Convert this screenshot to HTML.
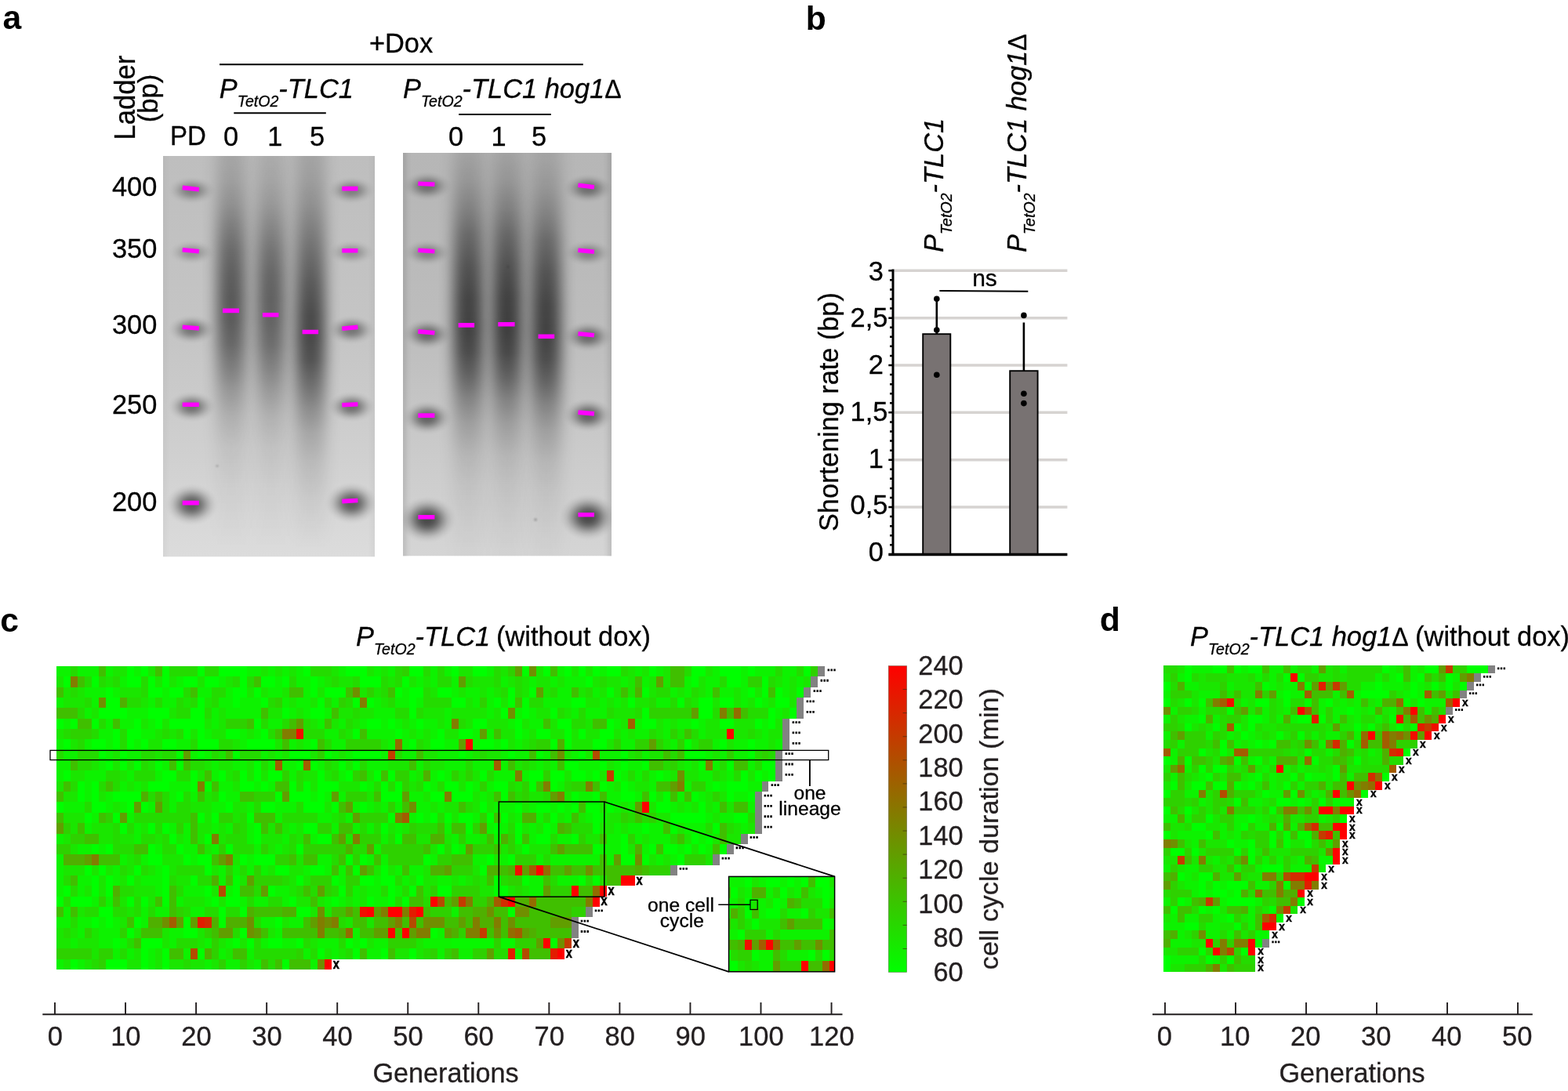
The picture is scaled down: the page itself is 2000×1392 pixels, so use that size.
<!DOCTYPE html>
<html lang="en"><head><meta charset="utf-8"><title>Figure</title>
<style>html,body{margin:0;padding:0;background:#fff}body{width:2000px;height:1392px;overflow:hidden}svg{display:block}text{font-family:"Liberation Sans",Arial,Helvetica,sans-serif}.i{font-style:italic}</style>
</head><body>
<svg width="2000" height="1392" viewBox="0 0 2000 1392">
<rect width="2000" height="1392" fill="#fff"/>
<defs>
<linearGradient id="cb" x1="0" y1="0" x2="0" y2="1"><stop offset="0" stop-color="#ff0000"/><stop offset="1" stop-color="#00ff00"/></linearGradient>
<linearGradient id="g1bg" x1="0" y1="0" x2="0" y2="1"><stop offset="0" stop-color="#bebebe"/><stop offset="0.45" stop-color="#c5c5c5"/><stop offset="0.75" stop-color="#d0d0d0"/><stop offset="1" stop-color="#dcdcdc"/></linearGradient>
<linearGradient id="g2bg" x1="0" y1="0" x2="0" y2="1"><stop offset="0" stop-color="#b6b6b6"/><stop offset="0.45" stop-color="#bdbdbd"/><stop offset="0.75" stop-color="#cbcbcb"/><stop offset="1" stop-color="#d5d5d5"/></linearGradient>
<linearGradient id="l10" x1="0" y1="0" x2="0" y2="1"><stop offset="0.0803" stop-color="#000" stop-opacity="0.13"/><stop offset="0.1311" stop-color="#000" stop-opacity="0.17"/><stop offset="0.1803" stop-color="#000" stop-opacity="0.25"/><stop offset="0.2295" stop-color="#000" stop-opacity="0.36"/><stop offset="0.2787" stop-color="#000" stop-opacity="0.46"/><stop offset="0.3279" stop-color="#000" stop-opacity="0.52"/><stop offset="0.377" stop-color="#000" stop-opacity="0.55"/><stop offset="0.4262" stop-color="#000" stop-opacity="0.54"/><stop offset="0.4754" stop-color="#000" stop-opacity="0.48"/><stop offset="0.5246" stop-color="#000" stop-opacity="0.37"/><stop offset="0.5738" stop-color="#000" stop-opacity="0.25"/><stop offset="0.623" stop-color="#000" stop-opacity="0.15"/><stop offset="0.6885" stop-color="#000" stop-opacity="0.07"/><stop offset="0.7705" stop-color="#000" stop-opacity="0.03"/><stop offset="0.9016" stop-color="#000" stop-opacity="0"/></linearGradient>
<linearGradient id="l11" x1="0" y1="0" x2="0" y2="1"><stop offset="0.0803" stop-color="#000" stop-opacity="0.1"/><stop offset="0.1311" stop-color="#000" stop-opacity="0.14"/><stop offset="0.1803" stop-color="#000" stop-opacity="0.21"/><stop offset="0.2295" stop-color="#000" stop-opacity="0.31"/><stop offset="0.2787" stop-color="#000" stop-opacity="0.41"/><stop offset="0.3279" stop-color="#000" stop-opacity="0.48"/><stop offset="0.377" stop-color="#000" stop-opacity="0.51"/><stop offset="0.4262" stop-color="#000" stop-opacity="0.5"/><stop offset="0.4754" stop-color="#000" stop-opacity="0.45"/><stop offset="0.5246" stop-color="#000" stop-opacity="0.35"/><stop offset="0.5738" stop-color="#000" stop-opacity="0.24"/><stop offset="0.623" stop-color="#000" stop-opacity="0.14"/><stop offset="0.6885" stop-color="#000" stop-opacity="0.07"/><stop offset="0.7705" stop-color="#000" stop-opacity="0.03"/><stop offset="0.9016" stop-color="#000" stop-opacity="0"/></linearGradient>
<linearGradient id="l12" x1="0" y1="0" x2="0" y2="1"><stop offset="0.0803" stop-color="#000" stop-opacity="0.14"/><stop offset="0.1311" stop-color="#000" stop-opacity="0.18"/><stop offset="0.1803" stop-color="#000" stop-opacity="0.25"/><stop offset="0.2295" stop-color="#000" stop-opacity="0.34"/><stop offset="0.2787" stop-color="#000" stop-opacity="0.43"/><stop offset="0.3443" stop-color="#000" stop-opacity="0.54"/><stop offset="0.4098" stop-color="#000" stop-opacity="0.62"/><stop offset="0.459" stop-color="#000" stop-opacity="0.64"/><stop offset="0.5082" stop-color="#000" stop-opacity="0.59"/><stop offset="0.5574" stop-color="#000" stop-opacity="0.46"/><stop offset="0.6066" stop-color="#000" stop-opacity="0.32"/><stop offset="0.6557" stop-color="#000" stop-opacity="0.2"/><stop offset="0.7213" stop-color="#000" stop-opacity="0.11"/><stop offset="0.8033" stop-color="#000" stop-opacity="0.05"/><stop offset="0.9016" stop-color="#000" stop-opacity="0"/></linearGradient>
<linearGradient id="l20" x1="0" y1="0" x2="0" y2="1"><stop offset="0.0738" stop-color="#000" stop-opacity="0.11"/><stop offset="0.1311" stop-color="#000" stop-opacity="0.18"/><stop offset="0.1885" stop-color="#000" stop-opacity="0.3"/><stop offset="0.2459" stop-color="#000" stop-opacity="0.44"/><stop offset="0.3115" stop-color="#000" stop-opacity="0.56"/><stop offset="0.377" stop-color="#000" stop-opacity="0.64"/><stop offset="0.4426" stop-color="#000" stop-opacity="0.66"/><stop offset="0.4918" stop-color="#000" stop-opacity="0.61"/><stop offset="0.541" stop-color="#000" stop-opacity="0.49"/><stop offset="0.5902" stop-color="#000" stop-opacity="0.33"/><stop offset="0.6393" stop-color="#000" stop-opacity="0.21"/><stop offset="0.7049" stop-color="#000" stop-opacity="0.11"/><stop offset="0.7705" stop-color="#000" stop-opacity="0.06"/><stop offset="0.8525" stop-color="#000" stop-opacity="0.03"/><stop offset="0.9098" stop-color="#000" stop-opacity="0.01"/></linearGradient>
<linearGradient id="l21" x1="0" y1="0" x2="0" y2="1"><stop offset="0.0738" stop-color="#000" stop-opacity="0.1133"/><stop offset="0.1311" stop-color="#000" stop-opacity="0.1854"/><stop offset="0.1885" stop-color="#000" stop-opacity="0.309"/><stop offset="0.2459" stop-color="#000" stop-opacity="0.4532"/><stop offset="0.3115" stop-color="#000" stop-opacity="0.5768"/><stop offset="0.377" stop-color="#000" stop-opacity="0.6592"/><stop offset="0.4426" stop-color="#000" stop-opacity="0.6798"/><stop offset="0.4918" stop-color="#000" stop-opacity="0.6283"/><stop offset="0.541" stop-color="#000" stop-opacity="0.5047"/><stop offset="0.5902" stop-color="#000" stop-opacity="0.3399"/><stop offset="0.6393" stop-color="#000" stop-opacity="0.2163"/><stop offset="0.7049" stop-color="#000" stop-opacity="0.1133"/><stop offset="0.7705" stop-color="#000" stop-opacity="0.0618"/><stop offset="0.8525" stop-color="#000" stop-opacity="0.0309"/><stop offset="0.9098" stop-color="#000" stop-opacity="0.0103"/></linearGradient>
<linearGradient id="l22" x1="0" y1="0" x2="0" y2="1"><stop offset="0.0869" stop-color="#000" stop-opacity="0.11"/><stop offset="0.1443" stop-color="#000" stop-opacity="0.18"/><stop offset="0.2016" stop-color="#000" stop-opacity="0.3"/><stop offset="0.259" stop-color="#000" stop-opacity="0.44"/><stop offset="0.3246" stop-color="#000" stop-opacity="0.56"/><stop offset="0.3902" stop-color="#000" stop-opacity="0.64"/><stop offset="0.4557" stop-color="#000" stop-opacity="0.66"/><stop offset="0.5049" stop-color="#000" stop-opacity="0.61"/><stop offset="0.5541" stop-color="#000" stop-opacity="0.49"/><stop offset="0.6033" stop-color="#000" stop-opacity="0.33"/><stop offset="0.6525" stop-color="#000" stop-opacity="0.21"/><stop offset="0.718" stop-color="#000" stop-opacity="0.11"/><stop offset="0.7836" stop-color="#000" stop-opacity="0.06"/><stop offset="0.8656" stop-color="#000" stop-opacity="0.03"/><stop offset="0.923" stop-color="#000" stop-opacity="0.01"/></linearGradient>
<radialGradient id="rb"><stop offset="0" stop-color="#000" stop-opacity="1.000"/><stop offset="0.12" stop-color="#000" stop-opacity="0.980"/><stop offset="0.24" stop-color="#000" stop-opacity="0.900"/><stop offset="0.36" stop-color="#000" stop-opacity="0.750"/><stop offset="0.48" stop-color="#000" stop-opacity="0.550"/><stop offset="0.6" stop-color="#000" stop-opacity="0.350"/><stop offset="0.72" stop-color="#000" stop-opacity="0.180"/><stop offset="0.84" stop-color="#000" stop-opacity="0.070"/><stop offset="0.93" stop-color="#000" stop-opacity="0.020"/><stop offset="1" stop-color="#000" stop-opacity="0.000"/></radialGradient>
<filter id="bl" x="-50%" y="-20%" width="200%" height="140%" color-interpolation-filters="sRGB"><feGaussianBlur stdDeviation="9 2"/></filter>
<filter id="bb" x="-120%" y="-250%" width="340%" height="600%" color-interpolation-filters="sRGB"><feGaussianBlur stdDeviation="7.5 6"/></filter>
<filter id="bs" x="-100%" y="-100%" width="300%" height="300%"><feGaussianBlur stdDeviation="0.9"/></filter>
<filter id="bv" x="-300%" y="-5%" width="700%" height="110%" color-interpolation-filters="sRGB"><feGaussianBlur stdDeviation="4 0"/></filter>
<clipPath id="c1"><rect x="208" y="199" width="270" height="511.5"/></clipPath>
<clipPath id="c2"><rect x="514" y="195" width="266" height="514.5"/></clipPath>
<clipPath id="ci"><rect x="929.6" y="1118.4" width="135" height="121.4"/></clipPath>
</defs>
<g font-weight="bold" fill="#000">
<text transform="translate(3.4 37.3)" font-size="42.6">a</text>
<text transform="translate(1027.8 37.5)" font-size="42.6">b</text>
<text transform="translate(0.2 805.6)" font-size="42.6">c</text>
<text transform="translate(1402.8 805)" font-size="42.6">d</text>
</g>
<g fill="#000">
<text transform="translate(172.2 124.6) rotate(-90) scale(1 1.05)" font-size="34.6" text-anchor="middle" stroke="#000" stroke-width="0.3">Ladder</text>
<text transform="translate(200.5 125.6) rotate(-90) scale(1 1.03)" font-size="34.6" text-anchor="middle" stroke="#000" stroke-width="0.3">(bp)</text>
<text transform="translate(511.5 67) scale(1 1.04)" font-size="34.4" text-anchor="middle" stroke="#000" stroke-width="0.3">+Dox</text>
<text transform="translate(217 184.6) scale(1 1.04)" font-size="33" stroke="#000" stroke-width="0.3">PD</text>
<text transform="translate(294.5 186.1) scale(1 1.035)" font-size="34.4" text-anchor="middle" stroke="#000" stroke-width="0.3">0</text>
<text transform="translate(350.8 186.1) scale(1 1.035)" font-size="34.4" text-anchor="middle" stroke="#000" stroke-width="0.3">1</text>
<text transform="translate(404.5 186.1) scale(1 1.035)" font-size="34.4" text-anchor="middle" stroke="#000" stroke-width="0.3">5</text>
<text transform="translate(581.5 186.1) scale(1 1.035)" font-size="34.4" text-anchor="middle" stroke="#000" stroke-width="0.3">0</text>
<text transform="translate(636.1 186.1) scale(1 1.035)" font-size="34.4" text-anchor="middle" stroke="#000" stroke-width="0.3">1</text>
<text transform="translate(687.5 186.1) scale(1 1.035)" font-size="34.4" text-anchor="middle" stroke="#000" stroke-width="0.3">5</text>
<text transform="translate(279.8 124.8) scale(1 1.03)" font-size="34.4" stroke="#000" stroke-width="0.3"><tspan class="i">P<tspan font-size="19.6" dy="10.6">TetO2</tspan><tspan dy="-10.6">-TLC1</tspan></tspan></text>
<text transform="translate(514 124.8) scale(1 1.03)" font-size="34.4" stroke="#000" stroke-width="0.3"><tspan class="i">P<tspan font-size="19.6" dy="10.6">TetO2</tspan><tspan dy="-10.6">-TLC1 hog1</tspan></tspan><tspan font-size="32">Δ</tspan></text>
<text transform="translate(200.3 249.9) scale(1 1.035)" font-size="34.4" text-anchor="end" stroke="#000" stroke-width="0.3">400</text>
<text transform="translate(200.3 329.3) scale(1 1.035)" font-size="34.4" text-anchor="end" stroke="#000" stroke-width="0.3">350</text>
<text transform="translate(200.3 426.3) scale(1 1.035)" font-size="34.4" text-anchor="end" stroke="#000" stroke-width="0.3">300</text>
<text transform="translate(200.3 527.9) scale(1 1.035)" font-size="34.4" text-anchor="end" stroke="#000" stroke-width="0.3">250</text>
<text transform="translate(200.3 651.6) scale(1 1.035)" font-size="34.4" text-anchor="end" stroke="#000" stroke-width="0.3">200</text>
</g>
<g stroke="#000" stroke-width="1.9" fill="none">
<path d="M280 82.2H743.8"/>
<path d="M298.3 144.3H415.8"/>
<path d="M585.2 146H702.8"/>
</g>
<g clip-path="url(#c1)">
<rect x="208" y="199" width="270" height="511.5" fill="url(#g1bg)"/>
<rect x="206" y="179" width="3" height="551.5" fill="#000" opacity="0.1" filter="url(#bv)"/>
<rect x="477" y="179" width="3" height="551.5" fill="#000" opacity="0.1" filter="url(#bv)"/>
<rect x="276.5" y="150" width="37" height="610" fill="url(#l10)" filter="url(#bl)"/>
<rect x="327" y="150" width="37" height="610" fill="url(#l11)" filter="url(#bl)"/>
<rect x="377" y="150" width="38" height="610" fill="url(#l12)" filter="url(#bl)"/>
<ellipse cx="244.5" cy="243" rx="31" ry="18" fill="url(#rb)" opacity="0.34"/>
<ellipse cx="244.5" cy="322" rx="30" ry="16" fill="url(#rb)" opacity="0.25"/>
<ellipse cx="244.5" cy="420.5" rx="31" ry="19" fill="url(#rb)" opacity="0.4"/>
<ellipse cx="244.5" cy="519" rx="31" ry="20" fill="url(#rb)" opacity="0.44"/>
<ellipse cx="244.5" cy="644" rx="34" ry="27" fill="url(#rb)" opacity="0.57"/>
<ellipse cx="448.5" cy="243" rx="31" ry="18" fill="url(#rb)" opacity="0.34"/>
<ellipse cx="448.5" cy="322" rx="30" ry="16" fill="url(#rb)" opacity="0.25"/>
<ellipse cx="448.5" cy="421" rx="31" ry="19" fill="url(#rb)" opacity="0.4"/>
<ellipse cx="448.5" cy="519" rx="31" ry="20" fill="url(#rb)" opacity="0.44"/>
<ellipse cx="448.5" cy="642" rx="34" ry="27" fill="url(#rb)" opacity="0.57"/>
</g>
<g clip-path="url(#c2)">
<rect x="514" y="195" width="266" height="514.5" fill="url(#g2bg)"/>
<rect x="511" y="175" width="5" height="554.5" fill="#000" opacity="0.22" filter="url(#bv)"/>
<rect x="778" y="175" width="5" height="554.5" fill="#000" opacity="0.22" filter="url(#bv)"/>
<rect x="578.5" y="150" width="38" height="610" fill="url(#l20)" filter="url(#bl)"/>
<rect x="628" y="150" width="38" height="610" fill="url(#l21)" filter="url(#bl)"/>
<rect x="677.5" y="150" width="38" height="610" fill="url(#l22)" filter="url(#bl)"/>
<ellipse cx="545" cy="237.5" rx="32" ry="19" fill="url(#rb)" opacity="0.4"/>
<ellipse cx="545" cy="322.5" rx="31" ry="17" fill="url(#rb)" opacity="0.3"/>
<ellipse cx="545" cy="426.5" rx="32" ry="20" fill="url(#rb)" opacity="0.44"/>
<ellipse cx="545" cy="533" rx="32" ry="22" fill="url(#rb)" opacity="0.5"/>
<ellipse cx="545" cy="663" rx="37" ry="30" fill="url(#rb)" opacity="0.65"/>
<ellipse cx="750" cy="240.5" rx="32" ry="19" fill="url(#rb)" opacity="0.4"/>
<ellipse cx="750" cy="323" rx="31" ry="17" fill="url(#rb)" opacity="0.3"/>
<ellipse cx="750" cy="429.5" rx="32" ry="20" fill="url(#rb)" opacity="0.44"/>
<ellipse cx="750" cy="530" rx="32" ry="22" fill="url(#rb)" opacity="0.5"/>
<ellipse cx="750" cy="660" rx="37" ry="30" fill="url(#rb)" opacity="0.65"/>
</g>
<g fill="#000" opacity=".2" filter="url(#bs)"><circle cx="277" cy="594.5" r="1.6"/><circle cx="683" cy="663" r="2.1"/><circle cx="648" cy="340.5" r="1.3"/></g>
<g stroke="#ff00ff" stroke-width="5.6" fill="none">
<path d="M232.7 239.4L253.8 241.8M232.7 318.8L253.8 320.8M232.7 417.2L253.8 419M232.7 516.2L253.8 516.2M232.7 641.6L253.8 641.6M436.3 240.6L456.4 240.6M436.3 319.8L456.4 319.8M436.3 419.2L456.4 417.4M436.3 516.8L456.4 515.8M436.3 639.6L456.4 638.5M284 396.4L305.1 396.4M334.9 401.8L355.4 401.8M385.6 423.5L406.1 423.5M533.3 234.3L554.4 235.3M533.3 319.2L554.4 320.8M533.3 422.9L554.4 424.7M533.3 530.1L554.4 530.1M533.3 659.8L554.4 659.8M737.4 236.3L757.9 238.7M737.4 319.2L757.9 321.2M737.4 425.7L757.9 427.8M737.4 526.1L757.9 527.9M737.4 656.8L757.9 656.8M584.6 414.9L605.1 414.9M635.3 413.7L656.6 413.7M686.5 429.2L707.2 429.2"/>
</g>
<g stroke="#d6d3d1" stroke-width="3.5">
<path d="M1140.5 647.05H1361.4"/>
<path d="M1140.5 586.7H1361.4"/>
<path d="M1140.5 526.35H1361.4"/>
<path d="M1140.5 466H1361.4"/>
<path d="M1140.5 405.65H1361.4"/>
<path d="M1140.5 345.3H1361.4"/>
</g>
<g stroke="#000" stroke-width="1.9" fill="#787272">
<rect x="1177.2" y="426.2" width="35.1" height="281"/>
<rect x="1288.2" y="473.2" width="35.4" height="234"/>
</g>
<g stroke="#000" stroke-width="2.6" fill="none"><path d="M1194.8 381.2V426M1305.9 411.4V473"/></g>
<g fill="#000">
<circle cx="1194.8" cy="381.3" r="3.8"/>
<circle cx="1194.8" cy="421" r="3.8"/>
<circle cx="1194.8" cy="478.2" r="3.8"/>
<circle cx="1305.9" cy="402.4" r="3.8"/>
<circle cx="1305.9" cy="502.2" r="3.8"/>
<circle cx="1305.9" cy="514.6" r="3.8"/>
</g>
<g stroke="#000" fill="none">
<path stroke-width="3" d="M1139 343.4V709.1"/>
<path stroke-width="3.5" d="M1133.3 707.4H1361.4"/>
<path stroke-width="2.5" d="M1135 695.33H1138M1135 683.26H1138M1135 671.19H1138M1135 659.12H1138M1133.3 647.05H1138M1135 634.98H1138M1135 622.91H1138M1135 610.84H1138M1135 598.77H1138M1133.3 586.7H1138M1135 574.63H1138M1135 562.56H1138M1135 550.49H1138M1135 538.42H1138M1133.3 526.35H1138M1135 514.28H1138M1135 502.21H1138M1135 490.14H1138M1135 478.07H1138M1133.3 466H1138M1135 453.93H1138M1135 441.86H1138M1135 429.79H1138M1135 417.72H1138M1133.3 405.65H1138M1135 393.58H1138M1135 381.51H1138M1135 369.44H1138M1135 357.37H1138M1133.3 345.3H1138"/>
<path stroke-width="1.9" d="M1198.4 371L1311.3 371.8"/>
</g>
<g fill="#000">
<text transform="translate(1126.9 716.1) scale(1 1.04)" font-size="34.4" text-anchor="end" stroke="#000" stroke-width="0.3">0</text>
<text transform="translate(1132.4 655.8) scale(1 1.04)" font-size="34.4" text-anchor="end" stroke="#000" stroke-width="0.3">0,5</text>
<text transform="translate(1126.9 596.9) scale(1 1.04)" font-size="34.4" text-anchor="end" stroke="#000" stroke-width="0.3">1</text>
<text transform="translate(1132.4 536.9) scale(1 1.04)" font-size="34.4" text-anchor="end" stroke="#000" stroke-width="0.3">1,5</text>
<text transform="translate(1126.9 477.2) scale(1 1.04)" font-size="34.4" text-anchor="end" stroke="#000" stroke-width="0.3">2</text>
<text transform="translate(1132.4 416.5) scale(1 1.04)" font-size="34.4" text-anchor="end" stroke="#000" stroke-width="0.3">2,5</text>
<text transform="translate(1126.9 358.1) scale(1 1.04)" font-size="34.4" text-anchor="end" stroke="#000" stroke-width="0.3">3</text>
<text transform="translate(1256 364.8)" font-size="30" text-anchor="middle" stroke="#000" stroke-width="0.3">ns</text>
<text transform="translate(1068.9 525.6) rotate(-90) scale(1 1.02)" font-size="34.3" text-anchor="middle" stroke="#000" stroke-width="0.3">Shortening rate (bp)</text>
<text transform="translate(1203.2 322) rotate(-90) scale(1 1.03)" font-size="34.4" stroke="#000" stroke-width="0.3"><tspan class="i">P<tspan font-size="19.6" dy="10.6">TetO2</tspan><tspan dy="-10.6">-TLC1</tspan></tspan></text>
<text transform="translate(1309.2 322) rotate(-90) scale(1 1.03)" font-size="34.4" stroke="#000" stroke-width="0.3"><tspan class="i">P<tspan font-size="19.6" dy="10.6">TetO2</tspan><tspan dy="-10.6">-TLC1 hog1</tspan></tspan><tspan font-size="32">Δ</tspan></text>
</g>
<g shape-rendering="crispEdges"><path fill="#0df200" d="M72 850H81V863.35H72ZM81 850H89.99V863.35H81ZM98.98 850H107.98V863.35H98.98ZM107.98 850H116.97V863.35H107.98ZM116.97 850H125.97V863.35H116.97ZM134.97 850H143.96V863.35H134.97ZM170.94 850H179.94V863.35H170.94ZM314.87 850H323.86V863.35H314.87ZM323.86 850H332.85V863.35H323.86ZM341.85 850H350.84V863.35H341.85ZM359.84 850H368.83V863.35H359.84ZM377.83 850H386.82V863.35H377.83ZM431.8 850H440.79V863.35H431.8ZM476.77 850H485.77V863.35H476.77ZM494.76 850H503.76V863.35H494.76ZM548.73 850H557.73V863.35H548.73ZM566.72 850H575.72V863.35H566.72ZM620.69 850H629.69V863.35H620.69ZM710.64 850H719.64V863.35H710.64ZM764.61 850H773.61V863.35H764.61ZM809.59 850H818.58V863.35H809.59ZM836.57 850H845.57V863.35H836.57ZM908.53 850H917.53V863.35H908.53ZM944.51 850H953.51V863.35H944.51ZM962.5 850H971.5V863.35H962.5ZM971.5 850H980.49V863.35H971.5ZM980.49 850H989.49V863.35H980.49ZM998.48 850H1007.48V863.35H998.48ZM1007.48 850H1016.47V863.35H1007.48ZM152.95 863.35H161.95V876.69H152.95ZM224.91 863.35H233.91V876.69H224.91ZM278.88 863.35H287.88V876.69H278.88ZM350.84 863.35H359.84V876.69H350.84ZM377.83 863.35H386.82V876.69H377.83ZM386.82 863.35H395.82V876.69H386.82ZM404.81 863.35H413.81V876.69H404.81ZM530.74 863.35H539.74V876.69H530.74ZM548.73 863.35H557.73V876.69H548.73ZM575.72 863.35H584.71V876.69H575.72ZM638.68 863.35H647.68V876.69H638.68ZM674.66 863.35H683.66V876.69H674.66ZM701.65 863.35H710.64V876.69H701.65ZM719.64 863.35H728.63V876.69H719.64ZM728.63 863.35H737.63V876.69H728.63ZM737.63 863.35H746.62V876.69H737.63ZM791.6 863.35H800.59V876.69H791.6ZM818.58 863.35H827.58V876.69H818.58ZM872.55 863.35H881.55V876.69H872.55ZM899.54 863.35H908.53V876.69H899.54ZM908.53 863.35H917.53V876.69H908.53ZM944.51 863.35H953.51V876.69H944.51ZM998.48 863.35H1007.48V876.69H998.48ZM1016.47 863.35H1025.47V876.69H1016.47ZM107.98 876.69H116.97V890.03H107.98ZM116.97 876.69H125.97V890.03H116.97ZM125.97 876.69H134.97V890.03H125.97ZM143.96 876.69H152.95V890.03H143.96ZM206.92 876.69H215.92V890.03H206.92ZM251.9 876.69H260.89V890.03H251.9ZM260.89 876.69H269.89V890.03H260.89ZM287.88 876.69H296.88V890.03H287.88ZM341.85 876.69H350.84V890.03H341.85ZM350.84 876.69H359.84V890.03H350.84ZM386.82 876.69H395.82V890.03H386.82ZM512.75 876.69H521.75V890.03H512.75ZM575.72 876.69H584.71V890.03H575.72ZM593.71 876.69H602.7V890.03H593.71ZM602.7 876.69H611.7V890.03H602.7ZM620.69 876.69H629.69V890.03H620.69ZM710.64 876.69H719.64V890.03H710.64ZM719.64 876.69H728.63V890.03H719.64ZM755.62 876.69H764.61V890.03H755.62ZM854.56 876.69H863.56V890.03H854.56ZM872.55 876.69H881.55V890.03H872.55ZM899.54 876.69H908.53V890.03H899.54ZM917.53 876.69H926.52V890.03H917.53ZM926.52 876.69H935.52V890.03H926.52ZM944.51 876.69H953.51V890.03H944.51ZM998.48 876.69H1007.48V890.03H998.48ZM72 890.03H81V903.38H72ZM116.97 890.03H125.97V903.38H116.97ZM188.94 890.03H197.93V903.38H188.94ZM206.92 890.03H215.92V903.38H206.92ZM215.92 890.03H224.91V903.38H215.92ZM278.88 890.03H287.88V903.38H278.88ZM287.88 890.03H296.88V903.38H287.88ZM305.87 890.03H314.87V903.38H305.87ZM314.87 890.03H323.86V903.38H314.87ZM323.86 890.03H332.85V903.38H323.86ZM359.84 890.03H368.83V903.38H359.84ZM377.83 890.03H386.82V903.38H377.83ZM386.82 890.03H395.82V903.38H386.82ZM422.8 890.03H431.8V903.38H422.8ZM476.77 890.03H485.77V903.38H476.77ZM503.76 890.03H512.75V903.38H503.76ZM512.75 890.03H521.75V903.38H512.75ZM530.74 890.03H539.74V903.38H530.74ZM602.7 890.03H611.7V903.38H602.7ZM620.69 890.03H629.69V903.38H620.69ZM692.65 890.03H701.65V903.38H692.65ZM701.65 890.03H710.64V903.38H701.65ZM710.64 890.03H719.64V903.38H710.64ZM719.64 890.03H728.63V903.38H719.64ZM764.61 890.03H773.61V903.38H764.61ZM782.6 890.03H791.6V903.38H782.6ZM836.57 890.03H845.57V903.38H836.57ZM845.57 890.03H854.56V903.38H845.57ZM944.51 890.03H953.51V903.38H944.51ZM971.5 890.03H980.49V903.38H971.5ZM107.98 903.38H116.97V916.73H107.98ZM161.95 903.38H170.94V916.73H161.95ZM170.94 903.38H179.94V916.73H170.94ZM179.94 903.38H188.94V916.73H179.94ZM269.89 903.38H278.88V916.73H269.89ZM287.88 903.38H296.88V916.73H287.88ZM296.88 903.38H305.87V916.73H296.88ZM305.87 903.38H314.87V916.73H305.87ZM314.87 903.38H323.86V916.73H314.87ZM323.86 903.38H332.85V916.73H323.86ZM368.83 903.38H377.83V916.73H368.83ZM386.82 903.38H395.82V916.73H386.82ZM413.81 903.38H422.8V916.73H413.81ZM476.77 903.38H485.77V916.73H476.77ZM485.77 903.38H494.76V916.73H485.77ZM494.76 903.38H503.76V916.73H494.76ZM566.72 903.38H575.72V916.73H566.72ZM620.69 903.38H629.69V916.73H620.69ZM656.67 903.38H665.67V916.73H656.67ZM674.66 903.38H683.66V916.73H674.66ZM728.63 903.38H737.63V916.73H728.63ZM746.62 903.38H755.62V916.73H746.62ZM755.62 903.38H764.61V916.73H755.62ZM764.61 903.38H773.61V916.73H764.61ZM989.49 903.38H998.48V916.73H989.49ZM81 916.73H89.99V930.07H81ZM134.97 916.73H143.96V930.07H134.97ZM152.95 916.73H161.95V930.07H152.95ZM161.95 916.73H170.94V930.07H161.95ZM188.94 916.73H197.93V930.07H188.94ZM269.89 916.73H278.88V930.07H269.89ZM341.85 916.73H350.84V930.07H341.85ZM350.84 916.73H359.84V930.07H350.84ZM404.81 916.73H413.81V930.07H404.81ZM431.8 916.73H440.79V930.07H431.8ZM458.78 916.73H467.78V930.07H458.78ZM485.77 916.73H494.76V930.07H485.77ZM503.76 916.73H512.75V930.07H503.76ZM521.75 916.73H530.74V930.07H521.75ZM539.74 916.73H548.73V930.07H539.74ZM548.73 916.73H557.73V930.07H548.73ZM566.72 916.73H575.72V930.07H566.72ZM647.68 916.73H656.67V930.07H647.68ZM674.66 916.73H683.66V930.07H674.66ZM683.66 916.73H692.65V930.07H683.66ZM782.6 916.73H791.6V930.07H782.6ZM809.59 916.73H818.58V930.07H809.59ZM845.57 916.73H854.56V930.07H845.57ZM863.56 916.73H872.55V930.07H863.56ZM872.55 916.73H881.55V930.07H872.55ZM890.54 916.73H899.54V930.07H890.54ZM971.5 916.73H980.49V930.07H971.5ZM125.97 930.07H134.97V943.41H125.97ZM134.97 930.07H143.96V943.41H134.97ZM179.94 930.07H188.94V943.41H179.94ZM188.94 930.07H197.93V943.41H188.94ZM260.89 930.07H269.89V943.41H260.89ZM305.87 930.07H314.87V943.41H305.87ZM323.86 930.07H332.85V943.41H323.86ZM413.81 930.07H422.8V943.41H413.81ZM422.8 930.07H431.8V943.41H422.8ZM467.78 930.07H476.77V943.41H467.78ZM476.77 930.07H485.77V943.41H476.77ZM485.77 930.07H494.76V943.41H485.77ZM494.76 930.07H503.76V943.41H494.76ZM512.75 930.07H521.75V943.41H512.75ZM530.74 930.07H539.74V943.41H530.74ZM548.73 930.07H557.73V943.41H548.73ZM602.7 930.07H611.7V943.41H602.7ZM620.69 930.07H629.69V943.41H620.69ZM665.67 930.07H674.66V943.41H665.67ZM791.6 930.07H800.59V943.41H791.6ZM809.59 930.07H818.58V943.41H809.59ZM818.58 930.07H827.58V943.41H818.58ZM845.57 930.07H854.56V943.41H845.57ZM890.54 930.07H899.54V943.41H890.54ZM971.5 930.07H980.49V943.41H971.5ZM72 943.41H81V956.76H72ZM107.98 943.41H116.97V956.76H107.98ZM134.97 943.41H143.96V956.76H134.97ZM170.94 943.41H179.94V956.76H170.94ZM224.91 943.41H233.91V956.76H224.91ZM233.91 943.41H242.9V956.76H233.91ZM305.87 943.41H314.87V956.76H305.87ZM368.83 943.41H377.83V956.76H368.83ZM386.82 943.41H395.82V956.76H386.82ZM422.8 943.41H431.8V956.76H422.8ZM431.8 943.41H440.79V956.76H431.8ZM494.76 943.41H503.76V956.76H494.76ZM512.75 943.41H521.75V956.76H512.75ZM566.72 943.41H575.72V956.76H566.72ZM575.72 943.41H584.71V956.76H575.72ZM602.7 943.41H611.7V956.76H602.7ZM629.69 943.41H638.68V956.76H629.69ZM656.67 943.41H665.67V956.76H656.67ZM791.6 943.41H800.59V956.76H791.6ZM800.59 943.41H809.59V956.76H800.59ZM854.56 943.41H863.56V956.76H854.56ZM908.53 943.41H917.53V956.76H908.53ZM935.52 943.41H944.51V956.76H935.52ZM944.51 943.41H953.51V956.76H944.51ZM962.5 943.41H971.5V956.76H962.5ZM971.5 943.41H980.49V956.76H971.5ZM989.49 943.41H998.48V956.76H989.49ZM81 956.76H89.99V970.11H81ZM89.99 956.76H98.98V970.11H89.99ZM134.97 956.76H143.96V970.11H134.97ZM161.95 956.76H170.94V970.11H161.95ZM170.94 956.76H179.94V970.11H170.94ZM242.9 956.76H251.9V970.11H242.9ZM260.89 956.76H269.89V970.11H260.89ZM332.85 956.76H341.85V970.11H332.85ZM350.84 956.76H359.84V970.11H350.84ZM422.8 956.76H431.8V970.11H422.8ZM440.79 956.76H449.79V970.11H440.79ZM485.77 956.76H494.76V970.11H485.77ZM512.75 956.76H521.75V970.11H512.75ZM521.75 956.76H530.74V970.11H521.75ZM557.73 956.76H566.72V970.11H557.73ZM566.72 956.76H575.72V970.11H566.72ZM575.72 956.76H584.71V970.11H575.72ZM593.71 956.76H602.7V970.11H593.71ZM638.68 956.76H647.68V970.11H638.68ZM656.67 956.76H665.67V970.11H656.67ZM665.67 956.76H674.66V970.11H665.67ZM692.65 956.76H701.65V970.11H692.65ZM728.63 956.76H737.63V970.11H728.63ZM764.61 956.76H773.61V970.11H764.61ZM773.61 956.76H782.6V970.11H773.61ZM782.6 956.76H791.6V970.11H782.6ZM818.58 956.76H827.58V970.11H818.58ZM899.54 956.76H908.53V970.11H899.54ZM917.53 956.76H926.52V970.11H917.53ZM935.52 956.76H944.51V970.11H935.52ZM944.51 956.76H953.51V970.11H944.51ZM72 970.11H81V983.45H72ZM81 970.11H89.99V983.45H81ZM125.97 970.11H134.97V983.45H125.97ZM206.92 970.11H215.92V983.45H206.92ZM269.89 970.11H278.88V983.45H269.89ZM296.88 970.11H305.87V983.45H296.88ZM305.87 970.11H314.87V983.45H305.87ZM341.85 970.11H350.84V983.45H341.85ZM359.84 970.11H368.83V983.45H359.84ZM368.83 970.11H377.83V983.45H368.83ZM404.81 970.11H413.81V983.45H404.81ZM467.78 970.11H476.77V983.45H467.78ZM476.77 970.11H485.77V983.45H476.77ZM485.77 970.11H494.76V983.45H485.77ZM530.74 970.11H539.74V983.45H530.74ZM566.72 970.11H575.72V983.45H566.72ZM575.72 970.11H584.71V983.45H575.72ZM584.71 970.11H593.71V983.45H584.71ZM602.7 970.11H611.7V983.45H602.7ZM611.7 970.11H620.69V983.45H611.7ZM620.69 970.11H629.69V983.45H620.69ZM638.68 970.11H647.68V983.45H638.68ZM683.66 970.11H692.65V983.45H683.66ZM701.65 970.11H710.64V983.45H701.65ZM737.63 970.11H746.62V983.45H737.63ZM746.62 970.11H755.62V983.45H746.62ZM755.62 970.11H764.61V983.45H755.62ZM782.6 970.11H791.6V983.45H782.6ZM800.59 970.11H809.59V983.45H800.59ZM809.59 970.11H818.58V983.45H809.59ZM872.55 970.11H881.55V983.45H872.55ZM908.53 970.11H917.53V983.45H908.53ZM953.51 970.11H962.5V983.45H953.51ZM72 983.45H81V996.8H72ZM107.98 983.45H116.97V996.8H107.98ZM116.97 983.45H125.97V996.8H116.97ZM125.97 983.45H134.97V996.8H125.97ZM161.95 983.45H170.94V996.8H161.95ZM197.93 983.45H206.92V996.8H197.93ZM269.89 983.45H278.88V996.8H269.89ZM368.83 983.45H377.83V996.8H368.83ZM431.8 983.45H440.79V996.8H431.8ZM521.75 983.45H530.74V996.8H521.75ZM548.73 983.45H557.73V996.8H548.73ZM566.72 983.45H575.72V996.8H566.72ZM629.69 983.45H638.68V996.8H629.69ZM638.68 983.45H647.68V996.8H638.68ZM647.68 983.45H656.67V996.8H647.68ZM665.67 983.45H674.66V996.8H665.67ZM746.62 983.45H755.62V996.8H746.62ZM791.6 983.45H800.59V996.8H791.6ZM809.59 983.45H818.58V996.8H809.59ZM827.58 983.45H836.57V996.8H827.58ZM845.57 983.45H854.56V996.8H845.57ZM890.54 983.45H899.54V996.8H890.54ZM899.54 983.45H908.53V996.8H899.54ZM926.52 983.45H935.52V996.8H926.52ZM971.5 983.45H980.49V996.8H971.5ZM107.98 996.8H116.97V1010.14H107.98ZM152.95 996.8H161.95V1010.14H152.95ZM170.94 996.8H179.94V1010.14H170.94ZM215.92 996.8H224.91V1010.14H215.92ZM224.91 996.8H233.91V1010.14H224.91ZM233.91 996.8H242.9V1010.14H233.91ZM278.88 996.8H287.88V1010.14H278.88ZM287.88 996.8H296.88V1010.14H287.88ZM323.86 996.8H332.85V1010.14H323.86ZM341.85 996.8H350.84V1010.14H341.85ZM467.78 996.8H476.77V1010.14H467.78ZM548.73 996.8H557.73V1010.14H548.73ZM602.7 996.8H611.7V1010.14H602.7ZM620.69 996.8H629.69V1010.14H620.69ZM710.64 996.8H719.64V1010.14H710.64ZM773.61 996.8H782.6V1010.14H773.61ZM800.59 996.8H809.59V1010.14H800.59ZM827.58 996.8H836.57V1010.14H827.58ZM872.55 996.8H881.55V1010.14H872.55ZM899.54 996.8H908.53V1010.14H899.54ZM917.53 996.8H926.52V1010.14H917.53ZM953.51 996.8H962.5V1010.14H953.51ZM962.5 996.8H971.5V1010.14H962.5ZM107.98 1010.14H116.97V1023.49H107.98ZM134.97 1010.14H143.96V1023.49H134.97ZM215.92 1010.14H224.91V1023.49H215.92ZM242.9 1010.14H251.9V1023.49H242.9ZM287.88 1010.14H296.88V1023.49H287.88ZM296.88 1010.14H305.87V1023.49H296.88ZM395.82 1010.14H404.81V1023.49H395.82ZM413.81 1010.14H422.8V1023.49H413.81ZM431.8 1010.14H440.79V1023.49H431.8ZM521.75 1010.14H530.74V1023.49H521.75ZM530.74 1010.14H539.74V1023.49H530.74ZM611.7 1010.14H620.69V1023.49H611.7ZM737.63 1010.14H746.62V1023.49H737.63ZM746.62 1010.14H755.62V1023.49H746.62ZM773.61 1010.14H782.6V1023.49H773.61ZM782.6 1010.14H791.6V1023.49H782.6ZM809.59 1010.14H818.58V1023.49H809.59ZM863.56 1010.14H872.55V1023.49H863.56ZM890.54 1010.14H899.54V1023.49H890.54ZM935.52 1010.14H944.51V1023.49H935.52ZM944.51 1010.14H953.51V1023.49H944.51ZM81 1023.49H89.99V1036.83H81ZM89.99 1023.49H98.98V1036.83H89.99ZM98.98 1023.49H107.98V1036.83H98.98ZM134.97 1023.49H143.96V1036.83H134.97ZM152.95 1023.49H161.95V1036.83H152.95ZM188.94 1023.49H197.93V1036.83H188.94ZM215.92 1023.49H224.91V1036.83H215.92ZM269.89 1023.49H278.88V1036.83H269.89ZM278.88 1023.49H287.88V1036.83H278.88ZM314.87 1023.49H323.86V1036.83H314.87ZM350.84 1023.49H359.84V1036.83H350.84ZM359.84 1023.49H368.83V1036.83H359.84ZM368.83 1023.49H377.83V1036.83H368.83ZM449.79 1023.49H458.78V1036.83H449.79ZM467.78 1023.49H476.77V1036.83H467.78ZM485.77 1023.49H494.76V1036.83H485.77ZM503.76 1023.49H512.75V1036.83H503.76ZM530.74 1023.49H539.74V1036.83H530.74ZM539.74 1023.49H548.73V1036.83H539.74ZM557.73 1023.49H566.72V1036.83H557.73ZM629.69 1023.49H638.68V1036.83H629.69ZM638.68 1023.49H647.68V1036.83H638.68ZM647.68 1023.49H656.67V1036.83H647.68ZM674.66 1023.49H683.66V1036.83H674.66ZM701.65 1023.49H710.64V1036.83H701.65ZM719.64 1023.49H728.63V1036.83H719.64ZM782.6 1023.49H791.6V1036.83H782.6ZM800.59 1023.49H809.59V1036.83H800.59ZM854.56 1023.49H863.56V1036.83H854.56ZM872.55 1023.49H881.55V1036.83H872.55ZM908.53 1023.49H917.53V1036.83H908.53ZM953.51 1023.49H962.5V1036.83H953.51ZM116.97 1036.83H125.97V1050.17H116.97ZM161.95 1036.83H170.94V1050.17H161.95ZM350.84 1036.83H359.84V1050.17H350.84ZM404.81 1036.83H413.81V1050.17H404.81ZM413.81 1036.83H422.8V1050.17H413.81ZM440.79 1036.83H449.79V1050.17H440.79ZM521.75 1036.83H530.74V1050.17H521.75ZM539.74 1036.83H548.73V1050.17H539.74ZM602.7 1036.83H611.7V1050.17H602.7ZM656.67 1036.83H665.67V1050.17H656.67ZM683.66 1036.83H692.65V1050.17H683.66ZM719.64 1036.83H728.63V1050.17H719.64ZM746.62 1036.83H755.62V1050.17H746.62ZM764.61 1036.83H773.61V1050.17H764.61ZM899.54 1036.83H908.53V1050.17H899.54ZM917.53 1036.83H926.52V1050.17H917.53ZM926.52 1036.83H935.52V1050.17H926.52ZM107.98 1050.17H116.97V1063.52H107.98ZM170.94 1050.17H179.94V1063.52H170.94ZM215.92 1050.17H224.91V1063.52H215.92ZM233.91 1050.17H242.9V1063.52H233.91ZM269.89 1050.17H278.88V1063.52H269.89ZM287.88 1050.17H296.88V1063.52H287.88ZM314.87 1050.17H323.86V1063.52H314.87ZM368.83 1050.17H377.83V1063.52H368.83ZM422.8 1050.17H431.8V1063.52H422.8ZM449.79 1050.17H458.78V1063.52H449.79ZM467.78 1050.17H476.77V1063.52H467.78ZM503.76 1050.17H512.75V1063.52H503.76ZM566.72 1050.17H575.72V1063.52H566.72ZM620.69 1050.17H629.69V1063.52H620.69ZM638.68 1050.17H647.68V1063.52H638.68ZM674.66 1050.17H683.66V1063.52H674.66ZM701.65 1050.17H710.64V1063.52H701.65ZM782.6 1050.17H791.6V1063.52H782.6ZM800.59 1050.17H809.59V1063.52H800.59ZM809.59 1050.17H818.58V1063.52H809.59ZM827.58 1050.17H836.57V1063.52H827.58ZM836.57 1050.17H845.57V1063.52H836.57ZM872.55 1050.17H881.55V1063.52H872.55ZM881.55 1050.17H890.54V1063.52H881.55ZM890.54 1050.17H899.54V1063.52H890.54ZM944.51 1050.17H953.51V1063.52H944.51ZM72 1063.52H81V1076.87H72ZM170.94 1063.52H179.94V1076.87H170.94ZM233.91 1063.52H242.9V1076.87H233.91ZM314.87 1063.52H323.86V1076.87H314.87ZM359.84 1063.52H368.83V1076.87H359.84ZM395.82 1063.52H404.81V1076.87H395.82ZM485.77 1063.52H494.76V1076.87H485.77ZM575.72 1063.52H584.71V1076.87H575.72ZM593.71 1063.52H602.7V1076.87H593.71ZM602.7 1063.52H611.7V1076.87H602.7ZM629.69 1063.52H638.68V1076.87H629.69ZM674.66 1063.52H683.66V1076.87H674.66ZM710.64 1063.52H719.64V1076.87H710.64ZM719.64 1063.52H728.63V1076.87H719.64ZM773.61 1063.52H782.6V1076.87H773.61ZM782.6 1063.52H791.6V1076.87H782.6ZM809.59 1063.52H818.58V1076.87H809.59ZM827.58 1063.52H836.57V1076.87H827.58ZM836.57 1063.52H845.57V1076.87H836.57ZM845.57 1063.52H854.56V1076.87H845.57ZM890.54 1063.52H899.54V1076.87H890.54ZM98.98 1076.87H107.98V1090.21H98.98ZM107.98 1076.87H116.97V1090.21H107.98ZM125.97 1076.87H134.97V1090.21H125.97ZM197.93 1076.87H206.92V1090.21H197.93ZM233.91 1076.87H242.9V1090.21H233.91ZM242.9 1076.87H251.9V1090.21H242.9ZM269.89 1076.87H278.88V1090.21H269.89ZM323.86 1076.87H332.85V1090.21H323.86ZM350.84 1076.87H359.84V1090.21H350.84ZM476.77 1076.87H485.77V1090.21H476.77ZM584.71 1076.87H593.71V1090.21H584.71ZM764.61 1076.87H773.61V1090.21H764.61ZM773.61 1076.87H782.6V1090.21H773.61ZM782.6 1076.87H791.6V1090.21H782.6ZM818.58 1076.87H827.58V1090.21H818.58ZM863.56 1076.87H872.55V1090.21H863.56ZM899.54 1076.87H908.53V1090.21H899.54ZM72 1090.21H81V1103.56H72ZM152.95 1090.21H161.95V1103.56H152.95ZM179.94 1090.21H188.94V1103.56H179.94ZM242.9 1090.21H251.9V1103.56H242.9ZM314.87 1090.21H323.86V1103.56H314.87ZM404.81 1090.21H413.81V1103.56H404.81ZM413.81 1090.21H422.8V1103.56H413.81ZM467.78 1090.21H476.77V1103.56H467.78ZM485.77 1090.21H494.76V1103.56H485.77ZM548.73 1090.21H557.73V1103.56H548.73ZM602.7 1090.21H611.7V1103.56H602.7ZM611.7 1090.21H620.69V1103.56H611.7ZM638.68 1090.21H647.68V1103.56H638.68ZM683.66 1090.21H692.65V1103.56H683.66ZM701.65 1090.21H710.64V1103.56H701.65ZM710.64 1090.21H719.64V1103.56H710.64ZM719.64 1090.21H728.63V1103.56H719.64ZM728.63 1090.21H737.63V1103.56H728.63ZM737.63 1090.21H746.62V1103.56H737.63ZM746.62 1090.21H755.62V1103.56H746.62ZM755.62 1090.21H764.61V1103.56H755.62ZM773.61 1090.21H782.6V1103.56H773.61ZM836.57 1090.21H845.57V1103.56H836.57ZM854.56 1090.21H863.56V1103.56H854.56ZM72 1103.56H81V1116.9H72ZM143.96 1103.56H152.95V1116.9H143.96ZM197.93 1103.56H206.92V1116.9H197.93ZM278.88 1103.56H287.88V1116.9H278.88ZM296.88 1103.56H305.87V1116.9H296.88ZM314.87 1103.56H323.86V1116.9H314.87ZM332.85 1103.56H341.85V1116.9H332.85ZM386.82 1103.56H395.82V1116.9H386.82ZM413.81 1103.56H422.8V1116.9H413.81ZM431.8 1103.56H440.79V1116.9H431.8ZM503.76 1103.56H512.75V1116.9H503.76ZM521.75 1103.56H530.74V1116.9H521.75ZM530.74 1103.56H539.74V1116.9H530.74ZM72 1116.9H81V1130.24H72ZM98.98 1116.9H107.98V1130.24H98.98ZM107.98 1116.9H116.97V1130.24H107.98ZM143.96 1116.9H152.95V1130.24H143.96ZM179.94 1116.9H188.94V1130.24H179.94ZM188.94 1116.9H197.93V1130.24H188.94ZM197.93 1116.9H206.92V1130.24H197.93ZM278.88 1116.9H287.88V1130.24H278.88ZM431.8 1116.9H440.79V1130.24H431.8ZM476.77 1116.9H485.77V1130.24H476.77ZM512.75 1116.9H521.75V1130.24H512.75ZM557.73 1116.9H566.72V1130.24H557.73ZM566.72 1116.9H575.72V1130.24H566.72ZM584.71 1116.9H593.71V1130.24H584.71ZM674.66 1116.9H683.66V1130.24H674.66ZM683.66 1116.9H692.65V1130.24H683.66ZM710.64 1116.9H719.64V1130.24H710.64ZM719.64 1116.9H728.63V1130.24H719.64ZM728.63 1116.9H737.63V1130.24H728.63ZM72 1130.24H81V1143.59H72ZM98.98 1130.24H107.98V1143.59H98.98ZM197.93 1130.24H206.92V1143.59H197.93ZM233.91 1130.24H242.9V1143.59H233.91ZM242.9 1130.24H251.9V1143.59H242.9ZM251.9 1130.24H260.89V1143.59H251.9ZM287.88 1130.24H296.88V1143.59H287.88ZM350.84 1130.24H359.84V1143.59H350.84ZM359.84 1130.24H368.83V1143.59H359.84ZM449.79 1130.24H458.78V1143.59H449.79ZM467.78 1130.24H476.77V1143.59H467.78ZM476.77 1130.24H485.77V1143.59H476.77ZM503.76 1130.24H512.75V1143.59H503.76ZM674.66 1130.24H683.66V1143.59H674.66ZM683.66 1130.24H692.65V1143.59H683.66ZM116.97 1143.59H125.97V1156.93H116.97ZM134.97 1143.59H143.96V1156.93H134.97ZM224.91 1143.59H233.91V1156.93H224.91ZM260.89 1143.59H269.89V1156.93H260.89ZM305.87 1143.59H314.87V1156.93H305.87ZM323.86 1143.59H332.85V1156.93H323.86ZM332.85 1143.59H341.85V1156.93H332.85ZM359.84 1143.59H368.83V1156.93H359.84ZM413.81 1143.59H422.8V1156.93H413.81ZM431.8 1143.59H440.79V1156.93H431.8ZM449.79 1143.59H458.78V1156.93H449.79ZM476.77 1143.59H485.77V1156.93H476.77ZM485.77 1143.59H494.76V1156.93H485.77ZM81 1156.93H89.99V1170.28H81ZM179.94 1156.93H188.94V1170.28H179.94ZM197.93 1156.93H206.92V1170.28H197.93ZM206.92 1156.93H215.92V1170.28H206.92ZM242.9 1156.93H251.9V1170.28H242.9ZM251.9 1156.93H260.89V1170.28H251.9ZM575.72 1156.93H584.71V1170.28H575.72ZM72 1170.28H81V1183.62H72ZM81 1170.28H89.99V1183.62H81ZM98.98 1170.28H107.98V1183.62H98.98ZM107.98 1170.28H116.97V1183.62H107.98ZM125.97 1170.28H134.97V1183.62H125.97ZM143.96 1170.28H152.95V1183.62H143.96ZM179.94 1170.28H188.94V1183.62H179.94ZM332.85 1170.28H341.85V1183.62H332.85ZM341.85 1170.28H350.84V1183.62H341.85ZM368.83 1170.28H377.83V1183.62H368.83ZM377.83 1170.28H386.82V1183.62H377.83ZM98.98 1183.62H107.98V1196.97H98.98ZM125.97 1183.62H134.97V1196.97H125.97ZM134.97 1183.62H143.96V1196.97H134.97ZM143.96 1183.62H152.95V1196.97H143.96ZM215.92 1183.62H224.91V1196.97H215.92ZM224.91 1183.62H233.91V1196.97H224.91ZM350.84 1183.62H359.84V1196.97H350.84ZM449.79 1183.62H458.78V1196.97H449.79ZM557.73 1183.62H566.72V1196.97H557.73ZM89.99 1196.97H98.98V1210.32H89.99ZM125.97 1196.97H134.97V1210.32H125.97ZM134.97 1196.97H143.96V1210.32H134.97ZM152.95 1196.97H161.95V1210.32H152.95ZM215.92 1196.97H224.91V1210.32H215.92ZM260.89 1196.97H269.89V1210.32H260.89ZM287.88 1196.97H296.88V1210.32H287.88ZM332.85 1196.97H341.85V1210.32H332.85ZM359.84 1196.97H368.83V1210.32H359.84ZM368.83 1196.97H377.83V1210.32H368.83ZM404.81 1196.97H413.81V1210.32H404.81ZM413.81 1196.97H422.8V1210.32H413.81ZM422.8 1196.97H431.8V1210.32H422.8ZM449.79 1196.97H458.78V1210.32H449.79ZM476.77 1196.97H485.77V1210.32H476.77ZM485.77 1196.97H494.76V1210.32H485.77ZM539.74 1196.97H548.73V1210.32H539.74ZM548.73 1196.97H557.73V1210.32H548.73ZM557.73 1196.97H566.72V1210.32H557.73ZM566.72 1196.97H575.72V1210.32H566.72ZM143.96 1210.32H152.95V1223.66H143.96ZM161.95 1210.32H170.94V1223.66H161.95ZM188.94 1210.32H197.93V1223.66H188.94ZM233.91 1210.32H242.9V1223.66H233.91ZM278.88 1210.32H287.88V1223.66H278.88ZM314.87 1210.32H323.86V1223.66H314.87ZM386.82 1210.32H395.82V1223.66H386.82ZM422.8 1210.32H431.8V1223.66H422.8ZM467.78 1210.32H476.77V1223.66H467.78ZM476.77 1210.32H485.77V1223.66H476.77ZM557.73 1210.32H566.72V1223.66H557.73ZM72 1223.66H81V1237.01H72ZM98.98 1223.66H107.98V1237.01H98.98ZM188.94 1223.66H197.93V1237.01H188.94ZM260.89 1223.66H269.89V1237.01H260.89ZM287.88 1223.66H296.88V1237.01H287.88ZM296.88 1223.66H305.87V1237.01H296.88ZM323.86 1223.66H332.85V1237.01H323.86ZM395.82 1223.66H404.81V1237.01H395.82Z"/><path fill="#24db00" d="M89.99 850H98.98V863.35H89.99ZM215.92 850H224.91V863.35H215.92ZM224.91 850H233.91V863.35H224.91ZM233.91 850H242.9V863.35H233.91ZM242.9 850H251.9V863.35H242.9ZM260.89 850H269.89V863.35H260.89ZM269.89 850H278.88V863.35H269.89ZM395.82 850H404.81V863.35H395.82ZM404.81 850H413.81V863.35H404.81ZM413.81 850H422.8V863.35H413.81ZM503.76 850H512.75V863.35H503.76ZM539.74 850H548.73V863.35H539.74ZM557.73 850H566.72V863.35H557.73ZM629.69 850H638.68V863.35H629.69ZM791.6 850H800.59V863.35H791.6ZM872.55 850H881.55V863.35H872.55ZM989.49 850H998.48V863.35H989.49ZM1016.47 850H1025.47V863.35H1016.47ZM107.98 863.35H116.97V876.69H107.98ZM125.97 863.35H134.97V876.69H125.97ZM143.96 863.35H152.95V876.69H143.96ZM179.94 863.35H188.94V876.69H179.94ZM296.88 863.35H305.87V876.69H296.88ZM314.87 863.35H323.86V876.69H314.87ZM368.83 863.35H377.83V876.69H368.83ZM422.8 863.35H431.8V876.69H422.8ZM449.79 863.35H458.78V876.69H449.79ZM485.77 863.35H494.76V876.69H485.77ZM503.76 863.35H512.75V876.69H503.76ZM557.73 863.35H566.72V876.69H557.73ZM566.72 863.35H575.72V876.69H566.72ZM593.71 863.35H602.7V876.69H593.71ZM629.69 863.35H638.68V876.69H629.69ZM656.67 863.35H665.67V876.69H656.67ZM764.61 863.35H773.61V876.69H764.61ZM917.53 863.35H926.52V876.69H917.53ZM980.49 863.35H989.49V876.69H980.49ZM89.99 876.69H98.98V890.03H89.99ZM179.94 876.69H188.94V890.03H179.94ZM233.91 876.69H242.9V890.03H233.91ZM269.89 876.69H278.88V890.03H269.89ZM278.88 876.69H287.88V890.03H278.88ZM485.77 876.69H494.76V890.03H485.77ZM539.74 876.69H548.73V890.03H539.74ZM638.68 876.69H647.68V890.03H638.68ZM656.67 876.69H665.67V890.03H656.67ZM701.65 876.69H710.64V890.03H701.65ZM746.62 876.69H755.62V890.03H746.62ZM836.57 876.69H845.57V890.03H836.57ZM845.57 876.69H854.56V890.03H845.57ZM881.55 876.69H890.54V890.03H881.55ZM107.98 890.03H116.97V903.38H107.98ZM161.95 890.03H170.94V903.38H161.95ZM170.94 890.03H179.94V903.38H170.94ZM197.93 890.03H206.92V903.38H197.93ZM224.91 890.03H233.91V903.38H224.91ZM242.9 890.03H251.9V903.38H242.9ZM269.89 890.03H278.88V903.38H269.89ZM341.85 890.03H350.84V903.38H341.85ZM413.81 890.03H422.8V903.38H413.81ZM440.79 890.03H449.79V903.38H440.79ZM494.76 890.03H503.76V903.38H494.76ZM539.74 890.03H548.73V903.38H539.74ZM548.73 890.03H557.73V903.38H548.73ZM557.73 890.03H566.72V903.38H557.73ZM566.72 890.03H575.72V903.38H566.72ZM674.66 890.03H683.66V903.38H674.66ZM683.66 890.03H692.65V903.38H683.66ZM827.58 890.03H836.57V903.38H827.58ZM854.56 890.03H863.56V903.38H854.56ZM872.55 890.03H881.55V903.38H872.55ZM98.98 903.38H107.98V916.73H98.98ZM224.91 903.38H233.91V916.73H224.91ZM233.91 903.38H242.9V916.73H233.91ZM260.89 903.38H269.89V916.73H260.89ZM449.79 903.38H458.78V916.73H449.79ZM503.76 903.38H512.75V916.73H503.76ZM512.75 903.38H521.75V916.73H512.75ZM530.74 903.38H539.74V916.73H530.74ZM710.64 903.38H719.64V916.73H710.64ZM737.63 903.38H746.62V916.73H737.63ZM773.61 903.38H782.6V916.73H773.61ZM809.59 903.38H818.58V916.73H809.59ZM908.53 903.38H917.53V916.73H908.53ZM953.51 903.38H962.5V916.73H953.51ZM962.5 903.38H971.5V916.73H962.5ZM971.5 903.38H980.49V916.73H971.5ZM125.97 916.73H134.97V930.07H125.97ZM332.85 916.73H341.85V930.07H332.85ZM359.84 916.73H368.83V930.07H359.84ZM386.82 916.73H395.82V930.07H386.82ZM440.79 916.73H449.79V930.07H440.79ZM584.71 916.73H593.71V930.07H584.71ZM728.63 916.73H737.63V930.07H728.63ZM737.63 916.73H746.62V930.07H737.63ZM81 930.07H89.99V943.41H81ZM116.97 930.07H125.97V943.41H116.97ZM152.95 930.07H161.95V943.41H152.95ZM206.92 930.07H215.92V943.41H206.92ZM224.91 930.07H233.91V943.41H224.91ZM341.85 930.07H350.84V943.41H341.85ZM386.82 930.07H395.82V943.41H386.82ZM395.82 930.07H404.81V943.41H395.82ZM404.81 930.07H413.81V943.41H404.81ZM431.8 930.07H440.79V943.41H431.8ZM827.58 930.07H836.57V943.41H827.58ZM881.55 930.07H890.54V943.41H881.55ZM953.51 930.07H962.5V943.41H953.51ZM98.98 943.41H107.98V956.76H98.98ZM152.95 943.41H161.95V956.76H152.95ZM242.9 943.41H251.9V956.76H242.9ZM278.88 943.41H287.88V956.76H278.88ZM287.88 943.41H296.88V956.76H287.88ZM413.81 943.41H422.8V956.76H413.81ZM530.74 943.41H539.74V956.76H530.74ZM674.66 943.41H683.66V956.76H674.66ZM72 956.76H81V970.11H72ZM98.98 956.76H107.98V970.11H98.98ZM107.98 956.76H116.97V970.11H107.98ZM116.97 956.76H125.97V970.11H116.97ZM179.94 956.76H188.94V970.11H179.94ZM188.94 956.76H197.93V970.11H188.94ZM206.92 956.76H215.92V970.11H206.92ZM215.92 956.76H224.91V970.11H215.92ZM269.89 956.76H278.88V970.11H269.89ZM305.87 956.76H314.87V970.11H305.87ZM314.87 956.76H323.86V970.11H314.87ZM323.86 956.76H332.85V970.11H323.86ZM503.76 956.76H512.75V970.11H503.76ZM611.7 956.76H620.69V970.11H611.7ZM809.59 956.76H818.58V970.11H809.59ZM854.56 956.76H863.56V970.11H854.56ZM962.5 956.76H971.5V970.11H962.5ZM980.49 956.76H989.49V970.11H980.49ZM98.98 970.11H107.98V983.45H98.98ZM107.98 970.11H116.97V983.45H107.98ZM179.94 970.11H188.94V983.45H179.94ZM242.9 970.11H251.9V983.45H242.9ZM251.9 970.11H260.89V983.45H251.9ZM332.85 970.11H341.85V983.45H332.85ZM413.81 970.11H422.8V983.45H413.81ZM458.78 970.11H467.78V983.45H458.78ZM539.74 970.11H548.73V983.45H539.74ZM593.71 970.11H602.7V983.45H593.71ZM665.67 970.11H674.66V983.45H665.67ZM845.57 970.11H854.56V983.45H845.57ZM917.53 970.11H926.52V983.45H917.53ZM962.5 970.11H971.5V983.45H962.5ZM134.97 983.45H143.96V996.8H134.97ZM143.96 983.45H152.95V996.8H143.96ZM170.94 983.45H179.94V996.8H170.94ZM179.94 983.45H188.94V996.8H179.94ZM188.94 983.45H197.93V996.8H188.94ZM224.91 983.45H233.91V996.8H224.91ZM233.91 983.45H242.9V996.8H233.91ZM296.88 983.45H305.87V996.8H296.88ZM377.83 983.45H386.82V996.8H377.83ZM422.8 983.45H431.8V996.8H422.8ZM620.69 983.45H629.69V996.8H620.69ZM800.59 983.45H809.59V996.8H800.59ZM818.58 983.45H827.58V996.8H818.58ZM908.53 983.45H917.53V996.8H908.53ZM935.52 983.45H944.51V996.8H935.52ZM89.99 996.8H98.98V1010.14H89.99ZM125.97 996.8H134.97V1010.14H125.97ZM143.96 996.8H152.95V1010.14H143.96ZM377.83 996.8H386.82V1010.14H377.83ZM476.77 996.8H485.77V1010.14H476.77ZM494.76 996.8H503.76V1010.14H494.76ZM530.74 996.8H539.74V1010.14H530.74ZM557.73 996.8H566.72V1010.14H557.73ZM647.68 996.8H656.67V1010.14H647.68ZM719.64 996.8H728.63V1010.14H719.64ZM188.94 1010.14H197.93V1023.49H188.94ZM206.92 1010.14H215.92V1023.49H206.92ZM233.91 1010.14H242.9V1023.49H233.91ZM269.89 1010.14H278.88V1023.49H269.89ZM656.67 1010.14H665.67V1023.49H656.67ZM692.65 1010.14H701.65V1023.49H692.65ZM107.98 1023.49H116.97V1036.83H107.98ZM206.92 1023.49H215.92V1036.83H206.92ZM224.91 1023.49H233.91V1036.83H224.91ZM233.91 1023.49H242.9V1036.83H233.91ZM323.86 1023.49H332.85V1036.83H323.86ZM377.83 1023.49H386.82V1036.83H377.83ZM593.71 1023.49H602.7V1036.83H593.71ZM170.94 1036.83H179.94V1050.17H170.94ZM179.94 1036.83H188.94V1050.17H179.94ZM188.94 1036.83H197.93V1050.17H188.94ZM197.93 1036.83H206.92V1050.17H197.93ZM206.92 1036.83H215.92V1050.17H206.92ZM215.92 1036.83H224.91V1050.17H215.92ZM224.91 1036.83H233.91V1050.17H224.91ZM233.91 1036.83H242.9V1050.17H233.91ZM305.87 1036.83H314.87V1050.17H305.87ZM359.84 1036.83H368.83V1050.17H359.84ZM368.83 1036.83H377.83V1050.17H368.83ZM377.83 1036.83H386.82V1050.17H377.83ZM386.82 1036.83H395.82V1050.17H386.82ZM395.82 1036.83H404.81V1050.17H395.82ZM431.8 1036.83H440.79V1050.17H431.8ZM557.73 1036.83H566.72V1050.17H557.73ZM692.65 1036.83H701.65V1050.17H692.65ZM800.59 1036.83H809.59V1050.17H800.59ZM818.58 1036.83H827.58V1050.17H818.58ZM953.51 1036.83H962.5V1050.17H953.51ZM143.96 1050.17H152.95V1063.52H143.96ZM161.95 1050.17H170.94V1063.52H161.95ZM197.93 1050.17H206.92V1063.52H197.93ZM305.87 1050.17H314.87V1063.52H305.87ZM458.78 1050.17H467.78V1063.52H458.78ZM476.77 1050.17H485.77V1063.52H476.77ZM530.74 1050.17H539.74V1063.52H530.74ZM539.74 1050.17H548.73V1063.52H539.74ZM548.73 1050.17H557.73V1063.52H548.73ZM647.68 1050.17H656.67V1063.52H647.68ZM728.63 1050.17H737.63V1063.52H728.63ZM737.63 1050.17H746.62V1063.52H737.63ZM746.62 1050.17H755.62V1063.52H746.62ZM899.54 1050.17H908.53V1063.52H899.54ZM926.52 1050.17H935.52V1063.52H926.52ZM143.96 1063.52H152.95V1076.87H143.96ZM179.94 1063.52H188.94V1076.87H179.94ZM188.94 1063.52H197.93V1076.87H188.94ZM206.92 1063.52H215.92V1076.87H206.92ZM287.88 1063.52H296.88V1076.87H287.88ZM296.88 1063.52H305.87V1076.87H296.88ZM305.87 1063.52H314.87V1076.87H305.87ZM368.83 1063.52H377.83V1076.87H368.83ZM494.76 1063.52H503.76V1076.87H494.76ZM701.65 1063.52H710.64V1076.87H701.65ZM854.56 1063.52H863.56V1076.87H854.56ZM143.96 1076.87H152.95V1090.21H143.96ZM152.95 1076.87H161.95V1090.21H152.95ZM161.95 1076.87H170.94V1090.21H161.95ZM206.92 1076.87H215.92V1090.21H206.92ZM215.92 1076.87H224.91V1090.21H215.92ZM296.88 1076.87H305.87V1090.21H296.88ZM305.87 1076.87H314.87V1090.21H305.87ZM314.87 1076.87H323.86V1090.21H314.87ZM368.83 1076.87H377.83V1090.21H368.83ZM449.79 1076.87H458.78V1090.21H449.79ZM458.78 1076.87H467.78V1090.21H458.78ZM566.72 1076.87H575.72V1090.21H566.72ZM170.94 1090.21H179.94V1103.56H170.94ZM422.8 1090.21H431.8V1103.56H422.8ZM692.65 1090.21H701.65V1103.56H692.65ZM152.95 1103.56H161.95V1116.9H152.95ZM179.94 1103.56H188.94V1116.9H179.94ZM224.91 1103.56H233.91V1116.9H224.91ZM233.91 1103.56H242.9V1116.9H233.91ZM242.9 1103.56H251.9V1116.9H242.9ZM251.9 1103.56H260.89V1116.9H251.9ZM305.87 1103.56H314.87V1116.9H305.87ZM81 1116.9H89.99V1130.24H81ZM215.92 1116.9H224.91V1130.24H215.92ZM251.9 1116.9H260.89V1130.24H251.9ZM260.89 1116.9H269.89V1130.24H260.89ZM359.84 1116.9H368.83V1130.24H359.84ZM503.76 1116.9H512.75V1130.24H503.76ZM602.7 1116.9H611.7V1130.24H602.7ZM638.68 1116.9H647.68V1130.24H638.68ZM701.65 1116.9H710.64V1130.24H701.65ZM746.62 1116.9H755.62V1130.24H746.62ZM764.61 1116.9H773.61V1130.24H764.61ZM89.99 1130.24H98.98V1143.59H89.99ZM152.95 1130.24H161.95V1143.59H152.95ZM161.95 1130.24H170.94V1143.59H161.95ZM224.91 1130.24H233.91V1143.59H224.91ZM323.86 1130.24H332.85V1143.59H323.86ZM377.83 1130.24H386.82V1143.59H377.83ZM395.82 1130.24H404.81V1143.59H395.82ZM422.8 1130.24H431.8V1143.59H422.8ZM485.77 1130.24H494.76V1143.59H485.77ZM512.75 1130.24H521.75V1143.59H512.75ZM656.67 1130.24H665.67V1143.59H656.67ZM81 1143.59H89.99V1156.93H81ZM170.94 1143.59H179.94V1156.93H170.94ZM314.87 1143.59H323.86V1156.93H314.87ZM341.85 1143.59H350.84V1156.93H341.85ZM350.84 1143.59H359.84V1156.93H350.84ZM503.76 1143.59H512.75V1156.93H503.76ZM539.74 1143.59H548.73V1156.93H539.74ZM107.98 1156.93H116.97V1170.28H107.98ZM116.97 1156.93H125.97V1170.28H116.97ZM143.96 1156.93H152.95V1170.28H143.96ZM152.95 1156.93H161.95V1170.28H152.95ZM170.94 1156.93H179.94V1170.28H170.94ZM188.94 1156.93H197.93V1170.28H188.94ZM233.91 1156.93H242.9V1170.28H233.91ZM260.89 1156.93H269.89V1170.28H260.89ZM269.89 1156.93H278.88V1170.28H269.89ZM287.88 1156.93H296.88V1170.28H287.88ZM296.88 1156.93H305.87V1170.28H296.88ZM89.99 1170.28H98.98V1183.62H89.99ZM323.86 1170.28H332.85V1183.62H323.86ZM431.8 1170.28H440.79V1183.62H431.8ZM81 1183.62H89.99V1196.97H81ZM296.88 1183.62H305.87V1196.97H296.88ZM161.95 1196.97H170.94V1210.32H161.95ZM224.91 1196.97H233.91V1210.32H224.91ZM233.91 1196.97H242.9V1210.32H233.91ZM242.9 1196.97H251.9V1210.32H242.9ZM323.86 1196.97H332.85V1210.32H323.86ZM386.82 1196.97H395.82V1210.32H386.82ZM431.8 1196.97H440.79V1210.32H431.8ZM152.95 1210.32H161.95V1223.66H152.95ZM323.86 1210.32H332.85V1223.66H323.86ZM332.85 1210.32H341.85V1223.66H332.85ZM341.85 1210.32H350.84V1223.66H341.85ZM350.84 1210.32H359.84V1223.66H350.84ZM359.84 1210.32H368.83V1223.66H359.84ZM368.83 1210.32H377.83V1223.66H368.83ZM395.82 1210.32H404.81V1223.66H395.82ZM440.79 1210.32H449.79V1223.66H440.79ZM539.74 1210.32H548.73V1223.66H539.74ZM629.69 1210.32H638.68V1223.66H629.69ZM638.68 1210.32H647.68V1223.66H638.68ZM116.97 1223.66H125.97V1237.01H116.97ZM233.91 1223.66H242.9V1237.01H233.91ZM341.85 1223.66H350.84V1237.01H341.85Z"/><path fill="#40bf00" d="M125.97 850H134.97V863.35H125.97ZM197.93 850H206.92V863.35H197.93ZM701.65 850H710.64V863.35H701.65ZM854.56 850H863.56V863.35H854.56ZM863.56 850H872.55V863.35H863.56ZM98.98 863.35H107.98V876.69H98.98ZM323.86 863.35H332.85V876.69H323.86ZM809.59 863.35H818.58V876.69H809.59ZM854.56 863.35H863.56V876.69H854.56ZM863.56 863.35H872.55V876.69H863.56ZM72 876.69H81V890.03H72ZM242.9 876.69H251.9V890.03H242.9ZM368.83 876.69H377.83V890.03H368.83ZM377.83 876.69H386.82V890.03H377.83ZM440.79 876.69H449.79V890.03H440.79ZM494.76 876.69H503.76V890.03H494.76ZM728.63 876.69H737.63V890.03H728.63ZM791.6 876.69H800.59V890.03H791.6ZM908.53 876.69H917.53V890.03H908.53ZM980.49 876.69H989.49V890.03H980.49ZM656.67 890.03H665.67V903.38H656.67ZM72 903.38H81V916.73H72ZM81 903.38H89.99V916.73H81ZM89.99 903.38H98.98V916.73H89.99ZM332.85 903.38H341.85V916.73H332.85ZM422.8 903.38H431.8V916.73H422.8ZM926.52 903.38H935.52V916.73H926.52ZM944.51 903.38H953.51V916.73H944.51ZM98.98 916.73H107.98V930.07H98.98ZM107.98 916.73H116.97V930.07H107.98ZM143.96 916.73H152.95V930.07H143.96ZM314.87 916.73H323.86V930.07H314.87ZM368.83 916.73H377.83V930.07H368.83ZM413.81 916.73H422.8V930.07H413.81ZM692.65 916.73H701.65V930.07H692.65ZM755.62 916.73H764.61V930.07H755.62ZM764.61 916.73H773.61V930.07H764.61ZM350.84 930.07H359.84V943.41H350.84ZM458.78 930.07H467.78V943.41H458.78ZM629.69 930.07H638.68V943.41H629.69ZM872.55 930.07H881.55V943.41H872.55ZM359.84 943.41H368.83V956.76H359.84ZM404.81 943.41H413.81V956.76H404.81ZM287.88 956.76H296.88V970.11H287.88ZM530.74 956.76H539.74V970.11H530.74ZM674.66 956.76H683.66V970.11H674.66ZM701.65 956.76H710.64V970.11H701.65ZM845.57 956.76H854.56V970.11H845.57ZM863.56 956.76H872.55V970.11H863.56ZM89.99 970.11H98.98V983.45H89.99ZM215.92 970.11H224.91V983.45H215.92ZM233.91 970.11H242.9V983.45H233.91ZM521.75 970.11H530.74V983.45H521.75ZM647.68 970.11H656.67V983.45H647.68ZM710.64 970.11H719.64V983.45H710.64ZM827.58 970.11H836.57V983.45H827.58ZM836.57 970.11H845.57V983.45H836.57ZM935.52 970.11H944.51V983.45H935.52ZM944.51 970.11H953.51V983.45H944.51ZM260.89 983.45H269.89V996.8H260.89ZM458.78 983.45H467.78V996.8H458.78ZM485.77 983.45H494.76V996.8H485.77ZM81 996.8H89.99V1010.14H81ZM134.97 996.8H143.96V1010.14H134.97ZM269.89 996.8H278.88V1010.14H269.89ZM350.84 996.8H359.84V1010.14H350.84ZM359.84 996.8H368.83V1010.14H359.84ZM683.66 996.8H692.65V1010.14H683.66ZM755.62 996.8H764.61V1010.14H755.62ZM836.57 996.8H845.57V1010.14H836.57ZM845.57 996.8H854.56V1010.14H845.57ZM72 1010.14H81V1023.49H72ZM197.93 1010.14H206.92V1023.49H197.93ZM251.9 1010.14H260.89V1023.49H251.9ZM305.87 1010.14H314.87V1023.49H305.87ZM314.87 1010.14H323.86V1023.49H314.87ZM476.77 1010.14H485.77V1023.49H476.77ZM629.69 1010.14H638.68V1023.49H629.69ZM647.68 1010.14H656.67V1023.49H647.68ZM764.61 1010.14H773.61V1023.49H764.61ZM818.58 1010.14H827.58V1023.49H818.58ZM854.56 1010.14H863.56V1023.49H854.56ZM872.55 1010.14H881.55V1023.49H872.55ZM431.8 1023.49H440.79V1036.83H431.8ZM512.75 1023.49H521.75V1036.83H512.75ZM584.71 1023.49H593.71V1036.83H584.71ZM737.63 1023.49H746.62V1036.83H737.63ZM917.53 1023.49H926.52V1036.83H917.53ZM935.52 1023.49H944.51V1036.83H935.52ZM944.51 1023.49H953.51V1036.83H944.51ZM72 1036.83H81V1050.17H72ZM125.97 1036.83H134.97V1050.17H125.97ZM242.9 1036.83H251.9V1050.17H242.9ZM323.86 1036.83H332.85V1050.17H323.86ZM332.85 1036.83H341.85V1050.17H332.85ZM341.85 1036.83H350.84V1050.17H341.85ZM629.69 1036.83H638.68V1050.17H629.69ZM728.63 1036.83H737.63V1050.17H728.63ZM809.59 1036.83H818.58V1050.17H809.59ZM98.98 1050.17H107.98V1063.52H98.98ZM242.9 1050.17H251.9V1063.52H242.9ZM332.85 1050.17H341.85V1063.52H332.85ZM350.84 1050.17H359.84V1063.52H350.84ZM431.8 1050.17H440.79V1063.52H431.8ZM440.79 1050.17H449.79V1063.52H440.79ZM557.73 1050.17H566.72V1063.52H557.73ZM575.72 1050.17H584.71V1063.52H575.72ZM584.71 1050.17H593.71V1063.52H584.71ZM719.64 1050.17H728.63V1063.52H719.64ZM845.57 1050.17H854.56V1063.52H845.57ZM917.53 1050.17H926.52V1063.52H917.53ZM107.98 1063.52H116.97V1076.87H107.98ZM116.97 1063.52H125.97V1076.87H116.97ZM242.9 1063.52H251.9V1076.87H242.9ZM386.82 1063.52H395.82V1076.87H386.82ZM422.8 1063.52H431.8V1076.87H422.8ZM512.75 1063.52H521.75V1076.87H512.75ZM521.75 1063.52H530.74V1076.87H521.75ZM620.69 1063.52H629.69V1076.87H620.69ZM665.67 1063.52H674.66V1076.87H665.67ZM764.61 1063.52H773.61V1076.87H764.61ZM863.56 1063.52H872.55V1076.87H863.56ZM917.53 1063.52H926.52V1076.87H917.53ZM170.94 1076.87H179.94V1090.21H170.94ZM179.94 1076.87H188.94V1090.21H179.94ZM251.9 1076.87H260.89V1090.21H251.9ZM539.74 1076.87H548.73V1090.21H539.74ZM629.69 1076.87H638.68V1090.21H629.69ZM701.65 1076.87H710.64V1090.21H701.65ZM719.64 1076.87H728.63V1090.21H719.64ZM728.63 1076.87H737.63V1090.21H728.63ZM737.63 1076.87H746.62V1090.21H737.63ZM746.62 1076.87H755.62V1090.21H746.62ZM836.57 1076.87H845.57V1090.21H836.57ZM908.53 1076.87H917.53V1090.21H908.53ZM125.97 1090.21H134.97V1103.56H125.97ZM134.97 1090.21H143.96V1103.56H134.97ZM143.96 1090.21H152.95V1103.56H143.96ZM269.89 1090.21H278.88V1103.56H269.89ZM368.83 1090.21H377.83V1103.56H368.83ZM386.82 1090.21H395.82V1103.56H386.82ZM395.82 1090.21H404.81V1103.56H395.82ZM431.8 1090.21H440.79V1103.56H431.8ZM476.77 1090.21H485.77V1103.56H476.77ZM575.72 1090.21H584.71V1103.56H575.72ZM584.71 1090.21H593.71V1103.56H584.71ZM593.71 1090.21H602.7V1103.56H593.71ZM764.61 1090.21H773.61V1103.56H764.61ZM422.8 1103.56H431.8V1116.9H422.8ZM440.79 1103.56H449.79V1116.9H440.79ZM467.78 1103.56H476.77V1116.9H467.78ZM512.75 1103.56H521.75V1116.9H512.75ZM638.68 1103.56H647.68V1116.9H638.68ZM701.65 1103.56H710.64V1116.9H701.65ZM710.64 1103.56H719.64V1116.9H710.64ZM728.63 1103.56H737.63V1116.9H728.63ZM737.63 1103.56H746.62V1116.9H737.63ZM755.62 1103.56H764.61V1116.9H755.62ZM764.61 1103.56H773.61V1116.9H764.61ZM773.61 1103.56H782.6V1116.9H773.61ZM782.6 1103.56H791.6V1116.9H782.6ZM791.6 1103.56H800.59V1116.9H791.6ZM800.59 1103.56H809.59V1116.9H800.59ZM818.58 1103.56H827.58V1116.9H818.58ZM89.99 1116.9H98.98V1130.24H89.99ZM287.88 1116.9H296.88V1130.24H287.88ZM620.69 1116.9H629.69V1130.24H620.69ZM692.65 1116.9H701.65V1130.24H692.65ZM773.61 1116.9H782.6V1130.24H773.61ZM782.6 1116.9H791.6V1130.24H782.6ZM215.92 1130.24H224.91V1143.59H215.92ZM305.87 1130.24H314.87V1143.59H305.87ZM314.87 1130.24H323.86V1143.59H314.87ZM386.82 1130.24H395.82V1143.59H386.82ZM530.74 1130.24H539.74V1143.59H530.74ZM737.63 1130.24H746.62V1143.59H737.63ZM746.62 1130.24H755.62V1143.59H746.62ZM143.96 1143.59H152.95V1156.93H143.96ZM197.93 1143.59H206.92V1156.93H197.93ZM215.92 1143.59H224.91V1156.93H215.92ZM395.82 1143.59H404.81V1156.93H395.82ZM521.75 1143.59H530.74V1156.93H521.75ZM530.74 1143.59H539.74V1156.93H530.74ZM566.72 1143.59H575.72V1156.93H566.72ZM683.66 1143.59H692.65V1156.93H683.66ZM692.65 1143.59H701.65V1156.93H692.65ZM701.65 1143.59H710.64V1156.93H701.65ZM710.64 1143.59H719.64V1156.93H710.64ZM719.64 1143.59H728.63V1156.93H719.64ZM728.63 1143.59H737.63V1156.93H728.63ZM737.63 1143.59H746.62V1156.93H737.63ZM72 1156.93H81V1170.28H72ZM89.99 1156.93H98.98V1170.28H89.99ZM215.92 1156.93H224.91V1170.28H215.92ZM323.86 1156.93H332.85V1170.28H323.86ZM332.85 1156.93H341.85V1170.28H332.85ZM341.85 1156.93H350.84V1170.28H341.85ZM350.84 1156.93H359.84V1170.28H350.84ZM422.8 1156.93H431.8V1170.28H422.8ZM431.8 1156.93H440.79V1170.28H431.8ZM449.79 1156.93H458.78V1170.28H449.79ZM539.74 1156.93H548.73V1170.28H539.74ZM584.71 1156.93H593.71V1170.28H584.71ZM593.71 1156.93H602.7V1170.28H593.71ZM629.69 1156.93H638.68V1170.28H629.69ZM638.68 1156.93H647.68V1170.28H638.68ZM674.66 1156.93H683.66V1170.28H674.66ZM683.66 1156.93H692.65V1170.28H683.66ZM692.65 1156.93H701.65V1170.28H692.65ZM701.65 1156.93H710.64V1170.28H701.65ZM710.64 1156.93H719.64V1170.28H710.64ZM719.64 1156.93H728.63V1170.28H719.64ZM161.95 1170.28H170.94V1183.62H161.95ZM386.82 1170.28H395.82V1183.62H386.82ZM449.79 1170.28H458.78V1183.62H449.79ZM458.78 1170.28H467.78V1183.62H458.78ZM476.77 1170.28H485.77V1183.62H476.77ZM485.77 1170.28H494.76V1183.62H485.77ZM512.75 1170.28H521.75V1183.62H512.75ZM530.74 1170.28H539.74V1183.62H530.74ZM566.72 1170.28H575.72V1183.62H566.72ZM575.72 1170.28H584.71V1183.62H575.72ZM593.71 1170.28H602.7V1183.62H593.71ZM638.68 1170.28H647.68V1183.62H638.68ZM656.67 1170.28H665.67V1183.62H656.67ZM665.67 1170.28H674.66V1183.62H665.67ZM674.66 1170.28H683.66V1183.62H674.66ZM683.66 1170.28H692.65V1183.62H683.66ZM692.65 1170.28H701.65V1183.62H692.65ZM179.94 1183.62H188.94V1196.97H179.94ZM188.94 1183.62H197.93V1196.97H188.94ZM197.93 1183.62H206.92V1196.97H197.93ZM269.89 1183.62H278.88V1196.97H269.89ZM332.85 1183.62H341.85V1196.97H332.85ZM359.84 1183.62H368.83V1196.97H359.84ZM368.83 1183.62H377.83V1196.97H368.83ZM377.83 1183.62H386.82V1196.97H377.83ZM386.82 1183.62H395.82V1196.97H386.82ZM395.82 1183.62H404.81V1196.97H395.82ZM413.81 1183.62H422.8V1196.97H413.81ZM422.8 1183.62H431.8V1196.97H422.8ZM458.78 1183.62H467.78V1196.97H458.78ZM467.78 1183.62H476.77V1196.97H467.78ZM503.76 1183.62H512.75V1196.97H503.76ZM620.69 1183.62H629.69V1196.97H620.69ZM638.68 1183.62H647.68V1196.97H638.68ZM683.66 1183.62H692.65V1196.97H683.66ZM692.65 1183.62H701.65V1196.97H692.65ZM701.65 1183.62H710.64V1196.97H701.65ZM710.64 1183.62H719.64V1196.97H710.64ZM719.64 1183.62H728.63V1196.97H719.64ZM170.94 1196.97H179.94V1210.32H170.94ZM215.92 1210.32H224.91V1223.66H215.92ZM224.91 1210.32H233.91V1223.66H224.91ZM296.88 1210.32H305.87V1223.66H296.88ZM305.87 1210.32H314.87V1223.66H305.87ZM458.78 1210.32H467.78V1223.66H458.78ZM494.76 1210.32H503.76V1223.66H494.76ZM575.72 1210.32H584.71V1223.66H575.72ZM674.66 1210.32H683.66V1223.66H674.66ZM683.66 1210.32H692.65V1223.66H683.66ZM692.65 1210.32H701.65V1223.66H692.65ZM332.85 1223.66H341.85V1237.01H332.85ZM350.84 1223.66H359.84V1237.01H350.84ZM368.83 1223.66H377.83V1237.01H368.83ZM377.83 1223.66H386.82V1237.01H377.83ZM386.82 1223.66H395.82V1237.01H386.82Z"/><path fill="#1ae600" d="M143.96 850H152.95V863.35H143.96ZM152.95 850H161.95V863.35H152.95ZM188.94 850H197.93V863.35H188.94ZM332.85 850H341.85V863.35H332.85ZM350.84 850H359.84V863.35H350.84ZM368.83 850H377.83V863.35H368.83ZM422.8 850H431.8V863.35H422.8ZM467.78 850H476.77V863.35H467.78ZM485.77 850H494.76V863.35H485.77ZM584.71 850H593.71V863.35H584.71ZM593.71 850H602.7V863.35H593.71ZM638.68 850H647.68V863.35H638.68ZM683.66 850H692.65V863.35H683.66ZM728.63 850H737.63V863.35H728.63ZM746.62 850H755.62V863.35H746.62ZM800.59 850H809.59V863.35H800.59ZM818.58 850H827.58V863.35H818.58ZM845.57 850H854.56V863.35H845.57ZM899.54 850H908.53V863.35H899.54ZM72 863.35H81V876.69H72ZM134.97 863.35H143.96V876.69H134.97ZM197.93 863.35H206.92V876.69H197.93ZM215.92 863.35H224.91V876.69H215.92ZM251.9 863.35H260.89V876.69H251.9ZM287.88 863.35H296.88V876.69H287.88ZM413.81 863.35H422.8V876.69H413.81ZM431.8 863.35H440.79V876.69H431.8ZM440.79 863.35H449.79V876.69H440.79ZM494.76 863.35H503.76V876.69H494.76ZM521.75 863.35H530.74V876.69H521.75ZM539.74 863.35H548.73V876.69H539.74ZM602.7 863.35H611.7V876.69H602.7ZM611.7 863.35H620.69V876.69H611.7ZM620.69 863.35H629.69V876.69H620.69ZM647.68 863.35H656.67V876.69H647.68ZM665.67 863.35H674.66V876.69H665.67ZM683.66 863.35H692.65V876.69H683.66ZM692.65 863.35H701.65V876.69H692.65ZM710.64 863.35H719.64V876.69H710.64ZM755.62 863.35H764.61V876.69H755.62ZM773.61 863.35H782.6V876.69H773.61ZM782.6 863.35H791.6V876.69H782.6ZM800.59 863.35H809.59V876.69H800.59ZM827.58 863.35H836.57V876.69H827.58ZM845.57 863.35H854.56V876.69H845.57ZM890.54 863.35H899.54V876.69H890.54ZM989.49 863.35H998.48V876.69H989.49ZM1007.48 863.35H1016.47V876.69H1007.48ZM1025.47 863.35H1034.46V876.69H1025.47ZM81 876.69H89.99V890.03H81ZM98.98 876.69H107.98V890.03H98.98ZM152.95 876.69H161.95V890.03H152.95ZM161.95 876.69H170.94V890.03H161.95ZM170.94 876.69H179.94V890.03H170.94ZM314.87 876.69H323.86V890.03H314.87ZM332.85 876.69H341.85V890.03H332.85ZM359.84 876.69H368.83V890.03H359.84ZM404.81 876.69H413.81V890.03H404.81ZM458.78 876.69H467.78V890.03H458.78ZM476.77 876.69H485.77V890.03H476.77ZM548.73 876.69H557.73V890.03H548.73ZM584.71 876.69H593.71V890.03H584.71ZM611.7 876.69H620.69V890.03H611.7ZM629.69 876.69H638.68V890.03H629.69ZM665.67 876.69H674.66V890.03H665.67ZM692.65 876.69H701.65V890.03H692.65ZM737.63 876.69H746.62V890.03H737.63ZM764.61 876.69H773.61V890.03H764.61ZM782.6 876.69H791.6V890.03H782.6ZM800.59 876.69H809.59V890.03H800.59ZM827.58 876.69H836.57V890.03H827.58ZM863.56 876.69H872.55V890.03H863.56ZM890.54 876.69H899.54V890.03H890.54ZM935.52 876.69H944.51V890.03H935.52ZM962.5 876.69H971.5V890.03H962.5ZM1007.48 876.69H1016.47V890.03H1007.48ZM81 890.03H89.99V903.38H81ZM89.99 890.03H98.98V903.38H89.99ZM98.98 890.03H107.98V903.38H98.98ZM179.94 890.03H188.94V903.38H179.94ZM233.91 890.03H242.9V903.38H233.91ZM260.89 890.03H269.89V903.38H260.89ZM368.83 890.03H377.83V903.38H368.83ZM395.82 890.03H404.81V903.38H395.82ZM485.77 890.03H494.76V903.38H485.77ZM593.71 890.03H602.7V903.38H593.71ZM638.68 890.03H647.68V903.38H638.68ZM746.62 890.03H755.62V903.38H746.62ZM755.62 890.03H764.61V903.38H755.62ZM773.61 890.03H782.6V903.38H773.61ZM791.6 890.03H800.59V903.38H791.6ZM809.59 890.03H818.58V903.38H809.59ZM818.58 890.03H827.58V903.38H818.58ZM881.55 890.03H890.54V903.38H881.55ZM908.53 890.03H917.53V903.38H908.53ZM935.52 890.03H944.51V903.38H935.52ZM953.51 890.03H962.5V903.38H953.51ZM980.49 890.03H989.49V903.38H980.49ZM1007.48 890.03H1016.47V903.38H1007.48ZM116.97 903.38H125.97V916.73H116.97ZM215.92 903.38H224.91V916.73H215.92ZM278.88 903.38H287.88V916.73H278.88ZM341.85 903.38H350.84V916.73H341.85ZM350.84 903.38H359.84V916.73H350.84ZM377.83 903.38H386.82V916.73H377.83ZM431.8 903.38H440.79V916.73H431.8ZM440.79 903.38H449.79V916.73H440.79ZM458.78 903.38H467.78V916.73H458.78ZM467.78 903.38H476.77V916.73H467.78ZM539.74 903.38H548.73V916.73H539.74ZM548.73 903.38H557.73V916.73H548.73ZM557.73 903.38H566.72V916.73H557.73ZM575.72 903.38H584.71V916.73H575.72ZM584.71 903.38H593.71V916.73H584.71ZM593.71 903.38H602.7V916.73H593.71ZM602.7 903.38H611.7V916.73H602.7ZM611.7 903.38H620.69V916.73H611.7ZM629.69 903.38H638.68V916.73H629.69ZM683.66 903.38H692.65V916.73H683.66ZM692.65 903.38H701.65V916.73H692.65ZM719.64 903.38H728.63V916.73H719.64ZM782.6 903.38H791.6V916.73H782.6ZM791.6 903.38H800.59V916.73H791.6ZM800.59 903.38H809.59V916.73H800.59ZM998.48 903.38H1007.48V916.73H998.48ZM179.94 916.73H188.94V930.07H179.94ZM206.92 916.73H215.92V930.07H206.92ZM260.89 916.73H269.89V930.07H260.89ZM278.88 916.73H287.88V930.07H278.88ZM395.82 916.73H404.81V930.07H395.82ZM422.8 916.73H431.8V930.07H422.8ZM449.79 916.73H458.78V930.07H449.79ZM512.75 916.73H521.75V930.07H512.75ZM557.73 916.73H566.72V930.07H557.73ZM593.71 916.73H602.7V930.07H593.71ZM620.69 916.73H629.69V930.07H620.69ZM629.69 916.73H638.68V930.07H629.69ZM638.68 916.73H647.68V930.07H638.68ZM665.67 916.73H674.66V930.07H665.67ZM701.65 916.73H710.64V930.07H701.65ZM746.62 916.73H755.62V930.07H746.62ZM791.6 916.73H800.59V930.07H791.6ZM836.57 916.73H845.57V930.07H836.57ZM854.56 916.73H863.56V930.07H854.56ZM899.54 916.73H908.53V930.07H899.54ZM908.53 916.73H917.53V930.07H908.53ZM935.52 916.73H944.51V930.07H935.52ZM944.51 916.73H953.51V930.07H944.51ZM953.51 916.73H962.5V930.07H953.51ZM989.49 916.73H998.48V930.07H989.49ZM72 930.07H81V943.41H72ZM197.93 930.07H206.92V943.41H197.93ZM215.92 930.07H224.91V943.41H215.92ZM242.9 930.07H251.9V943.41H242.9ZM269.89 930.07H278.88V943.41H269.89ZM278.88 930.07H287.88V943.41H278.88ZM314.87 930.07H323.86V943.41H314.87ZM440.79 930.07H449.79V943.41H440.79ZM521.75 930.07H530.74V943.41H521.75ZM539.74 930.07H548.73V943.41H539.74ZM566.72 930.07H575.72V943.41H566.72ZM575.72 930.07H584.71V943.41H575.72ZM638.68 930.07H647.68V943.41H638.68ZM647.68 930.07H656.67V943.41H647.68ZM674.66 930.07H683.66V943.41H674.66ZM701.65 930.07H710.64V943.41H701.65ZM710.64 930.07H719.64V943.41H710.64ZM728.63 930.07H737.63V943.41H728.63ZM746.62 930.07H755.62V943.41H746.62ZM755.62 930.07H764.61V943.41H755.62ZM782.6 930.07H791.6V943.41H782.6ZM800.59 930.07H809.59V943.41H800.59ZM836.57 930.07H845.57V943.41H836.57ZM863.56 930.07H872.55V943.41H863.56ZM899.54 930.07H908.53V943.41H899.54ZM908.53 930.07H917.53V943.41H908.53ZM917.53 930.07H926.52V943.41H917.53ZM935.52 930.07H944.51V943.41H935.52ZM944.51 930.07H953.51V943.41H944.51ZM962.5 930.07H971.5V943.41H962.5ZM980.49 930.07H989.49V943.41H980.49ZM989.49 930.07H998.48V943.41H989.49ZM89.99 943.41H98.98V956.76H89.99ZM188.94 943.41H197.93V956.76H188.94ZM197.93 943.41H206.92V956.76H197.93ZM296.88 943.41H305.87V956.76H296.88ZM350.84 943.41H359.84V956.76H350.84ZM377.83 943.41H386.82V956.76H377.83ZM485.77 943.41H494.76V956.76H485.77ZM539.74 943.41H548.73V956.76H539.74ZM647.68 943.41H656.67V956.76H647.68ZM665.67 943.41H674.66V956.76H665.67ZM728.63 943.41H737.63V956.76H728.63ZM737.63 943.41H746.62V956.76H737.63ZM746.62 943.41H755.62V956.76H746.62ZM773.61 943.41H782.6V956.76H773.61ZM845.57 943.41H854.56V956.76H845.57ZM881.55 943.41H890.54V956.76H881.55ZM926.52 943.41H935.52V956.76H926.52ZM980.49 943.41H989.49V956.76H980.49ZM143.96 956.76H152.95V970.11H143.96ZM197.93 956.76H206.92V970.11H197.93ZM278.88 956.76H287.88V970.11H278.88ZM341.85 956.76H350.84V970.11H341.85ZM359.84 956.76H368.83V970.11H359.84ZM395.82 956.76H404.81V970.11H395.82ZM431.8 956.76H440.79V970.11H431.8ZM539.74 956.76H548.73V970.11H539.74ZM548.73 956.76H557.73V970.11H548.73ZM602.7 956.76H611.7V970.11H602.7ZM620.69 956.76H629.69V970.11H620.69ZM629.69 956.76H638.68V970.11H629.69ZM719.64 956.76H728.63V970.11H719.64ZM746.62 956.76H755.62V970.11H746.62ZM800.59 956.76H809.59V970.11H800.59ZM827.58 956.76H836.57V970.11H827.58ZM836.57 956.76H845.57V970.11H836.57ZM908.53 956.76H917.53V970.11H908.53ZM116.97 970.11H125.97V983.45H116.97ZM143.96 970.11H152.95V983.45H143.96ZM161.95 970.11H170.94V983.45H161.95ZM188.94 970.11H197.93V983.45H188.94ZM260.89 970.11H269.89V983.45H260.89ZM278.88 970.11H287.88V983.45H278.88ZM287.88 970.11H296.88V983.45H287.88ZM314.87 970.11H323.86V983.45H314.87ZM422.8 970.11H431.8V983.45H422.8ZM440.79 970.11H449.79V983.45H440.79ZM494.76 970.11H503.76V983.45H494.76ZM503.76 970.11H512.75V983.45H503.76ZM512.75 970.11H521.75V983.45H512.75ZM548.73 970.11H557.73V983.45H548.73ZM557.73 970.11H566.72V983.45H557.73ZM656.67 970.11H665.67V983.45H656.67ZM674.66 970.11H683.66V983.45H674.66ZM692.65 970.11H701.65V983.45H692.65ZM773.61 970.11H782.6V983.45H773.61ZM863.56 970.11H872.55V983.45H863.56ZM881.55 970.11H890.54V983.45H881.55ZM89.99 983.45H98.98V996.8H89.99ZM98.98 983.45H107.98V996.8H98.98ZM152.95 983.45H161.95V996.8H152.95ZM251.9 983.45H260.89V996.8H251.9ZM287.88 983.45H296.88V996.8H287.88ZM314.87 983.45H323.86V996.8H314.87ZM332.85 983.45H341.85V996.8H332.85ZM386.82 983.45H395.82V996.8H386.82ZM395.82 983.45H404.81V996.8H395.82ZM413.81 983.45H422.8V996.8H413.81ZM467.78 983.45H476.77V996.8H467.78ZM530.74 983.45H539.74V996.8H530.74ZM584.71 983.45H593.71V996.8H584.71ZM602.7 983.45H611.7V996.8H602.7ZM719.64 983.45H728.63V996.8H719.64ZM764.61 983.45H773.61V996.8H764.61ZM854.56 983.45H863.56V996.8H854.56ZM872.55 983.45H881.55V996.8H872.55ZM881.55 983.45H890.54V996.8H881.55ZM917.53 983.45H926.52V996.8H917.53ZM953.51 983.45H962.5V996.8H953.51ZM72 996.8H81V1010.14H72ZM161.95 996.8H170.94V1010.14H161.95ZM179.94 996.8H188.94V1010.14H179.94ZM296.88 996.8H305.87V1010.14H296.88ZM395.82 996.8H404.81V1010.14H395.82ZM431.8 996.8H440.79V1010.14H431.8ZM440.79 996.8H449.79V1010.14H440.79ZM449.79 996.8H458.78V1010.14H449.79ZM521.75 996.8H530.74V1010.14H521.75ZM584.71 996.8H593.71V1010.14H584.71ZM656.67 996.8H665.67V1010.14H656.67ZM782.6 996.8H791.6V1010.14H782.6ZM809.59 996.8H818.58V1010.14H809.59ZM818.58 996.8H827.58V1010.14H818.58ZM81 1010.14H89.99V1023.49H81ZM89.99 1010.14H98.98V1023.49H89.99ZM125.97 1010.14H134.97V1023.49H125.97ZM260.89 1010.14H269.89V1023.49H260.89ZM467.78 1010.14H476.77V1023.49H467.78ZM539.74 1010.14H548.73V1023.49H539.74ZM602.7 1010.14H611.7V1023.49H602.7ZM620.69 1010.14H629.69V1023.49H620.69ZM674.66 1010.14H683.66V1023.49H674.66ZM683.66 1010.14H692.65V1023.49H683.66ZM719.64 1010.14H728.63V1023.49H719.64ZM836.57 1010.14H845.57V1023.49H836.57ZM899.54 1010.14H908.53V1023.49H899.54ZM917.53 1010.14H926.52V1023.49H917.53ZM143.96 1023.49H152.95V1036.83H143.96ZM242.9 1023.49H251.9V1036.83H242.9ZM251.9 1023.49H260.89V1036.83H251.9ZM260.89 1023.49H269.89V1036.83H260.89ZM296.88 1023.49H305.87V1036.83H296.88ZM305.87 1023.49H314.87V1036.83H305.87ZM413.81 1023.49H422.8V1036.83H413.81ZM476.77 1023.49H485.77V1036.83H476.77ZM548.73 1023.49H557.73V1036.83H548.73ZM566.72 1023.49H575.72V1036.83H566.72ZM575.72 1023.49H584.71V1036.83H575.72ZM602.7 1023.49H611.7V1036.83H602.7ZM620.69 1023.49H629.69V1036.83H620.69ZM665.67 1023.49H674.66V1036.83H665.67ZM764.61 1023.49H773.61V1036.83H764.61ZM791.6 1023.49H800.59V1036.83H791.6ZM827.58 1023.49H836.57V1036.83H827.58ZM863.56 1023.49H872.55V1036.83H863.56ZM881.55 1023.49H890.54V1036.83H881.55ZM899.54 1023.49H908.53V1036.83H899.54ZM926.52 1023.49H935.52V1036.83H926.52ZM81 1036.83H89.99V1050.17H81ZM89.99 1036.83H98.98V1050.17H89.99ZM98.98 1036.83H107.98V1050.17H98.98ZM260.89 1036.83H269.89V1050.17H260.89ZM296.88 1036.83H305.87V1050.17H296.88ZM422.8 1036.83H431.8V1050.17H422.8ZM575.72 1036.83H584.71V1050.17H575.72ZM647.68 1036.83H656.67V1050.17H647.68ZM710.64 1036.83H719.64V1050.17H710.64ZM737.63 1036.83H746.62V1050.17H737.63ZM773.61 1036.83H782.6V1050.17H773.61ZM782.6 1036.83H791.6V1050.17H782.6ZM836.57 1036.83H845.57V1050.17H836.57ZM845.57 1036.83H854.56V1050.17H845.57ZM908.53 1036.83H917.53V1050.17H908.53ZM89.99 1050.17H98.98V1063.52H89.99ZM116.97 1050.17H125.97V1063.52H116.97ZM125.97 1050.17H134.97V1063.52H125.97ZM134.97 1050.17H143.96V1063.52H134.97ZM179.94 1050.17H188.94V1063.52H179.94ZM251.9 1050.17H260.89V1063.52H251.9ZM260.89 1050.17H269.89V1063.52H260.89ZM278.88 1050.17H287.88V1063.52H278.88ZM341.85 1050.17H350.84V1063.52H341.85ZM359.84 1050.17H368.83V1063.52H359.84ZM377.83 1050.17H386.82V1063.52H377.83ZM494.76 1050.17H503.76V1063.52H494.76ZM512.75 1050.17H521.75V1063.52H512.75ZM665.67 1050.17H674.66V1063.52H665.67ZM683.66 1050.17H692.65V1063.52H683.66ZM764.61 1050.17H773.61V1063.52H764.61ZM773.61 1050.17H782.6V1063.52H773.61ZM791.6 1050.17H800.59V1063.52H791.6ZM863.56 1050.17H872.55V1063.52H863.56ZM935.52 1050.17H944.51V1063.52H935.52ZM953.51 1050.17H962.5V1063.52H953.51ZM81 1063.52H89.99V1076.87H81ZM125.97 1063.52H134.97V1076.87H125.97ZM134.97 1063.52H143.96V1076.87H134.97ZM152.95 1063.52H161.95V1076.87H152.95ZM161.95 1063.52H170.94V1076.87H161.95ZM197.93 1063.52H206.92V1076.87H197.93ZM224.91 1063.52H233.91V1076.87H224.91ZM251.9 1063.52H260.89V1076.87H251.9ZM278.88 1063.52H287.88V1076.87H278.88ZM332.85 1063.52H341.85V1076.87H332.85ZM341.85 1063.52H350.84V1076.87H341.85ZM350.84 1063.52H359.84V1076.87H350.84ZM377.83 1063.52H386.82V1076.87H377.83ZM440.79 1063.52H449.79V1076.87H440.79ZM530.74 1063.52H539.74V1076.87H530.74ZM539.74 1063.52H548.73V1076.87H539.74ZM566.72 1063.52H575.72V1076.87H566.72ZM611.7 1063.52H620.69V1076.87H611.7ZM746.62 1063.52H755.62V1076.87H746.62ZM755.62 1063.52H764.61V1076.87H755.62ZM818.58 1063.52H827.58V1076.87H818.58ZM872.55 1063.52H881.55V1076.87H872.55ZM908.53 1063.52H917.53V1076.87H908.53ZM926.52 1063.52H935.52V1076.87H926.52ZM935.52 1063.52H944.51V1076.87H935.52ZM89.99 1076.87H98.98V1090.21H89.99ZM260.89 1076.87H269.89V1090.21H260.89ZM341.85 1076.87H350.84V1090.21H341.85ZM359.84 1076.87H368.83V1090.21H359.84ZM548.73 1076.87H557.73V1090.21H548.73ZM638.68 1076.87H647.68V1090.21H638.68ZM656.67 1076.87H665.67V1090.21H656.67ZM674.66 1076.87H683.66V1090.21H674.66ZM683.66 1076.87H692.65V1090.21H683.66ZM692.65 1076.87H701.65V1090.21H692.65ZM800.59 1076.87H809.59V1090.21H800.59ZM881.55 1076.87H890.54V1090.21H881.55ZM161.95 1090.21H170.94V1103.56H161.95ZM206.92 1090.21H215.92V1103.56H206.92ZM215.92 1090.21H224.91V1103.56H215.92ZM224.91 1090.21H233.91V1103.56H224.91ZM296.88 1090.21H305.87V1103.56H296.88ZM377.83 1090.21H386.82V1103.56H377.83ZM629.69 1090.21H638.68V1103.56H629.69ZM827.58 1090.21H836.57V1103.56H827.58ZM845.57 1090.21H854.56V1103.56H845.57ZM899.54 1090.21H908.53V1103.56H899.54ZM81 1103.56H89.99V1116.9H81ZM89.99 1103.56H98.98V1116.9H89.99ZM98.98 1103.56H107.98V1116.9H98.98ZM116.97 1103.56H125.97V1116.9H116.97ZM134.97 1103.56H143.96V1116.9H134.97ZM161.95 1103.56H170.94V1116.9H161.95ZM188.94 1103.56H197.93V1116.9H188.94ZM215.92 1103.56H224.91V1116.9H215.92ZM269.89 1103.56H278.88V1116.9H269.89ZM341.85 1103.56H350.84V1116.9H341.85ZM368.83 1103.56H377.83V1116.9H368.83ZM377.83 1103.56H386.82V1116.9H377.83ZM476.77 1103.56H485.77V1116.9H476.77ZM494.76 1103.56H503.76V1116.9H494.76ZM539.74 1103.56H548.73V1116.9H539.74ZM602.7 1103.56H611.7V1116.9H602.7ZM125.97 1116.9H134.97V1130.24H125.97ZM152.95 1116.9H161.95V1130.24H152.95ZM170.94 1116.9H179.94V1130.24H170.94ZM224.91 1116.9H233.91V1130.24H224.91ZM233.91 1116.9H242.9V1130.24H233.91ZM305.87 1116.9H314.87V1130.24H305.87ZM368.83 1116.9H377.83V1130.24H368.83ZM386.82 1116.9H395.82V1130.24H386.82ZM521.75 1116.9H530.74V1130.24H521.75ZM539.74 1116.9H548.73V1130.24H539.74ZM548.73 1116.9H557.73V1130.24H548.73ZM575.72 1116.9H584.71V1130.24H575.72ZM593.71 1116.9H602.7V1130.24H593.71ZM611.7 1116.9H620.69V1130.24H611.7ZM107.98 1130.24H116.97V1143.59H107.98ZM125.97 1130.24H134.97V1143.59H125.97ZM170.94 1130.24H179.94V1143.59H170.94ZM179.94 1130.24H188.94V1143.59H179.94ZM188.94 1130.24H197.93V1143.59H188.94ZM269.89 1130.24H278.88V1143.59H269.89ZM368.83 1130.24H377.83V1143.59H368.83ZM458.78 1130.24H467.78V1143.59H458.78ZM539.74 1130.24H548.73V1143.59H539.74ZM611.7 1130.24H620.69V1143.59H611.7ZM620.69 1130.24H629.69V1143.59H620.69ZM647.68 1130.24H656.67V1143.59H647.68ZM665.67 1130.24H674.66V1143.59H665.67ZM152.95 1143.59H161.95V1156.93H152.95ZM188.94 1143.59H197.93V1156.93H188.94ZM233.91 1143.59H242.9V1156.93H233.91ZM242.9 1143.59H251.9V1156.93H242.9ZM251.9 1143.59H260.89V1156.93H251.9ZM278.88 1143.59H287.88V1156.93H278.88ZM377.83 1143.59H386.82V1156.93H377.83ZM386.82 1143.59H395.82V1156.93H386.82ZM404.81 1143.59H413.81V1156.93H404.81ZM440.79 1143.59H449.79V1156.93H440.79ZM458.78 1143.59H467.78V1156.93H458.78ZM98.98 1156.93H107.98V1170.28H98.98ZM161.95 1156.93H170.94V1170.28H161.95ZM395.82 1156.93H404.81V1170.28H395.82ZM413.81 1156.93H422.8V1170.28H413.81ZM152.95 1170.28H161.95V1183.62H152.95ZM359.84 1170.28H368.83V1183.62H359.84ZM440.79 1170.28H449.79V1183.62H440.79ZM467.78 1170.28H476.77V1183.62H467.78ZM72 1183.62H81V1196.97H72ZM89.99 1183.62H98.98V1196.97H89.99ZM116.97 1183.62H125.97V1196.97H116.97ZM170.94 1183.62H179.94V1196.97H170.94ZM206.92 1183.62H215.92V1196.97H206.92ZM251.9 1183.62H260.89V1196.97H251.9ZM341.85 1183.62H350.84V1196.97H341.85ZM72 1196.97H81V1210.32H72ZM81 1196.97H89.99V1210.32H81ZM98.98 1196.97H107.98V1210.32H98.98ZM107.98 1196.97H116.97V1210.32H107.98ZM116.97 1196.97H125.97V1210.32H116.97ZM206.92 1196.97H215.92V1210.32H206.92ZM251.9 1196.97H260.89V1210.32H251.9ZM278.88 1196.97H287.88V1210.32H278.88ZM305.87 1196.97H314.87V1210.32H305.87ZM395.82 1196.97H404.81V1210.32H395.82ZM467.78 1196.97H476.77V1210.32H467.78ZM530.74 1196.97H539.74V1210.32H530.74ZM116.97 1210.32H125.97V1223.66H116.97ZM170.94 1210.32H179.94V1223.66H170.94ZM197.93 1210.32H206.92V1223.66H197.93ZM287.88 1210.32H296.88V1223.66H287.88ZM413.81 1210.32H422.8V1223.66H413.81ZM431.8 1210.32H440.79V1223.66H431.8ZM503.76 1210.32H512.75V1223.66H503.76ZM512.75 1210.32H521.75V1223.66H512.75ZM530.74 1210.32H539.74V1223.66H530.74ZM81 1223.66H89.99V1237.01H81ZM107.98 1223.66H116.97V1237.01H107.98ZM161.95 1223.66H170.94V1237.01H161.95ZM170.94 1223.66H179.94V1237.01H170.94ZM197.93 1223.66H206.92V1237.01H197.93ZM215.92 1223.66H224.91V1237.01H215.92ZM224.91 1223.66H233.91V1237.01H224.91ZM242.9 1223.66H251.9V1237.01H242.9ZM251.9 1223.66H260.89V1237.01H251.9ZM269.89 1223.66H278.88V1237.01H269.89ZM314.87 1223.66H323.86V1237.01H314.87Z"/><path fill="#00ff00" d="M161.95 850H170.94V863.35H161.95ZM179.94 850H188.94V863.35H179.94ZM206.92 850H215.92V863.35H206.92ZM251.9 850H260.89V863.35H251.9ZM278.88 850H287.88V863.35H278.88ZM287.88 850H296.88V863.35H287.88ZM296.88 850H305.87V863.35H296.88ZM305.87 850H314.87V863.35H305.87ZM386.82 850H395.82V863.35H386.82ZM440.79 850H449.79V863.35H440.79ZM449.79 850H458.78V863.35H449.79ZM458.78 850H467.78V863.35H458.78ZM521.75 850H530.74V863.35H521.75ZM530.74 850H539.74V863.35H530.74ZM575.72 850H584.71V863.35H575.72ZM602.7 850H611.7V863.35H602.7ZM611.7 850H620.69V863.35H611.7ZM665.67 850H674.66V863.35H665.67ZM692.65 850H701.65V863.35H692.65ZM719.64 850H728.63V863.35H719.64ZM737.63 850H746.62V863.35H737.63ZM755.62 850H764.61V863.35H755.62ZM773.61 850H782.6V863.35H773.61ZM782.6 850H791.6V863.35H782.6ZM827.58 850H836.57V863.35H827.58ZM881.55 850H890.54V863.35H881.55ZM890.54 850H899.54V863.35H890.54ZM917.53 850H926.52V863.35H917.53ZM926.52 850H935.52V863.35H926.52ZM935.52 850H944.51V863.35H935.52ZM953.51 850H962.5V863.35H953.51ZM1025.47 850H1034.46V863.35H1025.47ZM81 863.35H89.99V876.69H81ZM116.97 863.35H125.97V876.69H116.97ZM161.95 863.35H170.94V876.69H161.95ZM170.94 863.35H179.94V876.69H170.94ZM188.94 863.35H197.93V876.69H188.94ZM206.92 863.35H215.92V876.69H206.92ZM233.91 863.35H242.9V876.69H233.91ZM242.9 863.35H251.9V876.69H242.9ZM260.89 863.35H269.89V876.69H260.89ZM269.89 863.35H278.88V876.69H269.89ZM305.87 863.35H314.87V876.69H305.87ZM332.85 863.35H341.85V876.69H332.85ZM341.85 863.35H350.84V876.69H341.85ZM359.84 863.35H368.83V876.69H359.84ZM395.82 863.35H404.81V876.69H395.82ZM458.78 863.35H467.78V876.69H458.78ZM467.78 863.35H476.77V876.69H467.78ZM476.77 863.35H485.77V876.69H476.77ZM512.75 863.35H521.75V876.69H512.75ZM746.62 863.35H755.62V876.69H746.62ZM881.55 863.35H890.54V876.69H881.55ZM926.52 863.35H935.52V876.69H926.52ZM935.52 863.35H944.51V876.69H935.52ZM971.5 863.35H980.49V876.69H971.5ZM134.97 876.69H143.96V890.03H134.97ZM188.94 876.69H197.93V890.03H188.94ZM197.93 876.69H206.92V890.03H197.93ZM215.92 876.69H224.91V890.03H215.92ZM224.91 876.69H233.91V890.03H224.91ZM296.88 876.69H305.87V890.03H296.88ZM305.87 876.69H314.87V890.03H305.87ZM323.86 876.69H332.85V890.03H323.86ZM395.82 876.69H404.81V890.03H395.82ZM413.81 876.69H422.8V890.03H413.81ZM422.8 876.69H431.8V890.03H422.8ZM431.8 876.69H440.79V890.03H431.8ZM503.76 876.69H512.75V890.03H503.76ZM521.75 876.69H530.74V890.03H521.75ZM530.74 876.69H539.74V890.03H530.74ZM557.73 876.69H566.72V890.03H557.73ZM566.72 876.69H575.72V890.03H566.72ZM647.68 876.69H656.67V890.03H647.68ZM674.66 876.69H683.66V890.03H674.66ZM773.61 876.69H782.6V890.03H773.61ZM818.58 876.69H827.58V890.03H818.58ZM953.51 876.69H962.5V890.03H953.51ZM971.5 876.69H980.49V890.03H971.5ZM989.49 876.69H998.48V890.03H989.49ZM1016.47 876.69H1025.47V890.03H1016.47ZM134.97 890.03H143.96V903.38H134.97ZM143.96 890.03H152.95V903.38H143.96ZM251.9 890.03H260.89V903.38H251.9ZM296.88 890.03H305.87V903.38H296.88ZM332.85 890.03H341.85V903.38H332.85ZM404.81 890.03H413.81V903.38H404.81ZM449.79 890.03H458.78V903.38H449.79ZM467.78 890.03H476.77V903.38H467.78ZM521.75 890.03H530.74V903.38H521.75ZM575.72 890.03H584.71V903.38H575.72ZM584.71 890.03H593.71V903.38H584.71ZM629.69 890.03H638.68V903.38H629.69ZM647.68 890.03H656.67V903.38H647.68ZM665.67 890.03H674.66V903.38H665.67ZM728.63 890.03H737.63V903.38H728.63ZM737.63 890.03H746.62V903.38H737.63ZM800.59 890.03H809.59V903.38H800.59ZM863.56 890.03H872.55V903.38H863.56ZM890.54 890.03H899.54V903.38H890.54ZM899.54 890.03H908.53V903.38H899.54ZM917.53 890.03H926.52V903.38H917.53ZM926.52 890.03H935.52V903.38H926.52ZM962.5 890.03H971.5V903.38H962.5ZM989.49 890.03H998.48V903.38H989.49ZM998.48 890.03H1007.48V903.38H998.48ZM125.97 903.38H134.97V916.73H125.97ZM134.97 903.38H143.96V916.73H134.97ZM143.96 903.38H152.95V916.73H143.96ZM152.95 903.38H161.95V916.73H152.95ZM188.94 903.38H197.93V916.73H188.94ZM197.93 903.38H206.92V916.73H197.93ZM206.92 903.38H215.92V916.73H206.92ZM242.9 903.38H251.9V916.73H242.9ZM251.9 903.38H260.89V916.73H251.9ZM359.84 903.38H368.83V916.73H359.84ZM395.82 903.38H404.81V916.73H395.82ZM404.81 903.38H413.81V916.73H404.81ZM521.75 903.38H530.74V916.73H521.75ZM638.68 903.38H647.68V916.73H638.68ZM665.67 903.38H674.66V916.73H665.67ZM701.65 903.38H710.64V916.73H701.65ZM818.58 903.38H827.58V916.73H818.58ZM890.54 903.38H899.54V916.73H890.54ZM899.54 903.38H908.53V916.73H899.54ZM980.49 903.38H989.49V916.73H980.49ZM1007.48 903.38H1016.47V916.73H1007.48ZM72 916.73H81V930.07H72ZM89.99 916.73H98.98V930.07H89.99ZM116.97 916.73H125.97V930.07H116.97ZM170.94 916.73H179.94V930.07H170.94ZM197.93 916.73H206.92V930.07H197.93ZM215.92 916.73H224.91V930.07H215.92ZM224.91 916.73H233.91V930.07H224.91ZM233.91 916.73H242.9V930.07H233.91ZM242.9 916.73H251.9V930.07H242.9ZM251.9 916.73H260.89V930.07H251.9ZM323.86 916.73H332.85V930.07H323.86ZM467.78 916.73H476.77V930.07H467.78ZM476.77 916.73H485.77V930.07H476.77ZM494.76 916.73H503.76V930.07H494.76ZM530.74 916.73H539.74V930.07H530.74ZM602.7 916.73H611.7V930.07H602.7ZM611.7 916.73H620.69V930.07H611.7ZM656.67 916.73H665.67V930.07H656.67ZM710.64 916.73H719.64V930.07H710.64ZM719.64 916.73H728.63V930.07H719.64ZM773.61 916.73H782.6V930.07H773.61ZM818.58 916.73H827.58V930.07H818.58ZM827.58 916.73H836.57V930.07H827.58ZM881.55 916.73H890.54V930.07H881.55ZM917.53 916.73H926.52V930.07H917.53ZM926.52 916.73H935.52V930.07H926.52ZM962.5 916.73H971.5V930.07H962.5ZM980.49 916.73H989.49V930.07H980.49ZM143.96 930.07H152.95V943.41H143.96ZM161.95 930.07H170.94V943.41H161.95ZM170.94 930.07H179.94V943.41H170.94ZM233.91 930.07H242.9V943.41H233.91ZM251.9 930.07H260.89V943.41H251.9ZM287.88 930.07H296.88V943.41H287.88ZM296.88 930.07H305.87V943.41H296.88ZM332.85 930.07H341.85V943.41H332.85ZM449.79 930.07H458.78V943.41H449.79ZM503.76 930.07H512.75V943.41H503.76ZM557.73 930.07H566.72V943.41H557.73ZM584.71 930.07H593.71V943.41H584.71ZM593.71 930.07H602.7V943.41H593.71ZM656.67 930.07H665.67V943.41H656.67ZM683.66 930.07H692.65V943.41H683.66ZM692.65 930.07H701.65V943.41H692.65ZM719.64 930.07H728.63V943.41H719.64ZM737.63 930.07H746.62V943.41H737.63ZM764.61 930.07H773.61V943.41H764.61ZM773.61 930.07H782.6V943.41H773.61ZM81 943.41H89.99V956.76H81ZM116.97 943.41H125.97V956.76H116.97ZM125.97 943.41H134.97V956.76H125.97ZM143.96 943.41H152.95V956.76H143.96ZM161.95 943.41H170.94V956.76H161.95ZM179.94 943.41H188.94V956.76H179.94ZM206.92 943.41H215.92V956.76H206.92ZM215.92 943.41H224.91V956.76H215.92ZM251.9 943.41H260.89V956.76H251.9ZM260.89 943.41H269.89V956.76H260.89ZM269.89 943.41H278.88V956.76H269.89ZM314.87 943.41H323.86V956.76H314.87ZM323.86 943.41H332.85V956.76H323.86ZM332.85 943.41H341.85V956.76H332.85ZM341.85 943.41H350.84V956.76H341.85ZM395.82 943.41H404.81V956.76H395.82ZM521.75 943.41H530.74V956.76H521.75ZM548.73 943.41H557.73V956.76H548.73ZM557.73 943.41H566.72V956.76H557.73ZM611.7 943.41H620.69V956.76H611.7ZM620.69 943.41H629.69V956.76H620.69ZM638.68 943.41H647.68V956.76H638.68ZM701.65 943.41H710.64V956.76H701.65ZM719.64 943.41H728.63V956.76H719.64ZM755.62 943.41H764.61V956.76H755.62ZM764.61 943.41H773.61V956.76H764.61ZM872.55 943.41H881.55V956.76H872.55ZM917.53 943.41H926.52V956.76H917.53ZM953.51 943.41H962.5V956.76H953.51ZM125.97 956.76H134.97V970.11H125.97ZM152.95 956.76H161.95V970.11H152.95ZM224.91 956.76H233.91V970.11H224.91ZM251.9 956.76H260.89V970.11H251.9ZM296.88 956.76H305.87V970.11H296.88ZM368.83 956.76H377.83V970.11H368.83ZM377.83 956.76H386.82V970.11H377.83ZM386.82 956.76H395.82V970.11H386.82ZM413.81 956.76H422.8V970.11H413.81ZM449.79 956.76H458.78V970.11H449.79ZM458.78 956.76H467.78V970.11H458.78ZM467.78 956.76H476.77V970.11H467.78ZM476.77 956.76H485.77V970.11H476.77ZM584.71 956.76H593.71V970.11H584.71ZM647.68 956.76H656.67V970.11H647.68ZM683.66 956.76H692.65V970.11H683.66ZM737.63 956.76H746.62V970.11H737.63ZM791.6 956.76H800.59V970.11H791.6ZM872.55 956.76H881.55V970.11H872.55ZM881.55 956.76H890.54V970.11H881.55ZM890.54 956.76H899.54V970.11H890.54ZM953.51 956.76H962.5V970.11H953.51ZM134.97 970.11H143.96V983.45H134.97ZM152.95 970.11H161.95V983.45H152.95ZM170.94 970.11H179.94V983.45H170.94ZM197.93 970.11H206.92V983.45H197.93ZM224.91 970.11H233.91V983.45H224.91ZM323.86 970.11H332.85V983.45H323.86ZM377.83 970.11H386.82V983.45H377.83ZM395.82 970.11H404.81V983.45H395.82ZM431.8 970.11H440.79V983.45H431.8ZM449.79 970.11H458.78V983.45H449.79ZM719.64 970.11H728.63V983.45H719.64ZM728.63 970.11H737.63V983.45H728.63ZM764.61 970.11H773.61V983.45H764.61ZM791.6 970.11H800.59V983.45H791.6ZM818.58 970.11H827.58V983.45H818.58ZM890.54 970.11H899.54V983.45H890.54ZM926.52 970.11H935.52V983.45H926.52ZM971.5 970.11H980.49V983.45H971.5ZM980.49 970.11H989.49V983.45H980.49ZM81 983.45H89.99V996.8H81ZM206.92 983.45H215.92V996.8H206.92ZM215.92 983.45H224.91V996.8H215.92ZM242.9 983.45H251.9V996.8H242.9ZM278.88 983.45H287.88V996.8H278.88ZM305.87 983.45H314.87V996.8H305.87ZM323.86 983.45H332.85V996.8H323.86ZM341.85 983.45H350.84V996.8H341.85ZM350.84 983.45H359.84V996.8H350.84ZM404.81 983.45H413.81V996.8H404.81ZM440.79 983.45H449.79V996.8H440.79ZM476.77 983.45H485.77V996.8H476.77ZM494.76 983.45H503.76V996.8H494.76ZM557.73 983.45H566.72V996.8H557.73ZM611.7 983.45H620.69V996.8H611.7ZM674.66 983.45H683.66V996.8H674.66ZM683.66 983.45H692.65V996.8H683.66ZM701.65 983.45H710.64V996.8H701.65ZM710.64 983.45H719.64V996.8H710.64ZM728.63 983.45H737.63V996.8H728.63ZM737.63 983.45H746.62V996.8H737.63ZM755.62 983.45H764.61V996.8H755.62ZM782.6 983.45H791.6V996.8H782.6ZM836.57 983.45H845.57V996.8H836.57ZM944.51 983.45H953.51V996.8H944.51ZM962.5 983.45H971.5V996.8H962.5ZM980.49 983.45H989.49V996.8H980.49ZM98.98 996.8H107.98V1010.14H98.98ZM116.97 996.8H125.97V1010.14H116.97ZM188.94 996.8H197.93V1010.14H188.94ZM197.93 996.8H206.92V1010.14H197.93ZM206.92 996.8H215.92V1010.14H206.92ZM242.9 996.8H251.9V1010.14H242.9ZM260.89 996.8H269.89V1010.14H260.89ZM305.87 996.8H314.87V1010.14H305.87ZM314.87 996.8H323.86V1010.14H314.87ZM332.85 996.8H341.85V1010.14H332.85ZM368.83 996.8H377.83V1010.14H368.83ZM386.82 996.8H395.82V1010.14H386.82ZM404.81 996.8H413.81V1010.14H404.81ZM413.81 996.8H422.8V1010.14H413.81ZM422.8 996.8H431.8V1010.14H422.8ZM458.78 996.8H467.78V1010.14H458.78ZM485.77 996.8H494.76V1010.14H485.77ZM503.76 996.8H512.75V1010.14H503.76ZM539.74 996.8H548.73V1010.14H539.74ZM566.72 996.8H575.72V1010.14H566.72ZM575.72 996.8H584.71V1010.14H575.72ZM593.71 996.8H602.7V1010.14H593.71ZM629.69 996.8H638.68V1010.14H629.69ZM638.68 996.8H647.68V1010.14H638.68ZM674.66 996.8H683.66V1010.14H674.66ZM701.65 996.8H710.64V1010.14H701.65ZM764.61 996.8H773.61V1010.14H764.61ZM791.6 996.8H800.59V1010.14H791.6ZM908.53 996.8H917.53V1010.14H908.53ZM926.52 996.8H935.52V1010.14H926.52ZM935.52 996.8H944.51V1010.14H935.52ZM944.51 996.8H953.51V1010.14H944.51ZM98.98 1010.14H107.98V1023.49H98.98ZM116.97 1010.14H125.97V1023.49H116.97ZM143.96 1010.14H152.95V1023.49H143.96ZM152.95 1010.14H161.95V1023.49H152.95ZM161.95 1010.14H170.94V1023.49H161.95ZM170.94 1010.14H179.94V1023.49H170.94ZM224.91 1010.14H233.91V1023.49H224.91ZM278.88 1010.14H287.88V1023.49H278.88ZM350.84 1010.14H359.84V1023.49H350.84ZM368.83 1010.14H377.83V1023.49H368.83ZM377.83 1010.14H386.82V1023.49H377.83ZM386.82 1010.14H395.82V1023.49H386.82ZM404.81 1010.14H413.81V1023.49H404.81ZM485.77 1010.14H494.76V1023.49H485.77ZM494.76 1010.14H503.76V1023.49H494.76ZM503.76 1010.14H512.75V1023.49H503.76ZM548.73 1010.14H557.73V1023.49H548.73ZM557.73 1010.14H566.72V1023.49H557.73ZM575.72 1010.14H584.71V1023.49H575.72ZM584.71 1010.14H593.71V1023.49H584.71ZM593.71 1010.14H602.7V1023.49H593.71ZM638.68 1010.14H647.68V1023.49H638.68ZM728.63 1010.14H737.63V1023.49H728.63ZM755.62 1010.14H764.61V1023.49H755.62ZM791.6 1010.14H800.59V1023.49H791.6ZM800.59 1010.14H809.59V1023.49H800.59ZM827.58 1010.14H836.57V1023.49H827.58ZM845.57 1010.14H854.56V1023.49H845.57ZM881.55 1010.14H890.54V1023.49H881.55ZM926.52 1010.14H935.52V1023.49H926.52ZM953.51 1010.14H962.5V1023.49H953.51ZM72 1023.49H81V1036.83H72ZM116.97 1023.49H125.97V1036.83H116.97ZM125.97 1023.49H134.97V1036.83H125.97ZM161.95 1023.49H170.94V1036.83H161.95ZM179.94 1023.49H188.94V1036.83H179.94ZM287.88 1023.49H296.88V1036.83H287.88ZM332.85 1023.49H341.85V1036.83H332.85ZM341.85 1023.49H350.84V1036.83H341.85ZM386.82 1023.49H395.82V1036.83H386.82ZM395.82 1023.49H404.81V1036.83H395.82ZM404.81 1023.49H413.81V1036.83H404.81ZM422.8 1023.49H431.8V1036.83H422.8ZM458.78 1023.49H467.78V1036.83H458.78ZM611.7 1023.49H620.69V1036.83H611.7ZM656.67 1023.49H665.67V1036.83H656.67ZM683.66 1023.49H692.65V1036.83H683.66ZM692.65 1023.49H701.65V1036.83H692.65ZM710.64 1023.49H719.64V1036.83H710.64ZM728.63 1023.49H737.63V1036.83H728.63ZM746.62 1023.49H755.62V1036.83H746.62ZM755.62 1023.49H764.61V1036.83H755.62ZM773.61 1023.49H782.6V1036.83H773.61ZM836.57 1023.49H845.57V1036.83H836.57ZM845.57 1023.49H854.56V1036.83H845.57ZM890.54 1023.49H899.54V1036.83H890.54ZM107.98 1036.83H116.97V1050.17H107.98ZM143.96 1036.83H152.95V1050.17H143.96ZM251.9 1036.83H260.89V1050.17H251.9ZM269.89 1036.83H278.88V1050.17H269.89ZM314.87 1036.83H323.86V1050.17H314.87ZM494.76 1036.83H503.76V1050.17H494.76ZM530.74 1036.83H539.74V1050.17H530.74ZM548.73 1036.83H557.73V1050.17H548.73ZM566.72 1036.83H575.72V1050.17H566.72ZM584.71 1036.83H593.71V1050.17H584.71ZM593.71 1036.83H602.7V1050.17H593.71ZM620.69 1036.83H629.69V1050.17H620.69ZM638.68 1036.83H647.68V1050.17H638.68ZM701.65 1036.83H710.64V1050.17H701.65ZM755.62 1036.83H764.61V1050.17H755.62ZM854.56 1036.83H863.56V1050.17H854.56ZM863.56 1036.83H872.55V1050.17H863.56ZM872.55 1036.83H881.55V1050.17H872.55ZM881.55 1036.83H890.54V1050.17H881.55ZM890.54 1036.83H899.54V1050.17H890.54ZM935.52 1036.83H944.51V1050.17H935.52ZM944.51 1036.83H953.51V1050.17H944.51ZM152.95 1050.17H161.95V1063.52H152.95ZM188.94 1050.17H197.93V1063.52H188.94ZM206.92 1050.17H215.92V1063.52H206.92ZM323.86 1050.17H332.85V1063.52H323.86ZM386.82 1050.17H395.82V1063.52H386.82ZM395.82 1050.17H404.81V1063.52H395.82ZM485.77 1050.17H494.76V1063.52H485.77ZM593.71 1050.17H602.7V1063.52H593.71ZM629.69 1050.17H638.68V1063.52H629.69ZM656.67 1050.17H665.67V1063.52H656.67ZM692.65 1050.17H701.65V1063.52H692.65ZM755.62 1050.17H764.61V1063.52H755.62ZM818.58 1050.17H827.58V1063.52H818.58ZM854.56 1050.17H863.56V1063.52H854.56ZM908.53 1050.17H917.53V1063.52H908.53ZM215.92 1063.52H224.91V1076.87H215.92ZM260.89 1063.52H269.89V1076.87H260.89ZM323.86 1063.52H332.85V1076.87H323.86ZM404.81 1063.52H413.81V1076.87H404.81ZM413.81 1063.52H422.8V1076.87H413.81ZM503.76 1063.52H512.75V1076.87H503.76ZM656.67 1063.52H665.67V1076.87H656.67ZM683.66 1063.52H692.65V1076.87H683.66ZM692.65 1063.52H701.65V1076.87H692.65ZM728.63 1063.52H737.63V1076.87H728.63ZM791.6 1063.52H800.59V1076.87H791.6ZM881.55 1063.52H890.54V1076.87H881.55ZM899.54 1063.52H908.53V1076.87H899.54ZM116.97 1076.87H125.97V1090.21H116.97ZM134.97 1076.87H143.96V1090.21H134.97ZM188.94 1076.87H197.93V1090.21H188.94ZM224.91 1076.87H233.91V1090.21H224.91ZM287.88 1076.87H296.88V1090.21H287.88ZM377.83 1076.87H386.82V1090.21H377.83ZM557.73 1076.87H566.72V1090.21H557.73ZM575.72 1076.87H584.71V1090.21H575.72ZM665.67 1076.87H674.66V1090.21H665.67ZM755.62 1076.87H764.61V1090.21H755.62ZM791.6 1076.87H800.59V1090.21H791.6ZM827.58 1076.87H836.57V1090.21H827.58ZM845.57 1076.87H854.56V1090.21H845.57ZM854.56 1076.87H863.56V1090.21H854.56ZM872.55 1076.87H881.55V1090.21H872.55ZM890.54 1076.87H899.54V1090.21H890.54ZM917.53 1076.87H926.52V1090.21H917.53ZM188.94 1090.21H197.93V1103.56H188.94ZM197.93 1090.21H206.92V1103.56H197.93ZM233.91 1090.21H242.9V1103.56H233.91ZM251.9 1090.21H260.89V1103.56H251.9ZM260.89 1090.21H269.89V1103.56H260.89ZM305.87 1090.21H314.87V1103.56H305.87ZM323.86 1090.21H332.85V1103.56H323.86ZM332.85 1090.21H341.85V1103.56H332.85ZM341.85 1090.21H350.84V1103.56H341.85ZM440.79 1090.21H449.79V1103.56H440.79ZM458.78 1090.21H467.78V1103.56H458.78ZM539.74 1090.21H548.73V1103.56H539.74ZM620.69 1090.21H629.69V1103.56H620.69ZM647.68 1090.21H656.67V1103.56H647.68ZM791.6 1090.21H800.59V1103.56H791.6ZM800.59 1090.21H809.59V1103.56H800.59ZM818.58 1090.21H827.58V1103.56H818.58ZM863.56 1090.21H872.55V1103.56H863.56ZM107.98 1103.56H116.97V1116.9H107.98ZM125.97 1103.56H134.97V1116.9H125.97ZM170.94 1103.56H179.94V1116.9H170.94ZM206.92 1103.56H215.92V1116.9H206.92ZM260.89 1103.56H269.89V1116.9H260.89ZM350.84 1103.56H359.84V1116.9H350.84ZM359.84 1103.56H368.83V1116.9H359.84ZM395.82 1103.56H404.81V1116.9H395.82ZM404.81 1103.56H413.81V1116.9H404.81ZM449.79 1103.56H458.78V1116.9H449.79ZM485.77 1103.56H494.76V1116.9H485.77ZM611.7 1103.56H620.69V1116.9H611.7ZM116.97 1116.9H125.97V1130.24H116.97ZM134.97 1116.9H143.96V1130.24H134.97ZM161.95 1116.9H170.94V1130.24H161.95ZM206.92 1116.9H215.92V1130.24H206.92ZM242.9 1116.9H251.9V1130.24H242.9ZM296.88 1116.9H305.87V1130.24H296.88ZM377.83 1116.9H386.82V1130.24H377.83ZM422.8 1116.9H431.8V1130.24H422.8ZM458.78 1116.9H467.78V1130.24H458.78ZM467.78 1116.9H476.77V1130.24H467.78ZM485.77 1116.9H494.76V1130.24H485.77ZM494.76 1116.9H503.76V1130.24H494.76ZM530.74 1116.9H539.74V1130.24H530.74ZM629.69 1116.9H638.68V1130.24H629.69ZM665.67 1116.9H674.66V1130.24H665.67ZM737.63 1116.9H746.62V1130.24H737.63ZM755.62 1116.9H764.61V1130.24H755.62ZM81 1130.24H89.99V1143.59H81ZM116.97 1130.24H125.97V1143.59H116.97ZM134.97 1130.24H143.96V1143.59H134.97ZM206.92 1130.24H215.92V1143.59H206.92ZM260.89 1130.24H269.89V1143.59H260.89ZM296.88 1130.24H305.87V1143.59H296.88ZM341.85 1130.24H350.84V1143.59H341.85ZM431.8 1130.24H440.79V1143.59H431.8ZM494.76 1130.24H503.76V1143.59H494.76ZM521.75 1130.24H530.74V1143.59H521.75ZM557.73 1130.24H566.72V1143.59H557.73ZM566.72 1130.24H575.72V1143.59H566.72ZM629.69 1130.24H638.68V1143.59H629.69ZM638.68 1130.24H647.68V1143.59H638.68ZM72 1143.59H81V1156.93H72ZM89.99 1143.59H98.98V1156.93H89.99ZM98.98 1143.59H107.98V1156.93H98.98ZM107.98 1143.59H116.97V1156.93H107.98ZM161.95 1143.59H170.94V1156.93H161.95ZM179.94 1143.59H188.94V1156.93H179.94ZM206.92 1143.59H215.92V1156.93H206.92ZM269.89 1143.59H278.88V1156.93H269.89ZM287.88 1143.59H296.88V1156.93H287.88ZM296.88 1143.59H305.87V1156.93H296.88ZM368.83 1143.59H377.83V1156.93H368.83ZM422.8 1143.59H431.8V1156.93H422.8ZM467.78 1143.59H476.77V1156.93H467.78ZM494.76 1143.59H503.76V1156.93H494.76ZM512.75 1143.59H521.75V1156.93H512.75ZM125.97 1156.93H134.97V1170.28H125.97ZM134.97 1156.93H143.96V1170.28H134.97ZM278.88 1156.93H287.88V1170.28H278.88ZM305.87 1156.93H314.87V1170.28H305.87ZM377.83 1156.93H386.82V1170.28H377.83ZM386.82 1156.93H395.82V1170.28H386.82ZM647.68 1156.93H656.67V1170.28H647.68ZM116.97 1170.28H125.97V1183.62H116.97ZM134.97 1170.28H143.96V1183.62H134.97ZM170.94 1170.28H179.94V1183.62H170.94ZM233.91 1170.28H242.9V1183.62H233.91ZM278.88 1170.28H287.88V1183.62H278.88ZM350.84 1170.28H359.84V1183.62H350.84ZM161.95 1183.62H170.94V1196.97H161.95ZM233.91 1183.62H242.9V1196.97H233.91ZM242.9 1183.62H251.9V1196.97H242.9ZM305.87 1183.62H314.87V1196.97H305.87ZM548.73 1183.62H557.73V1196.97H548.73ZM143.96 1196.97H152.95V1210.32H143.96ZM179.94 1196.97H188.94V1210.32H179.94ZM188.94 1196.97H197.93V1210.32H188.94ZM197.93 1196.97H206.92V1210.32H197.93ZM296.88 1196.97H305.87V1210.32H296.88ZM314.87 1196.97H323.86V1210.32H314.87ZM341.85 1196.97H350.84V1210.32H341.85ZM350.84 1196.97H359.84V1210.32H350.84ZM377.83 1196.97H386.82V1210.32H377.83ZM440.79 1196.97H449.79V1210.32H440.79ZM458.78 1196.97H467.78V1210.32H458.78ZM701.65 1196.97H710.64V1210.32H701.65ZM179.94 1210.32H188.94V1223.66H179.94ZM206.92 1210.32H215.92V1223.66H206.92ZM251.9 1210.32H260.89V1223.66H251.9ZM404.81 1210.32H413.81V1223.66H404.81ZM449.79 1210.32H458.78V1223.66H449.79ZM485.77 1210.32H494.76V1223.66H485.77ZM521.75 1210.32H530.74V1223.66H521.75ZM89.99 1223.66H98.98V1237.01H89.99ZM134.97 1223.66H143.96V1237.01H134.97ZM143.96 1223.66H152.95V1237.01H143.96ZM152.95 1223.66H161.95V1237.01H152.95ZM179.94 1223.66H188.94V1237.01H179.94ZM206.92 1223.66H215.92V1237.01H206.92ZM359.84 1223.66H368.83V1237.01H359.84Z"/><path fill="#2ed100" d="M512.75 850H521.75V863.35H512.75ZM647.68 850H656.67V863.35H647.68ZM1034.46 850H1043.46V863.35H1034.46ZM953.51 863.35H962.5V876.69H953.51ZM962.5 863.35H971.5V876.69H962.5ZM467.78 876.69H476.77V890.03H467.78ZM350.84 890.03H359.84V903.38H350.84ZM431.8 890.03H440.79V903.38H431.8ZM611.7 890.03H620.69V903.38H611.7ZM827.58 903.38H836.57V916.73H827.58ZM836.57 903.38H845.57V916.73H836.57ZM845.57 903.38H854.56V916.73H845.57ZM854.56 903.38H863.56V916.73H854.56ZM863.56 903.38H872.55V916.73H863.56ZM872.55 903.38H881.55V916.73H872.55ZM287.88 916.73H296.88V930.07H287.88ZM296.88 916.73H305.87V930.07H296.88ZM305.87 916.73H314.87V930.07H305.87ZM89.99 930.07H98.98V943.41H89.99ZM98.98 930.07H107.98V943.41H98.98ZM107.98 930.07H116.97V943.41H107.98ZM854.56 930.07H863.56V943.41H854.56ZM440.79 943.41H449.79V956.76H440.79ZM449.79 943.41H458.78V956.76H449.79ZM458.78 943.41H467.78V956.76H458.78ZM467.78 943.41H476.77V956.76H467.78ZM476.77 943.41H485.77V956.76H476.77ZM683.66 943.41H692.65V956.76H683.66ZM692.65 943.41H701.65V956.76H692.65ZM782.6 943.41H791.6V956.76H782.6ZM809.59 943.41H818.58V956.76H809.59ZM818.58 943.41H827.58V956.76H818.58ZM836.57 943.41H845.57V956.76H836.57ZM863.56 943.41H872.55V956.76H863.56ZM890.54 943.41H899.54V956.76H890.54ZM899.54 943.41H908.53V956.76H899.54ZM404.81 956.76H413.81V970.11H404.81ZM926.52 956.76H935.52V970.11H926.52ZM971.5 956.76H980.49V970.11H971.5ZM854.56 970.11H863.56V983.45H854.56ZM359.84 983.45H368.83V996.8H359.84ZM449.79 983.45H458.78V996.8H449.79ZM503.76 983.45H512.75V996.8H503.76ZM512.75 983.45H521.75V996.8H512.75ZM575.72 983.45H584.71V996.8H575.72ZM593.71 983.45H602.7V996.8H593.71ZM692.65 983.45H701.65V996.8H692.65ZM512.75 996.8H521.75V1010.14H512.75ZM611.7 996.8H620.69V1010.14H611.7ZM665.67 996.8H674.66V1010.14H665.67ZM728.63 996.8H737.63V1010.14H728.63ZM737.63 996.8H746.62V1010.14H737.63ZM881.55 996.8H890.54V1010.14H881.55ZM890.54 996.8H899.54V1010.14H890.54ZM323.86 1010.14H332.85V1023.49H323.86ZM332.85 1010.14H341.85V1023.49H332.85ZM341.85 1010.14H350.84V1023.49H341.85ZM440.79 1010.14H449.79V1023.49H440.79ZM449.79 1010.14H458.78V1023.49H449.79ZM458.78 1010.14H467.78V1023.49H458.78ZM665.67 1010.14H674.66V1023.49H665.67ZM908.53 1010.14H917.53V1023.49H908.53ZM494.76 1023.49H503.76V1036.83H494.76ZM134.97 1036.83H143.96V1050.17H134.97ZM278.88 1036.83H287.88V1050.17H278.88ZM287.88 1036.83H296.88V1050.17H287.88ZM458.78 1036.83H467.78V1050.17H458.78ZM467.78 1036.83H476.77V1050.17H467.78ZM476.77 1036.83H485.77V1050.17H476.77ZM485.77 1036.83H494.76V1050.17H485.77ZM611.7 1036.83H620.69V1050.17H611.7ZM791.6 1036.83H800.59V1050.17H791.6ZM827.58 1036.83H836.57V1050.17H827.58ZM81 1050.17H89.99V1063.52H81ZM224.91 1050.17H233.91V1063.52H224.91ZM296.88 1050.17H305.87V1063.52H296.88ZM404.81 1050.17H413.81V1063.52H404.81ZM413.81 1050.17H422.8V1063.52H413.81ZM521.75 1050.17H530.74V1063.52H521.75ZM602.7 1050.17H611.7V1063.52H602.7ZM89.99 1063.52H98.98V1076.87H89.99ZM98.98 1063.52H107.98V1076.87H98.98ZM458.78 1063.52H467.78V1076.87H458.78ZM467.78 1063.52H476.77V1076.87H467.78ZM476.77 1063.52H485.77V1076.87H476.77ZM584.71 1063.52H593.71V1076.87H584.71ZM647.68 1063.52H656.67V1076.87H647.68ZM737.63 1063.52H746.62V1076.87H737.63ZM800.59 1063.52H809.59V1076.87H800.59ZM72 1076.87H81V1090.21H72ZM81 1076.87H89.99V1090.21H81ZM278.88 1076.87H287.88V1090.21H278.88ZM332.85 1076.87H341.85V1090.21H332.85ZM386.82 1076.87H395.82V1090.21H386.82ZM395.82 1076.87H404.81V1090.21H395.82ZM404.81 1076.87H413.81V1090.21H404.81ZM413.81 1076.87H422.8V1090.21H413.81ZM422.8 1076.87H431.8V1090.21H422.8ZM431.8 1076.87H440.79V1090.21H431.8ZM485.77 1076.87H494.76V1090.21H485.77ZM494.76 1076.87H503.76V1090.21H494.76ZM503.76 1076.87H512.75V1090.21H503.76ZM512.75 1076.87H521.75V1090.21H512.75ZM521.75 1076.87H530.74V1090.21H521.75ZM530.74 1076.87H539.74V1090.21H530.74ZM602.7 1076.87H611.7V1090.21H602.7ZM611.7 1076.87H620.69V1090.21H611.7ZM620.69 1076.87H629.69V1090.21H620.69ZM647.68 1076.87H656.67V1090.21H647.68ZM350.84 1090.21H359.84V1103.56H350.84ZM359.84 1090.21H368.83V1103.56H359.84ZM449.79 1090.21H458.78V1103.56H449.79ZM494.76 1090.21H503.76V1103.56H494.76ZM503.76 1090.21H512.75V1103.56H503.76ZM512.75 1090.21H521.75V1103.56H512.75ZM521.75 1090.21H530.74V1103.56H521.75ZM530.74 1090.21H539.74V1103.56H530.74ZM557.73 1090.21H566.72V1103.56H557.73ZM566.72 1090.21H575.72V1103.56H566.72ZM656.67 1090.21H665.67V1103.56H656.67ZM665.67 1090.21H674.66V1103.56H665.67ZM674.66 1090.21H683.66V1103.56H674.66ZM872.55 1090.21H881.55V1103.56H872.55ZM881.55 1090.21H890.54V1103.56H881.55ZM890.54 1090.21H899.54V1103.56H890.54ZM287.88 1103.56H296.88V1116.9H287.88ZM323.86 1103.56H332.85V1116.9H323.86ZM575.72 1103.56H584.71V1116.9H575.72ZM584.71 1103.56H593.71V1116.9H584.71ZM593.71 1103.56H602.7V1116.9H593.71ZM827.58 1103.56H836.57V1116.9H827.58ZM836.57 1103.56H845.57V1116.9H836.57ZM845.57 1103.56H854.56V1116.9H845.57ZM323.86 1116.9H332.85V1130.24H323.86ZM332.85 1116.9H341.85V1130.24H332.85ZM341.85 1116.9H350.84V1130.24H341.85ZM350.84 1116.9H359.84V1130.24H350.84ZM395.82 1116.9H404.81V1130.24H395.82ZM404.81 1116.9H413.81V1130.24H404.81ZM413.81 1116.9H422.8V1130.24H413.81ZM440.79 1116.9H449.79V1130.24H440.79ZM449.79 1116.9H458.78V1130.24H449.79ZM647.68 1116.9H656.67V1130.24H647.68ZM656.67 1116.9H665.67V1130.24H656.67ZM413.81 1130.24H422.8V1143.59H413.81ZM440.79 1130.24H449.79V1143.59H440.79ZM548.73 1130.24H557.73V1143.59H548.73ZM575.72 1130.24H584.71V1143.59H575.72ZM584.71 1130.24H593.71V1143.59H584.71ZM593.71 1130.24H602.7V1143.59H593.71ZM602.7 1130.24H611.7V1143.59H602.7ZM701.65 1130.24H710.64V1143.59H701.65ZM710.64 1130.24H719.64V1143.59H710.64ZM719.64 1130.24H728.63V1143.59H719.64ZM125.97 1143.59H134.97V1156.93H125.97ZM602.7 1143.59H611.7V1156.93H602.7ZM611.7 1143.59H620.69V1156.93H611.7ZM224.91 1156.93H233.91V1170.28H224.91ZM548.73 1156.93H557.73V1170.28H548.73ZM557.73 1156.93H566.72V1170.28H557.73ZM566.72 1156.93H575.72V1170.28H566.72ZM728.63 1156.93H737.63V1170.28H728.63ZM737.63 1156.93H746.62V1170.28H737.63ZM107.98 1183.62H116.97V1196.97H107.98ZM152.95 1183.62H161.95V1196.97H152.95ZM260.89 1183.62H269.89V1196.97H260.89ZM584.71 1183.62H593.71V1196.97H584.71ZM269.89 1196.97H278.88V1210.32H269.89ZM494.76 1196.97H503.76V1210.32H494.76ZM503.76 1196.97H512.75V1210.32H503.76ZM512.75 1196.97H521.75V1210.32H512.75ZM521.75 1196.97H530.74V1210.32H521.75ZM629.69 1196.97H638.68V1210.32H629.69ZM656.67 1196.97H665.67V1210.32H656.67ZM665.67 1196.97H674.66V1210.32H665.67ZM674.66 1196.97H683.66V1210.32H674.66ZM72 1210.32H81V1223.66H72ZM81 1210.32H89.99V1223.66H81ZM89.99 1210.32H98.98V1223.66H89.99ZM98.98 1210.32H107.98V1223.66H98.98ZM107.98 1210.32H116.97V1223.66H107.98ZM125.97 1210.32H134.97V1223.66H125.97ZM134.97 1210.32H143.96V1223.66H134.97ZM269.89 1210.32H278.88V1223.66H269.89ZM377.83 1210.32H386.82V1223.66H377.83ZM548.73 1210.32H557.73V1223.66H548.73ZM566.72 1210.32H575.72V1223.66H566.72ZM602.7 1210.32H611.7V1223.66H602.7ZM611.7 1210.32H620.69V1223.66H611.7ZM125.97 1223.66H134.97V1237.01H125.97ZM278.88 1223.66H287.88V1237.01H278.88ZM305.87 1223.66H314.87V1237.01H305.87Z"/><path fill="#619e00" d="M656.67 850H665.67V863.35H656.67ZM584.71 863.35H593.71V876.69H584.71ZM836.57 863.35H845.57V876.69H836.57ZM683.66 876.69H692.65V890.03H683.66ZM881.55 903.38H890.54V916.73H881.55ZM377.83 916.73H386.82V930.07H377.83ZM611.7 930.07H620.69V943.41H611.7ZM584.71 943.41H593.71V956.76H584.71ZM827.58 943.41H836.57V956.76H827.58ZM233.91 956.76H242.9V970.11H233.91ZM854.56 996.8H863.56V1010.14H854.56ZM359.84 1010.14H368.83V1023.49H359.84ZM422.8 1010.14H431.8V1023.49H422.8ZM512.75 1010.14H521.75V1023.49H512.75ZM701.65 1010.14H710.64V1023.49H701.65ZM170.94 1023.49H179.94V1036.83H170.94ZM197.93 1023.49H206.92V1036.83H197.93ZM440.79 1023.49H449.79V1036.83H440.79ZM809.59 1023.49H818.58V1036.83H809.59ZM152.95 1036.83H161.95V1050.17H152.95ZM449.79 1036.83H458.78V1050.17H449.79ZM72 1050.17H81V1063.52H72ZM611.7 1050.17H620.69V1063.52H611.7ZM431.8 1063.52H440.79V1076.87H431.8ZM467.78 1076.87H476.77V1090.21H467.78ZM593.71 1076.87H602.7V1090.21H593.71ZM710.64 1076.87H719.64V1090.21H710.64ZM107.98 1090.21H116.97V1103.56H107.98ZM278.88 1090.21H287.88V1103.56H278.88ZM782.6 1090.21H791.6V1103.56H782.6ZM458.78 1103.56H467.78V1116.9H458.78ZM566.72 1103.56H575.72V1116.9H566.72ZM665.67 1103.56H674.66V1116.9H665.67ZM719.64 1103.56H728.63V1116.9H719.64ZM314.87 1116.9H323.86V1130.24H314.87ZM332.85 1130.24H341.85V1143.59H332.85ZM404.81 1130.24H413.81V1143.59H404.81ZM692.65 1130.24H701.65V1143.59H692.65ZM575.72 1143.59H584.71V1156.93H575.72ZM440.79 1156.93H449.79V1170.28H440.79ZM476.77 1156.93H485.77V1170.28H476.77ZM224.91 1170.28H233.91V1183.62H224.91ZM242.9 1170.28H251.9V1183.62H242.9ZM395.82 1170.28H404.81V1183.62H395.82ZM494.76 1170.28H503.76V1183.62H494.76ZM584.71 1170.28H593.71V1183.62H584.71ZM701.65 1170.28H710.64V1183.62H701.65ZM710.64 1170.28H719.64V1183.62H710.64ZM719.64 1170.28H728.63V1183.62H719.64ZM278.88 1183.62H287.88V1196.97H278.88ZM287.88 1183.62H296.88V1196.97H287.88ZM323.86 1183.62H332.85V1196.97H323.86ZM476.77 1183.62H485.77V1196.97H476.77ZM485.77 1183.62H494.76V1196.97H485.77ZM521.75 1183.62H530.74V1196.97H521.75ZM566.72 1183.62H575.72V1196.97H566.72ZM665.67 1183.62H674.66V1196.97H665.67ZM683.66 1196.97H692.65V1210.32H683.66ZM620.69 1210.32H629.69V1223.66H620.69Z"/><path fill="#708f00" d="M674.66 850H683.66V863.35H674.66ZM449.79 876.69H458.78V890.03H449.79ZM125.97 890.03H134.97V903.38H125.97ZM647.68 903.38H656.67V916.73H647.68ZM710.64 956.76H719.64V970.11H710.64ZM863.56 983.45H872.55V996.8H863.56ZM521.75 1023.49H530.74V1036.83H521.75ZM809.59 1090.21H818.58V1103.56H809.59ZM746.62 1103.56H755.62V1116.9H746.62ZM404.81 1156.93H413.81V1170.28H404.81ZM620.69 1156.93H629.69V1170.28H620.69ZM656.67 1156.93H665.67V1170.28H656.67ZM665.67 1156.93H674.66V1170.28H665.67ZM206.92 1170.28H215.92V1183.62H206.92ZM314.87 1170.28H323.86V1183.62H314.87ZM413.81 1170.28H422.8V1183.62H413.81ZM539.74 1170.28H548.73V1183.62H539.74ZM548.73 1170.28H557.73V1183.62H548.73ZM557.73 1170.28H566.72V1183.62H557.73ZM647.68 1170.28H656.67V1183.62H647.68ZM314.87 1183.62H323.86V1196.97H314.87ZM629.69 1183.62H638.68V1196.97H629.69ZM710.64 1196.97H719.64V1210.32H710.64ZM404.81 1223.66H413.81V1237.01H404.81Z"/><path fill="#828282" d="M1043.46 850H1052.45V863.35H1043.46ZM1034.46 863.35H1043.46V876.69H1034.46ZM1025.47 876.69H1034.46V890.03H1025.47ZM1016.47 890.03H1025.47V903.38H1016.47ZM1016.47 903.38H1025.47V916.73H1016.47ZM998.48 916.73H1007.48V930.07H998.48ZM998.48 930.07H1007.48V943.41H998.48ZM998.48 943.41H1007.48V956.76H998.48ZM989.49 956.76H998.48V970.11H989.49ZM989.49 970.11H998.48V983.45H989.49ZM989.49 983.45H998.48V996.8H989.49ZM971.5 996.8H980.49V1010.14H971.5ZM962.5 1010.14H971.5V1023.49H962.5ZM962.5 1023.49H971.5V1036.83H962.5ZM962.5 1036.83H971.5V1050.17H962.5ZM962.5 1050.17H971.5V1063.52H962.5ZM944.51 1063.52H953.51V1076.87H944.51ZM926.52 1076.87H935.52V1090.21H926.52ZM908.53 1090.21H917.53V1103.56H908.53ZM854.56 1103.56H863.56V1116.9H854.56ZM746.62 1156.93H755.62V1170.28H746.62ZM728.63 1170.28H737.63V1183.62H728.63ZM728.63 1183.62H737.63V1196.97H728.63Z"/><path fill="#827d00" d="M89.99 863.35H98.98V876.69H89.99ZM458.78 890.03H467.78V903.38H458.78ZM917.53 903.38H926.52V916.73H917.53ZM575.72 916.73H584.71V930.07H575.72ZM359.84 930.07H368.83V943.41H359.84ZM368.83 930.07H377.83V943.41H368.83ZM899.54 970.11H908.53V983.45H899.54ZM656.67 983.45H665.67V996.8H656.67ZM251.9 996.8H260.89V1010.14H251.9ZM692.65 996.8H701.65V1010.14H692.65ZM746.62 996.8H755.62V1010.14H746.62ZM863.56 996.8H872.55V1010.14H863.56ZM566.72 1010.14H575.72V1023.49H566.72ZM710.64 1010.14H719.64V1023.49H710.64ZM503.76 1036.83H512.75V1050.17H503.76ZM269.89 1063.52H278.88V1076.87H269.89ZM449.79 1063.52H458.78V1076.87H449.79ZM116.97 1090.21H125.97V1103.56H116.97ZM287.88 1090.21H296.88V1103.56H287.88ZM593.71 1143.59H602.7V1156.93H593.71ZM746.62 1143.59H755.62V1156.93H746.62ZM485.77 1156.93H494.76V1170.28H485.77ZM512.75 1156.93H521.75V1170.28H512.75ZM404.81 1170.28H413.81V1183.62H404.81ZM422.8 1170.28H431.8V1183.62H422.8ZM503.76 1170.28H512.75V1183.62H503.76ZM602.7 1170.28H611.7V1183.62H602.7ZM629.69 1170.28H638.68V1183.62H629.69ZM404.81 1183.62H413.81V1196.97H404.81ZM530.74 1183.62H539.74V1196.97H530.74ZM539.74 1183.62H548.73V1196.97H539.74ZM593.71 1183.62H602.7V1196.97H593.71ZM602.7 1183.62H611.7V1196.97H602.7Z"/><path fill="#4fb000" d="M809.59 876.69H818.58V890.03H809.59ZM152.95 890.03H161.95V903.38H152.95ZM710.64 943.41H719.64V956.76H710.64ZM539.74 983.45H548.73V996.8H539.74ZM179.94 1010.14H188.94V1023.49H179.94ZM665.67 1036.83H674.66V1050.17H665.67ZM674.66 1036.83H683.66V1050.17H674.66ZM710.64 1050.17H719.64V1063.52H710.64ZM548.73 1063.52H557.73V1076.87H548.73ZM557.73 1063.52H566.72V1076.87H557.73ZM638.68 1063.52H647.68V1076.87H638.68ZM440.79 1076.87H449.79V1090.21H440.79ZM809.59 1076.87H818.58V1090.21H809.59ZM81 1090.21H89.99V1103.56H81ZM89.99 1090.21H98.98V1103.56H89.99ZM98.98 1090.21H107.98V1103.56H98.98ZM548.73 1103.56H557.73V1116.9H548.73ZM557.73 1103.56H566.72V1116.9H557.73ZM620.69 1103.56H629.69V1116.9H620.69ZM629.69 1103.56H638.68V1116.9H629.69ZM647.68 1103.56H656.67V1116.9H647.68ZM809.59 1103.56H818.58V1116.9H809.59ZM269.89 1116.9H278.88V1130.24H269.89ZM143.96 1130.24H152.95V1143.59H143.96ZM620.69 1143.59H629.69V1156.93H620.69ZM656.67 1143.59H665.67V1156.93H656.67ZM665.67 1143.59H674.66V1156.93H665.67ZM314.87 1156.93H323.86V1170.28H314.87ZM359.84 1156.93H368.83V1170.28H359.84ZM368.83 1156.93H377.83V1170.28H368.83ZM602.7 1156.93H611.7V1170.28H602.7ZM611.7 1156.93H620.69V1170.28H611.7ZM188.94 1170.28H197.93V1183.62H188.94ZM197.93 1170.28H206.92V1183.62H197.93ZM269.89 1170.28H278.88V1183.62H269.89ZM287.88 1170.28H296.88V1183.62H287.88ZM296.88 1170.28H305.87V1183.62H296.88ZM305.87 1170.28H314.87V1183.62H305.87ZM611.7 1170.28H620.69V1183.62H611.7ZM620.69 1170.28H629.69V1183.62H620.69ZM431.8 1183.62H440.79V1196.97H431.8ZM575.72 1183.62H584.71V1196.97H575.72ZM674.66 1183.62H683.66V1196.97H674.66ZM260.89 1210.32H269.89V1223.66H260.89Z"/><path fill="#936c00" d="M935.52 903.38H944.51V916.73H935.52ZM503.76 943.41H512.75V956.76H503.76ZM692.65 1103.56H701.65V1116.9H692.65ZM755.62 1130.24H764.61V1143.59H755.62ZM674.66 1143.59H683.66V1156.93H674.66ZM440.79 1183.62H449.79V1196.97H440.79ZM647.68 1183.62H656.67V1196.97H647.68Z"/><path fill="#a35c00" d="M800.59 916.73H809.59V930.07H800.59ZM350.84 970.11H359.84V983.45H350.84ZM386.82 970.11H395.82V983.45H386.82ZM629.69 970.11H638.68V983.45H629.69ZM512.75 1036.83H521.75V1050.17H512.75ZM674.66 1103.56H683.66V1116.9H674.66ZM629.69 1143.59H638.68V1156.93H629.69ZM215.92 1170.28H224.91V1183.62H215.92ZM656.67 1183.62H665.67V1196.97H656.67Z"/><path fill="#f10e00" d="M377.83 930.07H386.82V943.41H377.83ZM656.67 1103.56H665.67V1116.9H656.67ZM458.78 1156.93H467.78V1170.28H458.78Z"/><path fill="#ff0000" d="M926.52 930.07H935.52V943.41H926.52ZM593.71 943.41H602.7V956.76H593.71ZM818.58 1023.49H827.58V1036.83H818.58ZM683.66 1103.56H692.65V1116.9H683.66ZM791.6 1116.9H800.59V1130.24H791.6ZM800.59 1116.9H809.59V1130.24H800.59ZM728.63 1130.24H737.63V1143.59H728.63ZM764.61 1130.24H773.61V1143.59H764.61ZM548.73 1143.59H557.73V1156.93H548.73ZM647.68 1143.59H656.67V1156.93H647.68ZM755.62 1143.59H764.61V1156.93H755.62ZM467.78 1156.93H476.77V1170.28H467.78ZM494.76 1156.93H503.76V1170.28H494.76ZM503.76 1156.93H512.75V1170.28H503.76ZM530.74 1156.93H539.74V1170.28H530.74ZM494.76 1183.62H503.76V1196.97H494.76ZM512.75 1183.62H521.75V1196.97H512.75ZM692.65 1196.97H701.65V1210.32H692.65ZM710.64 1210.32H719.64V1223.66H710.64ZM413.81 1223.66H422.8V1237.01H413.81Z"/><path fill="#c43b00" d="M494.76 956.76H503.76V970.11H494.76ZM773.61 983.45H782.6V996.8H773.61ZM584.71 1143.59H593.71V1156.93H584.71ZM611.7 1183.62H620.69V1196.97H611.7ZM719.64 1196.97H728.63V1210.32H719.64Z"/><path fill="#b44b00" d="M755.62 956.76H764.61V970.11H755.62ZM278.88 1130.24H287.88V1143.59H278.88ZM557.73 1143.59H566.72V1156.93H557.73ZM521.75 1170.28H530.74V1183.62H521.75ZM242.9 1210.32H251.9V1223.66H242.9ZM665.67 1210.32H674.66V1223.66H665.67Z"/><path fill="#d42b00" d="M638.68 1143.59H647.68V1156.93H638.68ZM260.89 1170.28H269.89V1183.62H260.89Z"/><path fill="#e31c00" d="M521.75 1156.93H530.74V1170.28H521.75ZM251.9 1170.28H260.89V1183.62H251.9ZM647.68 1210.32H656.67V1223.66H647.68ZM701.65 1210.32H710.64V1223.66H701.65Z"/><path fill="#08f700" d="M575.72 1196.97H584.71V1210.32H575.72ZM584.71 1196.97H593.71V1210.32H584.71ZM593.71 1196.97H602.7V1210.32H593.71ZM602.7 1196.97H611.7V1210.32H602.7ZM611.7 1196.97H620.69V1210.32H611.7ZM620.69 1196.97H629.69V1210.32H620.69ZM638.68 1196.97H647.68V1210.32H638.68ZM647.68 1196.97H656.67V1210.32H647.68Z"/><path fill="#0ff000" d="M584.71 1210.32H593.71V1223.66H584.71ZM593.71 1210.32H602.7V1223.66H593.71ZM656.67 1210.32H665.67V1223.66H656.67Z"/></g>
<path fill="#000" d="M1055.55 853.50h2.50v2.80h-2.50zM1059.40 853.50h2.50v2.80h-2.50zM1063.25 853.50h2.50v2.80h-2.50zM1046.56 866.85h2.50v2.80h-2.50zM1050.41 866.85h2.50v2.80h-2.50zM1054.26 866.85h2.50v2.80h-2.50zM1037.56 880.19h2.50v2.80h-2.50zM1041.41 880.19h2.50v2.80h-2.50zM1045.26 880.19h2.50v2.80h-2.50zM1028.57 893.53h2.50v2.80h-2.50zM1032.42 893.53h2.50v2.80h-2.50zM1036.27 893.53h2.50v2.80h-2.50zM1028.57 906.88h2.50v2.80h-2.50zM1032.42 906.88h2.50v2.80h-2.50zM1036.27 906.88h2.50v2.80h-2.50zM1010.58 920.23h2.50v2.80h-2.50zM1014.43 920.23h2.50v2.80h-2.50zM1018.28 920.23h2.50v2.80h-2.50zM1010.58 933.57h2.50v2.80h-2.50zM1014.43 933.57h2.50v2.80h-2.50zM1018.28 933.57h2.50v2.80h-2.50zM1010.58 946.91h2.50v2.80h-2.50zM1014.43 946.91h2.50v2.80h-2.50zM1018.28 946.91h2.50v2.80h-2.50zM1001.58 960.26h2.50v2.80h-2.50zM1005.43 960.26h2.50v2.80h-2.50zM1009.28 960.26h2.50v2.80h-2.50zM1001.58 973.61h2.50v2.80h-2.50zM1005.43 973.61h2.50v2.80h-2.50zM1009.28 973.61h2.50v2.80h-2.50zM1001.58 986.95h2.50v2.80h-2.50zM1005.43 986.95h2.50v2.80h-2.50zM1009.28 986.95h2.50v2.80h-2.50zM983.59 1000.30h2.50v2.80h-2.50zM987.44 1000.30h2.50v2.80h-2.50zM991.29 1000.30h2.50v2.80h-2.50zM974.60 1013.64h2.50v2.80h-2.50zM978.45 1013.64h2.50v2.80h-2.50zM982.30 1013.64h2.50v2.80h-2.50zM974.60 1026.99h2.50v2.80h-2.50zM978.45 1026.99h2.50v2.80h-2.50zM982.30 1026.99h2.50v2.80h-2.50zM974.60 1040.33h2.50v2.80h-2.50zM978.45 1040.33h2.50v2.80h-2.50zM982.30 1040.33h2.50v2.80h-2.50zM974.60 1053.67h2.50v2.80h-2.50zM978.45 1053.67h2.50v2.80h-2.50zM982.30 1053.67h2.50v2.80h-2.50zM956.61 1067.02h2.50v2.80h-2.50zM960.46 1067.02h2.50v2.80h-2.50zM964.31 1067.02h2.50v2.80h-2.50zM938.62 1080.37h2.50v2.80h-2.50zM942.47 1080.37h2.50v2.80h-2.50zM946.32 1080.37h2.50v2.80h-2.50zM920.63 1093.71h2.50v2.80h-2.50zM924.48 1093.71h2.50v2.80h-2.50zM928.33 1093.71h2.50v2.80h-2.50zM866.66 1107.06h2.50v2.80h-2.50zM870.51 1107.06h2.50v2.80h-2.50zM874.36 1107.06h2.50v2.80h-2.50zM758.72 1160.43h2.50v2.80h-2.50zM762.57 1160.43h2.50v2.80h-2.50zM766.42 1160.43h2.50v2.80h-2.50zM740.73 1173.78h2.50v2.80h-2.50zM744.58 1173.78h2.50v2.80h-2.50zM748.43 1173.78h2.50v2.80h-2.50zM740.73 1187.12h2.50v2.80h-2.50zM744.58 1187.12h2.50v2.80h-2.50zM748.43 1187.12h2.50v2.80h-2.50z"/><g font-size="14" font-weight="bold" fill="#000" stroke="#000" stroke-width="0.45"><text transform="translate(811.59 1128.80) scale(1.04 1.34)">x</text><text transform="translate(775.61 1142.14) scale(1.04 1.34)">x</text><text transform="translate(766.61 1155.49) scale(1.04 1.34)">x</text><text transform="translate(730.63 1208.87) scale(1.04 1.34)">x</text><text transform="translate(721.64 1222.22) scale(1.04 1.34)">x</text><text transform="translate(424.80 1235.56) scale(1.04 1.34)">x</text></g>
<g clip-path="url(#ci)">
<g shape-rendering="crispEdges"><path fill="#40bf00" d="M922.99 1105.64H931.98V1118.99H922.99ZM940.98 1105.64H949.97V1118.99H940.98ZM1057.91 1105.64H1066.91V1118.99H1057.91ZM1030.93 1118.99H1039.92V1132.33H1030.93ZM922.99 1132.33H931.98V1145.67H922.99ZM1021.93 1132.33H1030.93V1145.67H1021.93ZM1012.94 1145.67H1021.93V1159.02H1012.94ZM958.97 1159.02H967.96V1172.37H958.97ZM1057.91 1159.02H1066.91V1172.37H1057.91ZM922.99 1172.37H931.98V1185.71H922.99ZM994.95 1172.37H1003.94V1185.71H994.95ZM1012.94 1172.37H1021.93V1185.71H1012.94ZM1021.93 1172.37H1030.93V1185.71H1021.93ZM1030.93 1172.37H1039.92V1185.71H1030.93ZM1039.92 1172.37H1048.92V1185.71H1039.92ZM1057.91 1185.71H1066.91V1199.06H1057.91ZM931.98 1199.06H940.98V1212.4H931.98ZM994.95 1199.06H1003.94V1212.4H994.95ZM1003.94 1199.06H1012.94V1212.4H1003.94ZM1021.93 1199.06H1030.93V1212.4H1021.93ZM1030.93 1199.06H1039.92V1212.4H1030.93ZM1048.92 1199.06H1057.91V1212.4H1048.92ZM1057.91 1199.06H1066.91V1212.4H1057.91ZM985.95 1212.4H994.95V1225.74H985.95ZM1030.93 1225.74H1039.92V1239.09H1030.93ZM1039.92 1225.74H1048.92V1239.09H1039.92ZM976.96 1239.09H985.95V1252.43H976.96ZM985.95 1239.09H994.95V1252.43H985.95ZM994.95 1239.09H1003.94V1252.43H994.95ZM1003.94 1239.09H1012.94V1252.43H1003.94ZM1012.94 1239.09H1021.93V1252.43H1012.94ZM1021.93 1239.09H1030.93V1252.43H1021.93ZM1030.93 1239.09H1039.92V1252.43H1030.93Z"/><path fill="#00ff00" d="M931.98 1105.64H940.98V1118.99H931.98ZM1021.93 1105.64H1030.93V1118.99H1021.93ZM1048.92 1105.64H1057.91V1118.99H1048.92ZM949.97 1118.99H958.97V1132.33H949.97ZM976.96 1118.99H985.95V1132.33H976.96ZM985.95 1118.99H994.95V1132.33H985.95ZM1003.94 1118.99H1012.94V1132.33H1003.94ZM1021.93 1118.99H1030.93V1132.33H1021.93ZM1039.92 1118.99H1048.92V1132.33H1039.92ZM1048.92 1118.99H1057.91V1132.33H1048.92ZM931.98 1132.33H940.98V1145.67H931.98ZM994.95 1132.33H1003.94V1145.67H994.95ZM1048.92 1132.33H1057.91V1145.67H1048.92ZM922.99 1145.67H931.98V1159.02H922.99ZM949.97 1145.67H958.97V1159.02H949.97ZM985.95 1145.67H994.95V1159.02H985.95ZM1048.92 1145.67H1057.91V1159.02H1048.92ZM949.97 1159.02H958.97V1172.37H949.97ZM976.96 1159.02H985.95V1172.37H976.96ZM985.95 1159.02H994.95V1172.37H985.95ZM1021.93 1159.02H1030.93V1172.37H1021.93ZM958.97 1172.37H967.96V1185.71H958.97ZM1048.92 1172.37H1057.91V1185.71H1048.92ZM940.98 1185.71H949.97V1199.06H940.98ZM922.99 1212.4H931.98V1225.74H922.99ZM958.97 1212.4H967.96V1225.74H958.97ZM1030.93 1212.4H1039.92V1225.74H1030.93ZM1048.92 1212.4H1057.91V1225.74H1048.92ZM922.99 1225.74H931.98V1239.09H922.99ZM931.98 1225.74H940.98V1239.09H931.98Z"/><path fill="#24db00" d="M949.97 1105.64H958.97V1118.99H949.97ZM985.95 1105.64H994.95V1118.99H985.95ZM985.95 1132.33H994.95V1145.67H985.95ZM940.98 1145.67H949.97V1159.02H940.98ZM1021.93 1145.67H1030.93V1159.02H1021.93ZM1030.93 1145.67H1039.92V1159.02H1030.93ZM1039.92 1145.67H1048.92V1159.02H1039.92ZM994.95 1159.02H1003.94V1172.37H994.95ZM985.95 1185.71H994.95V1199.06H985.95ZM931.98 1212.4H940.98V1225.74H931.98ZM994.95 1212.4H1003.94V1225.74H994.95ZM1039.92 1212.4H1048.92V1225.74H1039.92ZM1057.91 1212.4H1066.91V1225.74H1057.91ZM949.97 1225.74H958.97V1239.09H949.97Z"/><path fill="#2ed100" d="M958.97 1105.64H967.96V1118.99H958.97ZM940.98 1159.02H949.97V1172.37H940.98ZM1030.93 1159.02H1039.92V1172.37H1030.93ZM940.98 1172.37H949.97V1185.71H940.98ZM949.97 1185.71H958.97V1199.06H949.97ZM958.97 1185.71H967.96V1199.06H958.97ZM967.96 1185.71H976.96V1199.06H967.96ZM940.98 1212.4H949.97V1225.74H940.98ZM949.97 1212.4H958.97V1225.74H949.97ZM994.95 1225.74H1003.94V1239.09H994.95ZM1003.94 1225.74H1012.94V1239.09H1003.94ZM1012.94 1225.74H1021.93V1239.09H1012.94Z"/><path fill="#1ae600" d="M967.96 1105.64H976.96V1118.99H967.96ZM976.96 1105.64H985.95V1118.99H976.96ZM1012.94 1105.64H1021.93V1118.99H1012.94ZM958.97 1118.99H967.96V1132.33H958.97ZM1057.91 1118.99H1066.91V1132.33H1057.91ZM940.98 1132.33H949.97V1145.67H940.98ZM1003.94 1132.33H1012.94V1145.67H1003.94ZM1030.93 1132.33H1039.92V1145.67H1030.93ZM958.97 1145.67H967.96V1159.02H958.97ZM976.96 1145.67H985.95V1159.02H976.96ZM1057.91 1145.67H1066.91V1159.02H1057.91ZM1039.92 1159.02H1048.92V1172.37H1039.92ZM1048.92 1159.02H1057.91V1172.37H1048.92ZM931.98 1172.37H940.98V1185.71H931.98ZM949.97 1172.37H958.97V1185.71H949.97ZM967.96 1172.37H976.96V1185.71H967.96ZM976.96 1172.37H985.95V1185.71H976.96ZM985.95 1172.37H994.95V1185.71H985.95ZM922.99 1185.71H931.98V1199.06H922.99ZM940.98 1225.74H949.97V1239.09H940.98ZM958.97 1225.74H967.96V1239.09H958.97Z"/><path fill="#619e00" d="M994.95 1105.64H1003.94V1118.99H994.95ZM1003.94 1172.37H1012.94V1185.71H1003.94ZM958.97 1199.06H967.96V1212.4H958.97ZM1012.94 1199.06H1021.93V1212.4H1012.94ZM985.95 1225.74H994.95V1239.09H985.95Z"/><path fill="#827d00" d="M1003.94 1105.64H1012.94V1118.99H1003.94ZM1039.92 1239.09H1048.92V1252.43H1039.92Z"/><path fill="#0df200" d="M1030.93 1105.64H1039.92V1118.99H1030.93ZM1039.92 1105.64H1048.92V1118.99H1039.92ZM922.99 1118.99H931.98V1132.33H922.99ZM931.98 1118.99H940.98V1132.33H931.98ZM940.98 1118.99H949.97V1132.33H940.98ZM967.96 1118.99H976.96V1132.33H967.96ZM994.95 1118.99H1003.94V1132.33H994.95ZM1012.94 1118.99H1021.93V1132.33H1012.94ZM949.97 1132.33H958.97V1145.67H949.97ZM976.96 1132.33H985.95V1145.67H976.96ZM1012.94 1132.33H1021.93V1145.67H1012.94ZM1039.92 1132.33H1048.92V1145.67H1039.92ZM1057.91 1132.33H1066.91V1145.67H1057.91ZM931.98 1145.67H940.98V1159.02H931.98ZM967.96 1145.67H976.96V1159.02H967.96ZM994.95 1145.67H1003.94V1159.02H994.95ZM922.99 1159.02H931.98V1172.37H922.99ZM967.96 1159.02H976.96V1172.37H967.96ZM1003.94 1159.02H1012.94V1172.37H1003.94ZM1012.94 1159.02H1021.93V1172.37H1012.94ZM1057.91 1172.37H1066.91V1185.71H1057.91ZM931.98 1185.71H940.98V1199.06H931.98ZM976.96 1185.71H985.95V1199.06H976.96ZM994.95 1185.71H1003.94V1199.06H994.95ZM1003.94 1185.71H1012.94V1199.06H1003.94ZM1012.94 1185.71H1021.93V1199.06H1012.94ZM1021.93 1185.71H1030.93V1199.06H1021.93ZM1030.93 1185.71H1039.92V1199.06H1030.93ZM1039.92 1185.71H1048.92V1199.06H1039.92ZM1048.92 1185.71H1057.91V1199.06H1048.92ZM967.96 1212.4H976.96V1225.74H967.96ZM976.96 1212.4H985.95V1225.74H976.96ZM1003.94 1212.4H1012.94V1225.74H1003.94ZM1012.94 1212.4H1021.93V1225.74H1012.94ZM1021.93 1212.4H1030.93V1225.74H1021.93ZM967.96 1225.74H976.96V1239.09H967.96ZM976.96 1225.74H985.95V1239.09H976.96Z"/><path fill="#4fb000" d="M958.97 1132.33H967.96V1145.67H958.97ZM967.96 1132.33H976.96V1145.67H967.96ZM1003.94 1145.67H1012.94V1159.02H1003.94ZM931.98 1159.02H940.98V1172.37H931.98ZM922.99 1199.06H931.98V1212.4H922.99ZM940.98 1199.06H949.97V1212.4H940.98ZM949.97 1239.09H958.97V1252.43H949.97ZM958.97 1239.09H967.96V1252.43H958.97Z"/><path fill="#f10e00" d="M949.97 1199.06H958.97V1212.4H949.97Z"/><path fill="#a35c00" d="M967.96 1199.06H976.96V1212.4H967.96ZM922.99 1239.09H931.98V1252.43H922.99Z"/><path fill="#ff0000" d="M976.96 1199.06H985.95V1212.4H976.96ZM1021.93 1225.74H1030.93V1239.09H1021.93ZM1057.91 1225.74H1066.91V1239.09H1057.91ZM940.98 1239.09H949.97V1252.43H940.98ZM1048.92 1239.09H1057.91V1252.43H1048.92Z"/><path fill="#936c00" d="M985.95 1199.06H994.95V1212.4H985.95ZM1048.92 1225.74H1057.91V1239.09H1048.92ZM967.96 1239.09H976.96V1252.43H967.96Z"/><path fill="#708f00" d="M1039.92 1199.06H1048.92V1212.4H1039.92Z"/><path fill="#d42b00" d="M931.98 1239.09H940.98V1252.43H931.98Z"/></g>
</g>
<g stroke="#000" fill="none" stroke-width="1.5">
<rect x="64" y="957.4" width="992.7" height="12.2" stroke-width="1.3"/>
<path stroke-width="1.9" d="M1032.9 969.6V1003"/>
<rect x="636.3" y="1023" width="134.5" height="121.2"/>
<rect x="929.6" y="1118.4" width="135" height="121.4"/>
<path stroke-width="1.8" d="M770.8 1023L1064.6 1118.4M636.3 1144.2L929.6 1239.8"/>
<rect x="957" y="1148.3" width="9.2" height="12.2" stroke-width="1.2"/>
<path d="M916.3 1154.3H957"/>
</g>
<g fill="#000" text-anchor="middle">
<text transform="translate(1033 1020)" font-size="24.6" stroke="#000" stroke-width="0.3">one</text>
<text transform="translate(1033 1040.4)" font-size="24.6" stroke="#000" stroke-width="0.3">lineage</text>
<text transform="translate(868.5 1162.5)" font-size="24.6" stroke="#000" stroke-width="0.3">one cell</text>
<text transform="translate(869.8 1182.5)" font-size="24.6" stroke="#000" stroke-width="0.3">cycle</text>
</g>
<text transform="translate(454 823.9) scale(1 1.03)" font-size="34.4" fill="#000" stroke="#000" stroke-width="0.3"><tspan class="i">P<tspan font-size="19.6" dy="10.6">TetO2</tspan><tspan dy="-10.6">-TLC1</tspan></tspan><tspan dx="-1.6"> (without dox)</tspan></text>
<g stroke="#231f20" fill="none" stroke-width="1.9">
<path d="M54.3 1294.3H1074.5M70 1279V1294.3M160.05 1279V1294.3M250.1 1279V1294.3M340.15 1279V1294.3M430.2 1279V1294.3M520.25 1279V1294.3M610.3 1279V1294.3M700.35 1279V1294.3M790.4 1279V1294.3M880.45 1279V1294.3M970.5 1279V1294.3M1060.55 1279V1294.3"/>
<path d="M1470 1294.3H1954.8M1486 1279V1294.3M1576 1279V1294.3M1666 1279V1294.3M1756 1279V1294.3M1846 1279V1294.3M1936 1279V1294.3"/>
</g>
<g fill="#231f20" text-anchor="middle">
<text transform="translate(70.3 1334.3) scale(1 1.04)" font-size="34.5" stroke="#231f20" stroke-width="0.3">0</text>
<text transform="translate(160.35 1334.3) scale(1 1.04)" font-size="34.5" stroke="#231f20" stroke-width="0.3">10</text>
<text transform="translate(250.4 1334.3) scale(1 1.04)" font-size="34.5" stroke="#231f20" stroke-width="0.3">20</text>
<text transform="translate(340.45 1334.3) scale(1 1.04)" font-size="34.5" stroke="#231f20" stroke-width="0.3">30</text>
<text transform="translate(430.5 1334.3) scale(1 1.04)" font-size="34.5" stroke="#231f20" stroke-width="0.3">40</text>
<text transform="translate(520.55 1334.3) scale(1 1.04)" font-size="34.5" stroke="#231f20" stroke-width="0.3">50</text>
<text transform="translate(610.6 1334.3) scale(1 1.04)" font-size="34.5" stroke="#231f20" stroke-width="0.3">60</text>
<text transform="translate(700.65 1334.3) scale(1 1.04)" font-size="34.5" stroke="#231f20" stroke-width="0.3">70</text>
<text transform="translate(790.7 1334.3) scale(1 1.04)" font-size="34.5" stroke="#231f20" stroke-width="0.3">80</text>
<text transform="translate(880.75 1334.3) scale(1 1.04)" font-size="34.5" stroke="#231f20" stroke-width="0.3">90</text>
<text transform="translate(970.8 1334.3) scale(1 1.04)" font-size="34.5" stroke="#231f20" stroke-width="0.3">100</text>
<text transform="translate(1060.85 1334.3) scale(1 1.04)" font-size="34.5" stroke="#231f20" stroke-width="0.3">120</text>
<text transform="translate(1485.3 1334.3) scale(1 1.04)" font-size="34.5" stroke="#231f20" stroke-width="0.3">0</text>
<text transform="translate(1575.3 1334.3) scale(1 1.04)" font-size="34.5" stroke="#231f20" stroke-width="0.3">10</text>
<text transform="translate(1665.3 1334.3) scale(1 1.04)" font-size="34.5" stroke="#231f20" stroke-width="0.3">20</text>
<text transform="translate(1755.3 1334.3) scale(1 1.04)" font-size="34.5" stroke="#231f20" stroke-width="0.3">30</text>
<text transform="translate(1845.3 1334.3) scale(1 1.04)" font-size="34.5" stroke="#231f20" stroke-width="0.3">40</text>
<text transform="translate(1935.3 1334.3) scale(1 1.04)" font-size="34.5" stroke="#231f20" stroke-width="0.3">50</text>
<text transform="translate(568.5 1381) scale(1 1.03)" font-size="34.2" stroke="#231f20" stroke-width="0.3">Generations</text>
<text transform="translate(1724.5 1381) scale(1 1.03)" font-size="34.2" stroke="#231f20" stroke-width="0.3">Generations</text>
</g>
<rect x="1133.3" y="849.6" width="23.3" height="390.8" fill="url(#cb)" stroke="#4a4a30" stroke-opacity=".6" stroke-width="0.7"/>
<path stroke="#3a2a10" stroke-opacity=".75" stroke-width="0.9" fill="none" d="M1151.6 879.58H1156.6M1151.6 909.66H1156.6M1151.6 939.74H1156.6M1151.6 969.82H1156.6M1151.6 999.9H1156.6M1151.6 1029.98H1156.6M1151.6 1060.06H1156.6M1151.6 1090.14H1156.6M1151.6 1120.22H1156.6M1151.6 1150.3H1156.6M1151.6 1180.38H1156.6M1151.6 1210.46H1156.6"/>
<g fill="#231f20">
<text transform="translate(1228.6 860.6) scale(1 1.045)" font-size="34.3" text-anchor="end" stroke="#231f20" stroke-width="0.3">240</text>
<text transform="translate(1228.6 904.05) scale(1 1.045)" font-size="34.3" text-anchor="end" stroke="#231f20" stroke-width="0.3">220</text>
<text transform="translate(1228.6 947.5) scale(1 1.045)" font-size="34.3" text-anchor="end" stroke="#231f20" stroke-width="0.3">200</text>
<text transform="translate(1228.6 990.95) scale(1 1.045)" font-size="34.3" text-anchor="end" stroke="#231f20" stroke-width="0.3">180</text>
<text transform="translate(1228.6 1034.4) scale(1 1.045)" font-size="34.3" text-anchor="end" stroke="#231f20" stroke-width="0.3">160</text>
<text transform="translate(1228.6 1077.85) scale(1 1.045)" font-size="34.3" text-anchor="end" stroke="#231f20" stroke-width="0.3">140</text>
<text transform="translate(1228.6 1121.3) scale(1 1.045)" font-size="34.3" text-anchor="end" stroke="#231f20" stroke-width="0.3">120</text>
<text transform="translate(1228.6 1164.75) scale(1 1.045)" font-size="34.3" text-anchor="end" stroke="#231f20" stroke-width="0.3">100</text>
<text transform="translate(1228.6 1208.2) scale(1 1.045)" font-size="34.3" text-anchor="end" stroke="#231f20" stroke-width="0.3">80</text>
<text transform="translate(1228.6 1251.65) scale(1 1.045)" font-size="34.3" text-anchor="end" stroke="#231f20" stroke-width="0.3">60</text>
<text transform="translate(1273.2 1057.6) rotate(-90) scale(1 0.99)" font-size="34.2" text-anchor="middle" stroke="#231f20" stroke-width="0.3">cell cycle duration (min)</text>
</g>
<g shape-rendering="crispEdges"><path fill="#24db00" d="M1484.07 848.85H1493.06V859.43H1484.07ZM1493.06 848.85H1502.05V859.43H1493.06ZM1654.88 848.85H1663.87V859.43H1654.88ZM1663.87 848.85H1672.86V859.43H1663.87ZM1699.83 848.85H1708.82V859.43H1699.83ZM1717.81 848.85H1726.8V859.43H1717.81ZM1726.8 848.85H1735.79V859.43H1726.8ZM1735.79 848.85H1744.78V859.43H1735.79ZM1744.78 848.85H1753.77V859.43H1744.78ZM1753.77 848.85H1762.76V859.43H1753.77ZM1520.03 859.43H1529.02V870.01H1520.03ZM1538.01 859.43H1547V870.01H1538.01ZM1547 859.43H1555.99V870.01H1547ZM1555.99 859.43H1564.98V870.01H1555.99ZM1591.95 859.43H1600.94V870.01H1591.95ZM1609.93 859.43H1618.92V870.01H1609.93ZM1627.91 859.43H1636.9V870.01H1627.91ZM1699.83 859.43H1708.82V870.01H1699.83ZM1717.81 859.43H1726.8V870.01H1717.81ZM1726.8 859.43H1735.79V870.01H1726.8ZM1735.79 859.43H1744.78V870.01H1735.79ZM1744.78 859.43H1753.77V870.01H1744.78ZM1762.76 859.43H1771.75V870.01H1762.76ZM1825.69 859.43H1834.68V870.01H1825.69ZM1493.06 870.01H1502.05V880.59H1493.06ZM1717.81 870.01H1726.8V880.59H1717.81ZM1726.8 870.01H1735.79V880.59H1726.8ZM1493.06 891.17H1502.05V901.75H1493.06ZM1573.97 891.17H1582.96V901.75H1573.97ZM1618.92 891.17H1627.91V901.75H1618.92ZM1645.89 891.17H1654.88V901.75H1645.89ZM1654.88 891.17H1663.87V901.75H1654.88ZM1520.03 901.75H1529.02V912.33H1520.03ZM1538.01 901.75H1547V912.33H1538.01ZM1547 901.75H1555.99V912.33H1547ZM1618.92 901.75H1627.91V912.33H1618.92ZM1834.68 901.75H1843.67V912.33H1834.68ZM1555.99 912.33H1564.98V922.91H1555.99ZM1618.92 912.33H1627.91V922.91H1618.92ZM1735.79 912.33H1744.78V922.91H1735.79ZM1744.78 912.33H1753.77V922.91H1744.78ZM1762.76 912.33H1771.75V922.91H1762.76ZM1502.05 922.91H1511.04V933.49H1502.05ZM1529.02 922.91H1538.01V933.49H1529.02ZM1555.99 922.91H1564.98V933.49H1555.99ZM1600.94 922.91H1609.93V933.49H1600.94ZM1627.91 922.91H1636.9V933.49H1627.91ZM1636.9 922.91H1645.89V933.49H1636.9ZM1645.89 922.91H1654.88V933.49H1645.89ZM1654.88 922.91H1663.87V933.49H1654.88ZM1663.87 922.91H1672.86V933.49H1663.87ZM1672.86 922.91H1681.85V933.49H1672.86ZM1681.85 922.91H1690.84V933.49H1681.85ZM1753.77 922.91H1762.76V933.49H1753.77ZM1789.73 922.91H1798.72V933.49H1789.73ZM1555.99 933.49H1564.98V944.07H1555.99ZM1609.93 933.49H1618.92V944.07H1609.93ZM1663.87 933.49H1672.86V944.07H1663.87ZM1681.85 933.49H1690.84V944.07H1681.85ZM1484.07 944.07H1493.06V954.65H1484.07ZM1538.01 944.07H1547V954.65H1538.01ZM1645.89 944.07H1654.88V954.65H1645.89ZM1726.8 944.07H1735.79V954.65H1726.8ZM1547 954.65H1555.99V965.23H1547ZM1636.9 954.65H1645.89V965.23H1636.9ZM1654.88 954.65H1663.87V965.23H1654.88ZM1672.86 954.65H1681.85V965.23H1672.86ZM1681.85 954.65H1690.84V965.23H1681.85ZM1699.83 954.65H1708.82V965.23H1699.83ZM1735.79 954.65H1744.78V965.23H1735.79ZM1609.93 965.23H1618.92V975.81H1609.93ZM1681.85 965.23H1690.84V975.81H1681.85ZM1690.84 965.23H1699.83V975.81H1690.84ZM1717.81 965.23H1726.8V975.81H1717.81ZM1735.79 965.23H1744.78V975.81H1735.79ZM1771.75 965.23H1780.74V975.81H1771.75ZM1780.74 965.23H1789.73V975.81H1780.74ZM1582.96 975.81H1591.95V986.39H1582.96ZM1618.92 975.81H1627.91V986.39H1618.92ZM1645.89 975.81H1654.88V986.39H1645.89ZM1681.85 975.81H1690.84V986.39H1681.85ZM1735.79 975.81H1744.78V986.39H1735.79ZM1744.78 975.81H1753.77V986.39H1744.78ZM1753.77 975.81H1762.76V986.39H1753.77ZM1762.76 975.81H1771.75V986.39H1762.76ZM1511.04 986.39H1520.03V996.97H1511.04ZM1609.93 986.39H1618.92V996.97H1609.93ZM1663.87 1007.55H1672.86V1018.13H1663.87ZM1511.04 1018.13H1520.03V1028.71H1511.04ZM1564.98 1018.13H1573.97V1028.71H1564.98ZM1618.92 1018.13H1627.91V1028.71H1618.92ZM1502.05 1028.71H1511.04V1039.29H1502.05ZM1618.92 1039.29H1627.91V1049.87H1618.92ZM1511.04 1049.87H1520.03V1060.45H1511.04ZM1591.95 1060.45H1600.94V1071.03H1591.95ZM1672.86 1071.03H1681.85V1081.61H1672.86ZM1555.99 1092.19H1564.98V1102.77H1555.99ZM1582.96 1113.35H1591.95V1123.93H1582.96ZM1484.07 1134.51H1493.06V1145.09H1484.07ZM1591.95 1134.51H1600.94V1145.09H1591.95ZM1618.92 1145.09H1627.91V1155.67H1618.92ZM1520.03 1155.67H1529.02V1166.25H1520.03ZM1529.02 1176.83H1538.01V1187.41H1529.02ZM1555.99 1187.41H1564.98V1197.99H1555.99ZM1529.02 1219.15H1538.01V1229.73H1529.02ZM1582.96 1219.15H1591.95V1229.73H1582.96ZM1591.95 1219.15H1600.94V1229.73H1591.95Z"/><path fill="#1ae600" d="M1502.05 848.85H1511.04V859.43H1502.05ZM1690.84 848.85H1699.83V859.43H1690.84ZM1780.74 848.85H1789.73V859.43H1780.74ZM1807.71 848.85H1816.7V859.43H1807.71ZM1484.07 859.43H1493.06V870.01H1484.07ZM1529.02 859.43H1538.01V870.01H1529.02ZM1564.98 859.43H1573.97V870.01H1564.98ZM1573.97 859.43H1582.96V870.01H1573.97ZM1582.96 859.43H1591.95V870.01H1582.96ZM1681.85 859.43H1690.84V870.01H1681.85ZM1690.84 859.43H1699.83V870.01H1690.84ZM1708.82 859.43H1717.81V870.01H1708.82ZM1529.02 870.01H1538.01V880.59H1529.02ZM1538.01 870.01H1547V880.59H1538.01ZM1547 870.01H1555.99V880.59H1547ZM1573.97 870.01H1582.96V880.59H1573.97ZM1582.96 870.01H1591.95V880.59H1582.96ZM1591.95 870.01H1600.94V880.59H1591.95ZM1627.91 870.01H1636.9V880.59H1627.91ZM1789.73 870.01H1798.72V880.59H1789.73ZM1816.7 870.01H1825.69V880.59H1816.7ZM1834.68 870.01H1843.67V880.59H1834.68ZM1852.66 870.01H1861.65V880.59H1852.66ZM1520.03 880.59H1529.02V891.17H1520.03ZM1564.98 880.59H1573.97V891.17H1564.98ZM1582.96 880.59H1591.95V891.17H1582.96ZM1591.95 880.59H1600.94V891.17H1591.95ZM1780.74 880.59H1789.73V891.17H1780.74ZM1843.67 880.59H1852.66V891.17H1843.67ZM1502.05 891.17H1511.04V901.75H1502.05ZM1520.03 891.17H1529.02V901.75H1520.03ZM1591.95 891.17H1600.94V901.75H1591.95ZM1627.91 891.17H1636.9V901.75H1627.91ZM1699.83 891.17H1708.82V901.75H1699.83ZM1717.81 891.17H1726.8V901.75H1717.81ZM1744.78 891.17H1753.77V901.75H1744.78ZM1798.72 891.17H1807.71V901.75H1798.72ZM1591.95 901.75H1600.94V912.33H1591.95ZM1627.91 901.75H1636.9V912.33H1627.91ZM1735.79 901.75H1744.78V912.33H1735.79ZM1762.76 901.75H1771.75V912.33H1762.76ZM1502.05 912.33H1511.04V922.91H1502.05ZM1582.96 912.33H1591.95V922.91H1582.96ZM1717.81 912.33H1726.8V922.91H1717.81ZM1520.03 922.91H1529.02V933.49H1520.03ZM1538.01 922.91H1547V933.49H1538.01ZM1582.96 922.91H1591.95V933.49H1582.96ZM1609.93 922.91H1618.92V933.49H1609.93ZM1618.92 922.91H1627.91V933.49H1618.92ZM1690.84 922.91H1699.83V933.49H1690.84ZM1708.82 922.91H1717.81V933.49H1708.82ZM1717.81 922.91H1726.8V933.49H1717.81ZM1735.79 922.91H1744.78V933.49H1735.79ZM1771.75 922.91H1780.74V933.49H1771.75ZM1573.97 933.49H1582.96V944.07H1573.97ZM1600.94 933.49H1609.93V944.07H1600.94ZM1618.92 933.49H1627.91V944.07H1618.92ZM1636.9 933.49H1645.89V944.07H1636.9ZM1582.96 944.07H1591.95V954.65H1582.96ZM1538.01 954.65H1547V965.23H1538.01ZM1564.98 954.65H1573.97V965.23H1564.98ZM1645.89 954.65H1654.88V965.23H1645.89ZM1726.8 954.65H1735.79V965.23H1726.8ZM1753.77 954.65H1762.76V965.23H1753.77ZM1547 965.23H1555.99V975.81H1547ZM1654.88 965.23H1663.87V975.81H1654.88ZM1744.78 965.23H1753.77V975.81H1744.78ZM1753.77 965.23H1762.76V975.81H1753.77ZM1484.07 975.81H1493.06V986.39H1484.07ZM1573.97 975.81H1582.96V986.39H1573.97ZM1600.94 975.81H1609.93V986.39H1600.94ZM1663.87 975.81H1672.86V986.39H1663.87ZM1672.86 975.81H1681.85V986.39H1672.86ZM1690.84 975.81H1699.83V986.39H1690.84ZM1717.81 975.81H1726.8V986.39H1717.81ZM1726.8 975.81H1735.79V986.39H1726.8ZM1520.03 986.39H1529.02V996.97H1520.03ZM1555.99 986.39H1564.98V996.97H1555.99ZM1582.96 986.39H1591.95V996.97H1582.96ZM1627.91 986.39H1636.9V996.97H1627.91ZM1636.9 986.39H1645.89V996.97H1636.9ZM1690.84 986.39H1699.83V996.97H1690.84ZM1484.07 996.97H1493.06V1007.55H1484.07ZM1511.04 996.97H1520.03V1007.55H1511.04ZM1600.94 996.97H1609.93V1007.55H1600.94ZM1627.91 996.97H1636.9V1007.55H1627.91ZM1690.84 996.97H1699.83V1007.55H1690.84ZM1538.01 1007.55H1547V1018.13H1538.01ZM1600.94 1007.55H1609.93V1018.13H1600.94ZM1681.85 1007.55H1690.84V1018.13H1681.85ZM1538.01 1018.13H1547V1028.71H1538.01ZM1609.93 1018.13H1618.92V1028.71H1609.93ZM1520.03 1028.71H1529.02V1039.29H1520.03ZM1538.01 1028.71H1547V1039.29H1538.01ZM1555.99 1028.71H1564.98V1039.29H1555.99ZM1600.94 1028.71H1609.93V1039.29H1600.94ZM1547 1039.29H1555.99V1049.87H1547ZM1609.93 1039.29H1618.92V1049.87H1609.93ZM1627.91 1039.29H1636.9V1049.87H1627.91ZM1645.89 1039.29H1654.88V1049.87H1645.89ZM1654.88 1039.29H1663.87V1049.87H1654.88ZM1690.84 1039.29H1699.83V1049.87H1690.84ZM1493.06 1049.87H1502.05V1060.45H1493.06ZM1502.05 1049.87H1511.04V1060.45H1502.05ZM1538.01 1049.87H1547V1060.45H1538.01ZM1547 1049.87H1555.99V1060.45H1547ZM1493.06 1060.45H1502.05V1071.03H1493.06ZM1564.98 1060.45H1573.97V1071.03H1564.98ZM1511.04 1071.03H1520.03V1081.61H1511.04ZM1538.01 1071.03H1547V1081.61H1538.01ZM1547 1071.03H1555.99V1081.61H1547ZM1555.99 1071.03H1564.98V1081.61H1555.99ZM1645.89 1071.03H1654.88V1081.61H1645.89ZM1654.88 1071.03H1663.87V1081.61H1654.88ZM1690.84 1071.03H1699.83V1081.61H1690.84ZM1529.02 1081.61H1538.01V1092.19H1529.02ZM1600.94 1081.61H1609.93V1092.19H1600.94ZM1618.92 1081.61H1627.91V1092.19H1618.92ZM1627.91 1081.61H1636.9V1092.19H1627.91ZM1636.9 1081.61H1645.89V1092.19H1636.9ZM1681.85 1081.61H1690.84V1092.19H1681.85ZM1484.07 1092.19H1493.06V1102.77H1484.07ZM1493.06 1092.19H1502.05V1102.77H1493.06ZM1520.03 1092.19H1529.02V1102.77H1520.03ZM1538.01 1092.19H1547V1102.77H1538.01ZM1564.98 1092.19H1573.97V1102.77H1564.98ZM1645.89 1092.19H1654.88V1102.77H1645.89ZM1502.05 1102.77H1511.04V1113.35H1502.05ZM1547 1102.77H1555.99V1113.35H1547ZM1555.99 1102.77H1564.98V1113.35H1555.99ZM1520.03 1113.35H1529.02V1123.93H1520.03ZM1555.99 1113.35H1564.98V1123.93H1555.99ZM1564.98 1113.35H1573.97V1123.93H1564.98ZM1591.95 1113.35H1600.94V1123.93H1591.95ZM1600.94 1113.35H1609.93V1123.93H1600.94ZM1502.05 1123.93H1511.04V1134.51H1502.05ZM1538.01 1123.93H1547V1134.51H1538.01ZM1555.99 1155.67H1564.98V1166.25H1555.99ZM1609.93 1155.67H1618.92V1166.25H1609.93ZM1645.89 1155.67H1654.88V1166.25H1645.89ZM1484.07 1166.25H1493.06V1176.83H1484.07ZM1582.96 1166.25H1591.95V1176.83H1582.96ZM1555.99 1176.83H1564.98V1187.41H1555.99ZM1564.98 1176.83H1573.97V1187.41H1564.98ZM1511.04 1187.41H1520.03V1197.99H1511.04ZM1582.96 1187.41H1591.95V1197.99H1582.96ZM1520.03 1197.99H1529.02V1208.57H1520.03ZM1529.02 1197.99H1538.01V1208.57H1529.02ZM1484.07 1208.57H1493.06V1219.15H1484.07ZM1493.06 1208.57H1502.05V1219.15H1493.06ZM1493.06 1229.73H1502.05V1240.31H1493.06ZM1502.05 1229.73H1511.04V1240.31H1502.05ZM1555.99 1229.73H1564.98V1240.31H1555.99Z"/><path fill="#00ff00" d="M1511.04 848.85H1520.03V859.43H1511.04ZM1547 848.85H1555.99V859.43H1547ZM1555.99 848.85H1564.98V859.43H1555.99ZM1573.97 848.85H1582.96V859.43H1573.97ZM1591.95 848.85H1600.94V859.43H1591.95ZM1600.94 848.85H1609.93V859.43H1600.94ZM1762.76 848.85H1771.75V859.43H1762.76ZM1816.7 848.85H1825.69V859.43H1816.7ZM1825.69 848.85H1834.68V859.43H1825.69ZM1870.64 848.85H1879.63V859.43H1870.64ZM1879.63 848.85H1888.62V859.43H1879.63ZM1888.62 848.85H1897.61V859.43H1888.62ZM1511.04 859.43H1520.03V870.01H1511.04ZM1636.9 859.43H1645.89V870.01H1636.9ZM1654.88 859.43H1663.87V870.01H1654.88ZM1780.74 859.43H1789.73V870.01H1780.74ZM1807.71 859.43H1816.7V870.01H1807.71ZM1843.67 859.43H1852.66V870.01H1843.67ZM1484.07 870.01H1493.06V880.59H1484.07ZM1609.93 870.01H1618.92V880.59H1609.93ZM1663.87 870.01H1672.86V880.59H1663.87ZM1753.77 870.01H1762.76V880.59H1753.77ZM1798.72 870.01H1807.71V880.59H1798.72ZM1825.69 870.01H1834.68V880.59H1825.69ZM1843.67 870.01H1852.66V880.59H1843.67ZM1861.65 870.01H1870.64V880.59H1861.65ZM1636.9 880.59H1645.89V891.17H1636.9ZM1735.79 880.59H1744.78V891.17H1735.79ZM1744.78 880.59H1753.77V891.17H1744.78ZM1753.77 880.59H1762.76V891.17H1753.77ZM1762.76 880.59H1771.75V891.17H1762.76ZM1798.72 880.59H1807.71V891.17H1798.72ZM1484.07 891.17H1493.06V901.75H1484.07ZM1511.04 891.17H1520.03V901.75H1511.04ZM1529.02 891.17H1538.01V901.75H1529.02ZM1600.94 891.17H1609.93V901.75H1600.94ZM1609.93 891.17H1618.92V901.75H1609.93ZM1636.9 891.17H1645.89V901.75H1636.9ZM1663.87 891.17H1672.86V901.75H1663.87ZM1690.84 891.17H1699.83V901.75H1690.84ZM1789.73 891.17H1798.72V901.75H1789.73ZM1807.71 891.17H1816.7V901.75H1807.71ZM1564.98 901.75H1573.97V912.33H1564.98ZM1717.81 901.75H1726.8V912.33H1717.81ZM1529.02 912.33H1538.01V922.91H1529.02ZM1591.95 912.33H1600.94V922.91H1591.95ZM1600.94 912.33H1609.93V922.91H1600.94ZM1654.88 912.33H1663.87V922.91H1654.88ZM1663.87 912.33H1672.86V922.91H1663.87ZM1681.85 912.33H1690.84V922.91H1681.85ZM1771.75 912.33H1780.74V922.91H1771.75ZM1511.04 922.91H1520.03V933.49H1511.04ZM1547 922.91H1555.99V933.49H1547ZM1573.97 922.91H1582.96V933.49H1573.97ZM1591.95 922.91H1600.94V933.49H1591.95ZM1726.8 922.91H1735.79V933.49H1726.8ZM1744.78 922.91H1753.77V933.49H1744.78ZM1780.74 922.91H1789.73V933.49H1780.74ZM1798.72 922.91H1807.71V933.49H1798.72ZM1582.96 933.49H1591.95V944.07H1582.96ZM1627.91 933.49H1636.9V944.07H1627.91ZM1654.88 933.49H1663.87V944.07H1654.88ZM1555.99 944.07H1564.98V954.65H1555.99ZM1600.94 944.07H1609.93V954.65H1600.94ZM1618.92 944.07H1627.91V954.65H1618.92ZM1717.81 944.07H1726.8V954.65H1717.81ZM1529.02 954.65H1538.01V965.23H1529.02ZM1555.99 954.65H1564.98V965.23H1555.99ZM1663.87 954.65H1672.86V965.23H1663.87ZM1789.73 954.65H1798.72V965.23H1789.73ZM1484.07 965.23H1493.06V975.81H1484.07ZM1511.04 965.23H1520.03V975.81H1511.04ZM1573.97 965.23H1582.96V975.81H1573.97ZM1600.94 965.23H1609.93V975.81H1600.94ZM1672.86 965.23H1681.85V975.81H1672.86ZM1726.8 965.23H1735.79V975.81H1726.8ZM1529.02 975.81H1538.01V986.39H1529.02ZM1547 975.81H1555.99V986.39H1547ZM1555.99 975.81H1564.98V986.39H1555.99ZM1699.83 975.81H1708.82V986.39H1699.83ZM1538.01 986.39H1547V996.97H1538.01ZM1600.94 986.39H1609.93V996.97H1600.94ZM1645.89 986.39H1654.88V996.97H1645.89ZM1663.87 986.39H1672.86V996.97H1663.87ZM1699.83 986.39H1708.82V996.97H1699.83ZM1762.76 986.39H1771.75V996.97H1762.76ZM1493.06 996.97H1502.05V1007.55H1493.06ZM1520.03 996.97H1529.02V1007.55H1520.03ZM1529.02 996.97H1538.01V1007.55H1529.02ZM1547 996.97H1555.99V1007.55H1547ZM1555.99 996.97H1564.98V1007.55H1555.99ZM1573.97 996.97H1582.96V1007.55H1573.97ZM1591.95 996.97H1600.94V1007.55H1591.95ZM1636.9 996.97H1645.89V1007.55H1636.9ZM1484.07 1007.55H1493.06V1018.13H1484.07ZM1609.93 1007.55H1618.92V1018.13H1609.93ZM1645.89 1007.55H1654.88V1018.13H1645.89ZM1735.79 1007.55H1744.78V1018.13H1735.79ZM1573.97 1018.13H1582.96V1028.71H1573.97ZM1627.91 1018.13H1636.9V1028.71H1627.91ZM1636.9 1018.13H1645.89V1028.71H1636.9ZM1654.88 1018.13H1663.87V1028.71H1654.88ZM1681.85 1018.13H1690.84V1028.71H1681.85ZM1484.07 1028.71H1493.06V1039.29H1484.07ZM1511.04 1028.71H1520.03V1039.29H1511.04ZM1618.92 1028.71H1627.91V1039.29H1618.92ZM1538.01 1039.29H1547V1049.87H1538.01ZM1591.95 1039.29H1600.94V1049.87H1591.95ZM1708.82 1039.29H1717.81V1049.87H1708.82ZM1520.03 1049.87H1529.02V1060.45H1520.03ZM1529.02 1049.87H1538.01V1060.45H1529.02ZM1582.96 1049.87H1591.95V1060.45H1582.96ZM1627.91 1049.87H1636.9V1060.45H1627.91ZM1484.07 1060.45H1493.06V1071.03H1484.07ZM1538.01 1060.45H1547V1071.03H1538.01ZM1618.92 1060.45H1627.91V1071.03H1618.92ZM1636.9 1060.45H1645.89V1071.03H1636.9ZM1654.88 1060.45H1663.87V1071.03H1654.88ZM1663.87 1060.45H1672.86V1071.03H1663.87ZM1564.98 1071.03H1573.97V1081.61H1564.98ZM1591.95 1071.03H1600.94V1081.61H1591.95ZM1618.92 1071.03H1627.91V1081.61H1618.92ZM1636.9 1071.03H1645.89V1081.61H1636.9ZM1663.87 1071.03H1672.86V1081.61H1663.87ZM1493.06 1081.61H1502.05V1092.19H1493.06ZM1502.05 1081.61H1511.04V1092.19H1502.05ZM1520.03 1081.61H1529.02V1092.19H1520.03ZM1573.97 1081.61H1582.96V1092.19H1573.97ZM1591.95 1081.61H1600.94V1092.19H1591.95ZM1591.95 1092.19H1600.94V1102.77H1591.95ZM1609.93 1102.77H1618.92V1113.35H1609.93ZM1618.92 1102.77H1627.91V1113.35H1618.92ZM1627.91 1102.77H1636.9V1113.35H1627.91ZM1502.05 1113.35H1511.04V1123.93H1502.05ZM1529.02 1113.35H1538.01V1123.93H1529.02ZM1538.01 1113.35H1547V1123.93H1538.01ZM1529.02 1123.93H1538.01V1134.51H1529.02ZM1547 1123.93H1555.99V1134.51H1547ZM1564.98 1123.93H1573.97V1134.51H1564.98ZM1573.97 1123.93H1582.96V1134.51H1573.97ZM1582.96 1123.93H1591.95V1134.51H1582.96ZM1636.9 1123.93H1645.89V1134.51H1636.9ZM1529.02 1134.51H1538.01V1145.09H1529.02ZM1547 1134.51H1555.99V1145.09H1547ZM1555.99 1134.51H1564.98V1145.09H1555.99ZM1573.97 1134.51H1582.96V1145.09H1573.97ZM1502.05 1145.09H1511.04V1155.67H1502.05ZM1564.98 1145.09H1573.97V1155.67H1564.98ZM1573.97 1145.09H1582.96V1155.67H1573.97ZM1582.96 1145.09H1591.95V1155.67H1582.96ZM1591.95 1145.09H1600.94V1155.67H1591.95ZM1654.88 1145.09H1663.87V1155.67H1654.88ZM1493.06 1155.67H1502.05V1166.25H1493.06ZM1529.02 1155.67H1538.01V1166.25H1529.02ZM1547 1155.67H1555.99V1166.25H1547ZM1618.92 1155.67H1627.91V1166.25H1618.92ZM1564.98 1166.25H1573.97V1176.83H1564.98ZM1627.91 1166.25H1636.9V1176.83H1627.91ZM1511.04 1176.83H1520.03V1187.41H1511.04ZM1520.03 1176.83H1529.02V1187.41H1520.03ZM1573.97 1176.83H1582.96V1187.41H1573.97ZM1600.94 1197.99H1609.93V1208.57H1600.94ZM1529.02 1208.57H1538.01V1219.15H1529.02ZM1582.96 1208.57H1591.95V1219.15H1582.96ZM1484.07 1219.15H1493.06V1229.73H1484.07ZM1538.01 1219.15H1547V1229.73H1538.01ZM1564.98 1219.15H1573.97V1229.73H1564.98ZM1484.07 1229.73H1493.06V1240.31H1484.07Z"/><path fill="#0df200" d="M1520.03 848.85H1529.02V859.43H1520.03ZM1529.02 848.85H1538.01V859.43H1529.02ZM1538.01 848.85H1547V859.43H1538.01ZM1582.96 848.85H1591.95V859.43H1582.96ZM1618.92 848.85H1627.91V859.43H1618.92ZM1627.91 848.85H1636.9V859.43H1627.91ZM1645.89 848.85H1654.88V859.43H1645.89ZM1672.86 848.85H1681.85V859.43H1672.86ZM1708.82 848.85H1717.81V859.43H1708.82ZM1771.75 848.85H1780.74V859.43H1771.75ZM1798.72 848.85H1807.71V859.43H1798.72ZM1502.05 859.43H1511.04V870.01H1502.05ZM1600.94 859.43H1609.93V870.01H1600.94ZM1618.92 859.43H1627.91V870.01H1618.92ZM1753.77 859.43H1762.76V870.01H1753.77ZM1771.75 859.43H1780.74V870.01H1771.75ZM1798.72 859.43H1807.71V870.01H1798.72ZM1852.66 859.43H1861.65V870.01H1852.66ZM1511.04 870.01H1520.03V880.59H1511.04ZM1520.03 870.01H1529.02V880.59H1520.03ZM1564.98 870.01H1573.97V880.59H1564.98ZM1618.92 870.01H1627.91V880.59H1618.92ZM1636.9 870.01H1645.89V880.59H1636.9ZM1645.89 870.01H1654.88V880.59H1645.89ZM1735.79 870.01H1744.78V880.59H1735.79ZM1744.78 870.01H1753.77V880.59H1744.78ZM1762.76 870.01H1771.75V880.59H1762.76ZM1771.75 870.01H1780.74V880.59H1771.75ZM1780.74 870.01H1789.73V880.59H1780.74ZM1807.71 870.01H1816.7V880.59H1807.71ZM1484.07 880.59H1493.06V891.17H1484.07ZM1529.02 880.59H1538.01V891.17H1529.02ZM1538.01 880.59H1547V891.17H1538.01ZM1547 880.59H1555.99V891.17H1547ZM1627.91 880.59H1636.9V891.17H1627.91ZM1645.89 880.59H1654.88V891.17H1645.89ZM1654.88 880.59H1663.87V891.17H1654.88ZM1699.83 880.59H1708.82V891.17H1699.83ZM1726.8 880.59H1735.79V891.17H1726.8ZM1789.73 880.59H1798.72V891.17H1789.73ZM1807.71 880.59H1816.7V891.17H1807.71ZM1582.96 891.17H1591.95V901.75H1582.96ZM1681.85 891.17H1690.84V901.75H1681.85ZM1708.82 891.17H1717.81V901.75H1708.82ZM1726.8 891.17H1735.79V901.75H1726.8ZM1753.77 891.17H1762.76V901.75H1753.77ZM1816.7 891.17H1825.69V901.75H1816.7ZM1825.69 891.17H1834.68V901.75H1825.69ZM1834.68 891.17H1843.67V901.75H1834.68ZM1493.06 901.75H1502.05V912.33H1493.06ZM1529.02 901.75H1538.01V912.33H1529.02ZM1609.93 901.75H1618.92V912.33H1609.93ZM1636.9 901.75H1645.89V912.33H1636.9ZM1681.85 901.75H1690.84V912.33H1681.85ZM1699.83 901.75H1708.82V912.33H1699.83ZM1708.82 901.75H1717.81V912.33H1708.82ZM1726.8 901.75H1735.79V912.33H1726.8ZM1744.78 901.75H1753.77V912.33H1744.78ZM1771.75 901.75H1780.74V912.33H1771.75ZM1816.7 901.75H1825.69V912.33H1816.7ZM1484.07 912.33H1493.06V922.91H1484.07ZM1511.04 912.33H1520.03V922.91H1511.04ZM1520.03 912.33H1529.02V922.91H1520.03ZM1547 912.33H1555.99V922.91H1547ZM1609.93 912.33H1618.92V922.91H1609.93ZM1627.91 912.33H1636.9V922.91H1627.91ZM1645.89 912.33H1654.88V922.91H1645.89ZM1699.83 912.33H1708.82V922.91H1699.83ZM1726.8 912.33H1735.79V922.91H1726.8ZM1753.77 912.33H1762.76V922.91H1753.77ZM1484.07 933.49H1493.06V944.07H1484.07ZM1538.01 933.49H1547V944.07H1538.01ZM1564.98 933.49H1573.97V944.07H1564.98ZM1591.95 933.49H1600.94V944.07H1591.95ZM1672.86 933.49H1681.85V944.07H1672.86ZM1690.84 933.49H1699.83V944.07H1690.84ZM1699.83 933.49H1708.82V944.07H1699.83ZM1726.8 933.49H1735.79V944.07H1726.8ZM1502.05 944.07H1511.04V954.65H1502.05ZM1573.97 944.07H1582.96V954.65H1573.97ZM1591.95 944.07H1600.94V954.65H1591.95ZM1609.93 944.07H1618.92V954.65H1609.93ZM1681.85 944.07H1690.84V954.65H1681.85ZM1493.06 954.65H1502.05V965.23H1493.06ZM1690.84 954.65H1699.83V965.23H1690.84ZM1744.78 954.65H1753.77V965.23H1744.78ZM1493.06 965.23H1502.05V975.81H1493.06ZM1591.95 965.23H1600.94V975.81H1591.95ZM1618.92 965.23H1627.91V975.81H1618.92ZM1511.04 975.81H1520.03V986.39H1511.04ZM1609.93 975.81H1618.92V986.39H1609.93ZM1636.9 975.81H1645.89V986.39H1636.9ZM1654.88 975.81H1663.87V986.39H1654.88ZM1493.06 986.39H1502.05V996.97H1493.06ZM1529.02 986.39H1538.01V996.97H1529.02ZM1591.95 986.39H1600.94V996.97H1591.95ZM1618.92 986.39H1627.91V996.97H1618.92ZM1672.86 986.39H1681.85V996.97H1672.86ZM1681.85 986.39H1690.84V996.97H1681.85ZM1717.81 986.39H1726.8V996.97H1717.81ZM1582.96 996.97H1591.95V1007.55H1582.96ZM1618.92 996.97H1627.91V1007.55H1618.92ZM1654.88 996.97H1663.87V1007.55H1654.88ZM1511.04 1007.55H1520.03V1018.13H1511.04ZM1520.03 1007.55H1529.02V1018.13H1520.03ZM1618.92 1007.55H1627.91V1018.13H1618.92ZM1627.91 1007.55H1636.9V1018.13H1627.91ZM1672.86 1007.55H1681.85V1018.13H1672.86ZM1529.02 1018.13H1538.01V1028.71H1529.02ZM1591.95 1018.13H1600.94V1028.71H1591.95ZM1600.94 1018.13H1609.93V1028.71H1600.94ZM1645.89 1018.13H1654.88V1028.71H1645.89ZM1663.87 1018.13H1672.86V1028.71H1663.87ZM1484.07 1039.29H1493.06V1049.87H1484.07ZM1493.06 1039.29H1502.05V1049.87H1493.06ZM1511.04 1039.29H1520.03V1049.87H1511.04ZM1573.97 1039.29H1582.96V1049.87H1573.97ZM1582.96 1039.29H1591.95V1049.87H1582.96ZM1600.94 1039.29H1609.93V1049.87H1600.94ZM1681.85 1039.29H1690.84V1049.87H1681.85ZM1555.99 1049.87H1564.98V1060.45H1555.99ZM1573.97 1049.87H1582.96V1060.45H1573.97ZM1600.94 1049.87H1609.93V1060.45H1600.94ZM1609.93 1049.87H1618.92V1060.45H1609.93ZM1645.89 1049.87H1654.88V1060.45H1645.89ZM1502.05 1060.45H1511.04V1071.03H1502.05ZM1511.04 1060.45H1520.03V1071.03H1511.04ZM1520.03 1060.45H1529.02V1071.03H1520.03ZM1529.02 1060.45H1538.01V1071.03H1529.02ZM1555.99 1060.45H1564.98V1071.03H1555.99ZM1573.97 1060.45H1582.96V1071.03H1573.97ZM1520.03 1071.03H1529.02V1081.61H1520.03ZM1573.97 1071.03H1582.96V1081.61H1573.97ZM1582.96 1071.03H1591.95V1081.61H1582.96ZM1547 1092.19H1555.99V1102.77H1547ZM1609.93 1092.19H1618.92V1102.77H1609.93ZM1627.91 1092.19H1636.9V1102.77H1627.91ZM1654.88 1092.19H1663.87V1102.77H1654.88ZM1484.07 1102.77H1493.06V1113.35H1484.07ZM1511.04 1102.77H1520.03V1113.35H1511.04ZM1520.03 1102.77H1529.02V1113.35H1520.03ZM1573.97 1102.77H1582.96V1113.35H1573.97ZM1600.94 1102.77H1609.93V1113.35H1600.94ZM1645.89 1102.77H1654.88V1113.35H1645.89ZM1654.88 1102.77H1663.87V1113.35H1654.88ZM1663.87 1102.77H1672.86V1113.35H1663.87ZM1511.04 1113.35H1520.03V1123.93H1511.04ZM1511.04 1123.93H1520.03V1134.51H1511.04ZM1520.03 1123.93H1529.02V1134.51H1520.03ZM1555.99 1123.93H1564.98V1134.51H1555.99ZM1600.94 1123.93H1609.93V1134.51H1600.94ZM1609.93 1123.93H1618.92V1134.51H1609.93ZM1520.03 1134.51H1529.02V1145.09H1520.03ZM1538.01 1134.51H1547V1145.09H1538.01ZM1564.98 1134.51H1573.97V1145.09H1564.98ZM1484.07 1145.09H1493.06V1155.67H1484.07ZM1511.04 1145.09H1520.03V1155.67H1511.04ZM1555.99 1145.09H1564.98V1155.67H1555.99ZM1600.94 1145.09H1609.93V1155.67H1600.94ZM1538.01 1155.67H1547V1166.25H1538.01ZM1591.95 1155.67H1600.94V1166.25H1591.95ZM1493.06 1166.25H1502.05V1176.83H1493.06ZM1511.04 1166.25H1520.03V1176.83H1511.04ZM1520.03 1166.25H1529.02V1176.83H1520.03ZM1547 1166.25H1555.99V1176.83H1547ZM1555.99 1166.25H1564.98V1176.83H1555.99ZM1591.95 1166.25H1600.94V1176.83H1591.95ZM1484.07 1176.83H1493.06V1187.41H1484.07ZM1493.06 1176.83H1502.05V1187.41H1493.06ZM1502.05 1176.83H1511.04V1187.41H1502.05ZM1538.01 1176.83H1547V1187.41H1538.01ZM1547 1176.83H1555.99V1187.41H1547ZM1591.95 1176.83H1600.94V1187.41H1591.95ZM1502.05 1187.41H1511.04V1197.99H1502.05ZM1538.01 1187.41H1547V1197.99H1538.01ZM1547 1187.41H1555.99V1197.99H1547ZM1564.98 1187.41H1573.97V1197.99H1564.98ZM1493.06 1197.99H1502.05V1208.57H1493.06ZM1502.05 1197.99H1511.04V1208.57H1502.05ZM1511.04 1197.99H1520.03V1208.57H1511.04ZM1493.06 1219.15H1502.05V1229.73H1493.06ZM1502.05 1219.15H1511.04V1229.73H1502.05ZM1511.04 1219.15H1520.03V1229.73H1511.04ZM1520.03 1219.15H1529.02V1229.73H1520.03ZM1547 1219.15H1555.99V1229.73H1547Z"/><path fill="#40bf00" d="M1564.98 848.85H1573.97V859.43H1564.98ZM1609.93 848.85H1618.92V859.43H1609.93ZM1636.9 848.85H1645.89V859.43H1636.9ZM1789.73 848.85H1798.72V859.43H1789.73ZM1789.73 859.43H1798.72V870.01H1789.73ZM1816.7 859.43H1825.69V870.01H1816.7ZM1834.68 859.43H1843.67V870.01H1834.68ZM1600.94 870.01H1609.93V880.59H1600.94ZM1555.99 880.59H1564.98V891.17H1555.99ZM1573.97 880.59H1582.96V891.17H1573.97ZM1672.86 880.59H1681.85V891.17H1672.86ZM1681.85 880.59H1690.84V891.17H1681.85ZM1690.84 880.59H1699.83V891.17H1690.84ZM1708.82 880.59H1717.81V891.17H1708.82ZM1825.69 880.59H1834.68V891.17H1825.69ZM1852.66 880.59H1861.65V891.17H1852.66ZM1538.01 891.17H1547V901.75H1538.01ZM1672.86 891.17H1681.85V901.75H1672.86ZM1735.79 891.17H1744.78V901.75H1735.79ZM1573.97 901.75H1582.96V912.33H1573.97ZM1600.94 901.75H1609.93V912.33H1600.94ZM1645.89 901.75H1654.88V912.33H1645.89ZM1672.86 901.75H1681.85V912.33H1672.86ZM1780.74 901.75H1789.73V912.33H1780.74ZM1807.71 901.75H1816.7V912.33H1807.71ZM1825.69 901.75H1834.68V912.33H1825.69ZM1708.82 912.33H1717.81V922.91H1708.82ZM1789.73 912.33H1798.72V922.91H1789.73ZM1807.71 912.33H1816.7V922.91H1807.71ZM1762.76 922.91H1771.75V933.49H1762.76ZM1493.06 933.49H1502.05V944.07H1493.06ZM1753.77 933.49H1762.76V944.07H1753.77ZM1547 944.07H1555.99V954.65H1547ZM1564.98 944.07H1573.97V954.65H1564.98ZM1627.91 944.07H1636.9V954.65H1627.91ZM1636.9 944.07H1645.89V954.65H1636.9ZM1672.86 944.07H1681.85V954.65H1672.86ZM1744.78 944.07H1753.77V954.65H1744.78ZM1753.77 944.07H1762.76V954.65H1753.77ZM1717.81 954.65H1726.8V965.23H1717.81ZM1520.03 965.23H1529.02V975.81H1520.03ZM1529.02 965.23H1538.01V975.81H1529.02ZM1582.96 965.23H1591.95V975.81H1582.96ZM1699.83 965.23H1708.82V975.81H1699.83ZM1708.82 965.23H1717.81V975.81H1708.82ZM1502.05 986.39H1511.04V996.97H1502.05ZM1564.98 986.39H1573.97V996.97H1564.98ZM1573.97 986.39H1582.96V996.97H1573.97ZM1708.82 986.39H1717.81V996.97H1708.82ZM1726.8 986.39H1735.79V996.97H1726.8ZM1735.79 986.39H1744.78V996.97H1735.79ZM1502.05 996.97H1511.04V1007.55H1502.05ZM1538.01 996.97H1547V1007.55H1538.01ZM1609.93 996.97H1618.92V1007.55H1609.93ZM1699.83 996.97H1708.82V1007.55H1699.83ZM1708.82 996.97H1717.81V1007.55H1708.82ZM1708.82 1007.55H1717.81V1018.13H1708.82ZM1582.96 1018.13H1591.95V1028.71H1582.96ZM1493.06 1028.71H1502.05V1039.29H1493.06ZM1627.91 1028.71H1636.9V1039.29H1627.91ZM1654.88 1028.71H1663.87V1039.29H1654.88ZM1484.07 1049.87H1493.06V1060.45H1484.07ZM1681.85 1049.87H1690.84V1060.45H1681.85ZM1690.84 1049.87H1699.83V1060.45H1690.84ZM1547 1060.45H1555.99V1071.03H1547ZM1645.89 1060.45H1654.88V1071.03H1645.89ZM1699.83 1060.45H1708.82V1071.03H1699.83ZM1502.05 1071.03H1511.04V1081.61H1502.05ZM1529.02 1071.03H1538.01V1081.61H1529.02ZM1627.91 1071.03H1636.9V1081.61H1627.91ZM1681.85 1071.03H1690.84V1081.61H1681.85ZM1609.93 1081.61H1618.92V1092.19H1609.93ZM1511.04 1092.19H1520.03V1102.77H1511.04ZM1573.97 1092.19H1582.96V1102.77H1573.97ZM1672.86 1092.19H1681.85V1102.77H1672.86ZM1564.98 1102.77H1573.97V1113.35H1564.98ZM1484.07 1113.35H1493.06V1123.93H1484.07ZM1591.95 1123.93H1600.94V1134.51H1591.95ZM1609.93 1134.51H1618.92V1145.09H1609.93ZM1618.92 1134.51H1627.91V1145.09H1618.92ZM1520.03 1145.09H1529.02V1155.67H1520.03ZM1627.91 1145.09H1636.9V1155.67H1627.91ZM1636.9 1145.09H1645.89V1155.67H1636.9ZM1484.07 1155.67H1493.06V1166.25H1484.07ZM1502.05 1155.67H1511.04V1166.25H1502.05ZM1511.04 1155.67H1520.03V1166.25H1511.04ZM1564.98 1155.67H1573.97V1166.25H1564.98ZM1573.97 1155.67H1582.96V1166.25H1573.97ZM1502.05 1166.25H1511.04V1176.83H1502.05ZM1600.94 1166.25H1609.93V1176.83H1600.94ZM1600.94 1176.83H1609.93V1187.41H1600.94ZM1484.07 1187.41H1493.06V1197.99H1484.07ZM1573.97 1187.41H1582.96V1197.99H1573.97ZM1573.97 1219.15H1582.96V1229.73H1573.97ZM1564.98 1229.73H1573.97V1240.31H1564.98Z"/><path fill="#619e00" d="M1681.85 848.85H1690.84V859.43H1681.85ZM1834.68 848.85H1843.67V859.43H1834.68ZM1861.65 859.43H1870.64V870.01H1861.65ZM1672.86 870.01H1681.85V880.59H1672.86ZM1690.84 870.01H1699.83V880.59H1690.84ZM1708.82 870.01H1717.81V880.59H1708.82ZM1618.92 880.59H1627.91V891.17H1618.92ZM1834.68 880.59H1843.67V891.17H1834.68ZM1582.96 901.75H1591.95V912.33H1582.96ZM1699.83 922.91H1708.82V933.49H1699.83ZM1502.05 933.49H1511.04V944.07H1502.05ZM1807.71 933.49H1816.7V944.07H1807.71ZM1564.98 965.23H1573.97V975.81H1564.98ZM1493.06 975.81H1502.05V986.39H1493.06ZM1591.95 975.81H1600.94V986.39H1591.95ZM1708.82 975.81H1717.81V986.39H1708.82ZM1636.9 1007.55H1645.89V1018.13H1636.9ZM1636.9 1049.87H1645.89V1060.45H1636.9ZM1699.83 1071.03H1708.82V1081.61H1699.83ZM1573.97 1113.35H1582.96V1123.93H1573.97ZM1484.07 1123.93H1493.06V1134.51H1484.07ZM1547 1145.09H1555.99V1155.67H1547Z"/><path fill="#c43b00" d="M1843.67 848.85H1852.66V859.43H1843.67ZM1699.83 870.01H1708.82V880.59H1699.83ZM1816.7 922.91H1825.69V933.49H1816.7ZM1681.85 1060.45H1690.84V1071.03H1681.85ZM1502.05 1092.19H1511.04V1102.77H1502.05ZM1672.86 1102.77H1681.85V1113.35H1672.86ZM1538.01 1145.09H1547V1155.67H1538.01ZM1636.9 1155.67H1645.89V1166.25H1636.9Z"/><path fill="#2ed100" d="M1852.66 848.85H1861.65V859.43H1852.66ZM1861.65 848.85H1870.64V859.43H1861.65ZM1493.06 859.43H1502.05V870.01H1493.06ZM1663.87 859.43H1672.86V870.01H1663.87ZM1672.86 859.43H1681.85V870.01H1672.86ZM1555.99 870.01H1564.98V880.59H1555.99ZM1493.06 880.59H1502.05V891.17H1493.06ZM1502.05 880.59H1511.04V891.17H1502.05ZM1511.04 880.59H1520.03V891.17H1511.04ZM1609.93 880.59H1618.92V891.17H1609.93ZM1771.75 880.59H1780.74V891.17H1771.75ZM1502.05 901.75H1511.04V912.33H1502.05ZM1511.04 901.75H1520.03V912.33H1511.04ZM1555.99 901.75H1564.98V912.33H1555.99ZM1690.84 901.75H1699.83V912.33H1690.84ZM1493.06 912.33H1502.05V922.91H1493.06ZM1564.98 912.33H1573.97V922.91H1564.98ZM1573.97 912.33H1582.96V922.91H1573.97ZM1690.84 912.33H1699.83V922.91H1690.84ZM1484.07 922.91H1493.06V933.49H1484.07ZM1493.06 922.91H1502.05V933.49H1493.06ZM1511.04 933.49H1520.03V944.07H1511.04ZM1520.03 933.49H1529.02V944.07H1520.03ZM1529.02 933.49H1538.01V944.07H1529.02ZM1547 933.49H1555.99V944.07H1547ZM1645.89 933.49H1654.88V944.07H1645.89ZM1708.82 933.49H1717.81V944.07H1708.82ZM1493.06 944.07H1502.05V954.65H1493.06ZM1511.04 944.07H1520.03V954.65H1511.04ZM1520.03 944.07H1529.02V954.65H1520.03ZM1529.02 944.07H1538.01V954.65H1529.02ZM1654.88 944.07H1663.87V954.65H1654.88ZM1780.74 944.07H1789.73V954.65H1780.74ZM1789.73 944.07H1798.72V954.65H1789.73ZM1798.72 944.07H1807.71V954.65H1798.72ZM1502.05 954.65H1511.04V965.23H1502.05ZM1511.04 954.65H1520.03V965.23H1511.04ZM1520.03 954.65H1529.02V965.23H1520.03ZM1591.95 954.65H1600.94V965.23H1591.95ZM1600.94 954.65H1609.93V965.23H1600.94ZM1609.93 954.65H1618.92V965.23H1609.93ZM1618.92 954.65H1627.91V965.23H1618.92ZM1627.91 954.65H1636.9V965.23H1627.91ZM1538.01 965.23H1547V975.81H1538.01ZM1520.03 975.81H1529.02V986.39H1520.03ZM1538.01 975.81H1547V986.39H1538.01ZM1564.98 975.81H1573.97V986.39H1564.98ZM1484.07 986.39H1493.06V996.97H1484.07ZM1547 986.39H1555.99V996.97H1547ZM1654.88 986.39H1663.87V996.97H1654.88ZM1645.89 996.97H1654.88V1007.55H1645.89ZM1663.87 996.97H1672.86V1007.55H1663.87ZM1672.86 996.97H1681.85V1007.55H1672.86ZM1493.06 1007.55H1502.05V1018.13H1493.06ZM1502.05 1007.55H1511.04V1018.13H1502.05ZM1547 1007.55H1555.99V1018.13H1547ZM1573.97 1007.55H1582.96V1018.13H1573.97ZM1582.96 1007.55H1591.95V1018.13H1582.96ZM1591.95 1007.55H1600.94V1018.13H1591.95ZM1484.07 1018.13H1493.06V1028.71H1484.07ZM1493.06 1018.13H1502.05V1028.71H1493.06ZM1502.05 1018.13H1511.04V1028.71H1502.05ZM1520.03 1018.13H1529.02V1028.71H1520.03ZM1547 1018.13H1555.99V1028.71H1547ZM1555.99 1018.13H1564.98V1028.71H1555.99ZM1672.86 1018.13H1681.85V1028.71H1672.86ZM1690.84 1018.13H1699.83V1028.71H1690.84ZM1529.02 1028.71H1538.01V1039.29H1529.02ZM1547 1028.71H1555.99V1039.29H1547ZM1573.97 1028.71H1582.96V1039.29H1573.97ZM1582.96 1028.71H1591.95V1039.29H1582.96ZM1591.95 1028.71H1600.94V1039.29H1591.95ZM1609.93 1028.71H1618.92V1039.29H1609.93ZM1672.86 1028.71H1681.85V1039.29H1672.86ZM1520.03 1039.29H1529.02V1049.87H1520.03ZM1529.02 1039.29H1538.01V1049.87H1529.02ZM1555.99 1039.29H1564.98V1049.87H1555.99ZM1564.98 1039.29H1573.97V1049.87H1564.98ZM1663.87 1039.29H1672.86V1049.87H1663.87ZM1672.86 1039.29H1681.85V1049.87H1672.86ZM1699.83 1039.29H1708.82V1049.87H1699.83ZM1564.98 1049.87H1573.97V1060.45H1564.98ZM1591.95 1049.87H1600.94V1060.45H1591.95ZM1582.96 1060.45H1591.95V1071.03H1582.96ZM1600.94 1060.45H1609.93V1071.03H1600.94ZM1609.93 1060.45H1618.92V1071.03H1609.93ZM1627.91 1060.45H1636.9V1071.03H1627.91ZM1600.94 1071.03H1609.93V1081.61H1600.94ZM1609.93 1071.03H1618.92V1081.61H1609.93ZM1484.07 1081.61H1493.06V1092.19H1484.07ZM1511.04 1081.61H1520.03V1092.19H1511.04ZM1538.01 1081.61H1547V1092.19H1538.01ZM1547 1081.61H1555.99V1092.19H1547ZM1555.99 1081.61H1564.98V1092.19H1555.99ZM1564.98 1081.61H1573.97V1092.19H1564.98ZM1582.96 1081.61H1591.95V1092.19H1582.96ZM1645.89 1081.61H1654.88V1092.19H1645.89ZM1654.88 1081.61H1663.87V1092.19H1654.88ZM1663.87 1081.61H1672.86V1092.19H1663.87ZM1672.86 1081.61H1681.85V1092.19H1672.86ZM1600.94 1092.19H1609.93V1102.77H1600.94ZM1618.92 1092.19H1627.91V1102.77H1618.92ZM1636.9 1092.19H1645.89V1102.77H1636.9ZM1493.06 1102.77H1502.05V1113.35H1493.06ZM1529.02 1102.77H1538.01V1113.35H1529.02ZM1538.01 1102.77H1547V1113.35H1538.01ZM1582.96 1102.77H1591.95V1113.35H1582.96ZM1591.95 1102.77H1600.94V1113.35H1591.95ZM1636.9 1102.77H1645.89V1113.35H1636.9ZM1627.91 1113.35H1636.9V1123.93H1627.91ZM1493.06 1123.93H1502.05V1134.51H1493.06ZM1618.92 1123.93H1627.91V1134.51H1618.92ZM1493.06 1134.51H1502.05V1145.09H1493.06ZM1502.05 1134.51H1511.04V1145.09H1502.05ZM1511.04 1134.51H1520.03V1145.09H1511.04ZM1493.06 1145.09H1502.05V1155.67H1493.06ZM1609.93 1145.09H1618.92V1155.67H1609.93ZM1600.94 1155.67H1609.93V1166.25H1600.94ZM1529.02 1166.25H1538.01V1176.83H1529.02ZM1538.01 1166.25H1547V1176.83H1538.01ZM1573.97 1166.25H1582.96V1176.83H1573.97ZM1582.96 1176.83H1591.95V1187.41H1582.96ZM1520.03 1187.41H1529.02V1197.99H1520.03ZM1591.95 1187.41H1600.94V1197.99H1591.95ZM1547 1197.99H1555.99V1208.57H1547ZM1564.98 1197.99H1573.97V1208.57H1564.98ZM1502.05 1208.57H1511.04V1219.15H1502.05ZM1511.04 1208.57H1520.03V1219.15H1511.04ZM1520.03 1208.57H1529.02V1219.15H1520.03ZM1538.01 1208.57H1547V1219.15H1538.01ZM1573.97 1208.57H1582.96V1219.15H1573.97ZM1555.99 1219.15H1564.98V1229.73H1555.99ZM1511.04 1229.73H1520.03V1240.31H1511.04ZM1520.03 1229.73H1529.02V1240.31H1520.03ZM1529.02 1229.73H1538.01V1240.31H1529.02ZM1573.97 1229.73H1582.96V1240.31H1573.97ZM1582.96 1229.73H1591.95V1240.31H1582.96ZM1591.95 1229.73H1600.94V1240.31H1591.95Z"/><path fill="#828282" d="M1897.61 848.85H1906.6V859.43H1897.61ZM1879.63 859.43H1888.62V870.01H1879.63ZM1870.64 870.01H1879.63V880.59H1870.64ZM1861.65 880.59H1870.64V891.17H1861.65ZM1843.67 901.75H1852.66V912.33H1843.67ZM1609.93 1197.99H1618.92V1208.57H1609.93Z"/><path fill="#ff0000" d="M1645.89 859.43H1654.88V870.01H1645.89ZM1852.66 891.17H1861.65V901.75H1852.66ZM1654.88 901.75H1663.87V912.33H1654.88ZM1798.72 901.75H1807.71V912.33H1798.72ZM1834.68 912.33H1843.67V922.91H1834.68ZM1744.78 933.49H1753.77V944.07H1744.78ZM1816.7 933.49H1825.69V944.07H1816.7ZM1627.91 975.81H1636.9V986.39H1627.91ZM1717.81 996.97H1726.8V1007.55H1717.81ZM1753.77 996.97H1762.76V1007.55H1753.77ZM1699.83 1007.55H1708.82V1018.13H1699.83ZM1681.85 1028.71H1690.84V1039.29H1681.85ZM1690.84 1028.71H1699.83V1039.29H1690.84ZM1708.82 1028.71H1717.81V1039.29H1708.82ZM1717.81 1028.71H1726.8V1039.29H1717.81ZM1699.83 1049.87H1708.82V1060.45H1699.83ZM1708.82 1049.87H1717.81V1060.45H1708.82ZM1708.82 1060.45H1717.81V1071.03H1708.82ZM1699.83 1081.61H1708.82V1092.19H1699.83ZM1699.83 1092.19H1708.82V1102.77H1699.83ZM1663.87 1113.35H1672.86V1123.93H1663.87ZM1672.86 1113.35H1681.85V1123.93H1672.86ZM1654.88 1134.51H1663.87V1145.09H1654.88ZM1609.93 1176.83H1618.92V1187.41H1609.93ZM1618.92 1176.83H1627.91V1187.41H1618.92ZM1538.01 1197.99H1547V1208.57H1538.01ZM1591.95 1197.99H1600.94V1208.57H1591.95ZM1547 1208.57H1555.99V1219.15H1547ZM1591.95 1208.57H1600.94V1219.15H1591.95Z"/><path fill="#827d00" d="M1870.64 859.43H1879.63V870.01H1870.64ZM1654.88 870.01H1663.87V880.59H1654.88ZM1600.94 880.59H1609.93V891.17H1600.94ZM1547 891.17H1555.99V901.75H1547ZM1789.73 901.75H1798.72V912.33H1789.73ZM1771.75 933.49H1780.74V944.07H1771.75ZM1690.84 944.07H1699.83V954.65H1690.84ZM1771.75 944.07H1780.74V954.65H1771.75ZM1735.79 996.97H1744.78V1007.55H1735.79ZM1529.02 1007.55H1538.01V1018.13H1529.02ZM1564.98 1028.71H1573.97V1039.29H1564.98ZM1636.9 1028.71H1645.89V1039.29H1636.9ZM1645.89 1028.71H1654.88V1039.29H1645.89ZM1699.83 1028.71H1708.82V1039.29H1699.83ZM1484.07 1071.03H1493.06V1081.61H1484.07ZM1529.02 1092.19H1538.01V1102.77H1529.02ZM1609.93 1113.35H1618.92V1123.93H1609.93ZM1618.92 1113.35H1627.91V1123.93H1618.92ZM1627.91 1123.93H1636.9V1134.51H1627.91ZM1645.89 1123.93H1654.88V1134.51H1645.89ZM1654.88 1123.93H1663.87V1134.51H1654.88ZM1672.86 1123.93H1681.85V1134.51H1672.86ZM1627.91 1134.51H1636.9V1145.09H1627.91ZM1645.89 1145.09H1654.88V1155.67H1645.89ZM1555.99 1197.99H1564.98V1208.57H1555.99ZM1573.97 1197.99H1582.96V1208.57H1573.97ZM1582.96 1197.99H1591.95V1208.57H1582.96ZM1555.99 1208.57H1564.98V1219.15H1555.99ZM1547 1229.73H1555.99V1240.31H1547Z"/><path fill="#4fb000" d="M1502.05 870.01H1511.04V880.59H1502.05ZM1762.76 891.17H1771.75V901.75H1762.76ZM1771.75 891.17H1780.74V901.75H1771.75ZM1753.77 901.75H1762.76V912.33H1753.77ZM1538.01 912.33H1547V922.91H1538.01ZM1636.9 912.33H1645.89V922.91H1636.9ZM1825.69 912.33H1834.68V922.91H1825.69ZM1717.81 933.49H1726.8V944.07H1717.81ZM1708.82 944.07H1717.81V954.65H1708.82ZM1708.82 954.65H1717.81V965.23H1708.82ZM1762.76 954.65H1771.75V965.23H1762.76ZM1502.05 965.23H1511.04V975.81H1502.05ZM1555.99 965.23H1564.98V975.81H1555.99ZM1627.91 965.23H1636.9V975.81H1627.91ZM1636.9 965.23H1645.89V975.81H1636.9ZM1645.89 965.23H1654.88V975.81H1645.89ZM1762.76 965.23H1771.75V975.81H1762.76ZM1564.98 996.97H1573.97V1007.55H1564.98ZM1681.85 996.97H1690.84V1007.55H1681.85ZM1564.98 1007.55H1573.97V1018.13H1564.98ZM1690.84 1007.55H1699.83V1018.13H1690.84ZM1502.05 1039.29H1511.04V1049.87H1502.05ZM1636.9 1039.29H1645.89V1049.87H1636.9ZM1618.92 1049.87H1627.91V1060.45H1618.92ZM1654.88 1049.87H1663.87V1060.45H1654.88ZM1672.86 1060.45H1681.85V1071.03H1672.86ZM1663.87 1092.19H1672.86V1102.77H1663.87ZM1493.06 1113.35H1502.05V1123.93H1493.06ZM1547 1113.35H1555.99V1123.93H1547ZM1582.96 1134.51H1591.95V1145.09H1582.96ZM1636.9 1134.51H1645.89V1145.09H1636.9ZM1645.89 1134.51H1654.88V1145.09H1645.89ZM1529.02 1145.09H1538.01V1155.67H1529.02ZM1582.96 1155.67H1591.95V1166.25H1582.96ZM1493.06 1187.41H1502.05V1197.99H1493.06ZM1484.07 1197.99H1493.06V1208.57H1484.07ZM1538.01 1229.73H1547V1240.31H1538.01Z"/><path fill="#e31c00" d="M1681.85 870.01H1690.84V880.59H1681.85ZM1672.86 912.33H1681.85V922.91H1672.86ZM1807.71 922.91H1816.7V933.49H1807.71ZM1780.74 954.65H1789.73V965.23H1780.74ZM1690.84 1060.45H1699.83V1071.03H1690.84ZM1663.87 1123.93H1672.86V1134.51H1663.87Z"/><path fill="#a35c00" d="M1663.87 880.59H1672.86V891.17H1663.87ZM1717.81 880.59H1726.8V891.17H1717.81ZM1816.7 880.59H1825.69V891.17H1816.7ZM1555.99 891.17H1564.98V901.75H1555.99ZM1843.67 891.17H1852.66V901.75H1843.67ZM1663.87 901.75H1672.86V912.33H1663.87ZM1798.72 912.33H1807.71V922.91H1798.72ZM1564.98 922.91H1573.97V933.49H1564.98ZM1762.76 933.49H1771.75V944.07H1762.76ZM1735.79 944.07H1744.78V954.65H1735.79ZM1762.76 944.07H1771.75V954.65H1762.76ZM1484.07 954.65H1493.06V965.23H1484.07ZM1573.97 954.65H1582.96V965.23H1573.97ZM1582.96 954.65H1591.95V965.23H1582.96ZM1771.75 975.81H1780.74V986.39H1771.75ZM1663.87 1049.87H1672.86V1060.45H1663.87ZM1609.93 1166.25H1618.92V1176.83H1609.93Z"/><path fill="#f10e00" d="M1564.98 891.17H1573.97V901.75H1564.98ZM1780.74 912.33H1789.73V922.91H1780.74ZM1825.69 922.91H1834.68V933.49H1825.69ZM1798.72 933.49H1807.71V944.07H1798.72Z"/><path fill="#936c00" d="M1780.74 891.17H1789.73V901.75H1780.74ZM1735.79 933.49H1744.78V944.07H1735.79ZM1780.74 933.49H1789.73V944.07H1780.74ZM1663.87 965.23H1672.86V975.81H1663.87ZM1502.05 975.81H1511.04V986.39H1502.05ZM1753.77 986.39H1762.76V996.97H1753.77ZM1744.78 996.97H1753.77V1007.55H1744.78ZM1726.8 1007.55H1735.79V1018.13H1726.8ZM1600.94 1134.51H1609.93V1145.09H1600.94Z"/><path fill="#708f00" d="M1484.07 901.75H1493.06V912.33H1484.07ZM1816.7 912.33H1825.69V922.91H1816.7ZM1789.73 933.49H1798.72V944.07H1789.73ZM1663.87 944.07H1672.86V954.65H1663.87ZM1726.8 996.97H1735.79V1007.55H1726.8ZM1654.88 1007.55H1663.87V1018.13H1654.88ZM1717.81 1007.55H1726.8V1018.13H1717.81ZM1663.87 1028.71H1672.86V1039.29H1663.87ZM1493.06 1071.03H1502.05V1081.61H1493.06ZM1690.84 1081.61H1699.83V1092.19H1690.84ZM1582.96 1092.19H1591.95V1102.77H1582.96ZM1627.91 1155.67H1636.9V1166.25H1627.91ZM1529.02 1187.41H1538.01V1197.99H1529.02Z"/><path fill="#d42b00" d="M1699.83 944.07H1708.82V954.65H1699.83ZM1771.75 954.65H1780.74V965.23H1771.75ZM1744.78 986.39H1753.77V996.97H1744.78ZM1672.86 1049.87H1681.85V1060.45H1672.86ZM1645.89 1113.35H1654.88V1123.93H1645.89ZM1654.88 1113.35H1663.87V1123.93H1654.88ZM1618.92 1166.25H1627.91V1176.83H1618.92Z"/><path fill="#b44b00" d="M1555.99 1007.55H1564.98V1018.13H1555.99ZM1636.9 1113.35H1645.89V1123.93H1636.9ZM1564.98 1208.57H1573.97V1219.15H1564.98Z"/><path fill="#08f700" d="M1699.83 1018.13H1708.82V1028.71H1699.83ZM1708.82 1018.13H1717.81V1028.71H1708.82ZM1717.81 1018.13H1726.8V1028.71H1717.81ZM1681.85 1092.19H1690.84V1102.77H1681.85ZM1690.84 1092.19H1699.83V1102.77H1690.84ZM1600.94 1187.41H1609.93V1197.99H1600.94ZM1609.93 1187.41H1618.92V1197.99H1609.93Z"/><path fill="#0ff000" d="M1681.85 1102.77H1690.84V1113.35H1681.85Z"/></g>
<path fill="#000" d="M1910.00 851.45h2.40v2.70h-2.40zM1913.80 851.45h2.40v2.70h-2.40zM1917.60 851.45h2.40v2.70h-2.40zM1892.02 862.03h2.40v2.70h-2.40zM1895.82 862.03h2.40v2.70h-2.40zM1899.62 862.03h2.40v2.70h-2.40zM1883.03 872.61h2.40v2.70h-2.40zM1886.83 872.61h2.40v2.70h-2.40zM1890.63 872.61h2.40v2.70h-2.40zM1874.04 883.19h2.40v2.70h-2.40zM1877.84 883.19h2.40v2.70h-2.40zM1881.64 883.19h2.40v2.70h-2.40zM1856.06 904.35h2.40v2.70h-2.40zM1859.86 904.35h2.40v2.70h-2.40zM1863.66 904.35h2.40v2.70h-2.40zM1622.32 1200.59h2.40v2.70h-2.40zM1626.12 1200.59h2.40v2.70h-2.40zM1629.92 1200.59h2.40v2.70h-2.40z"/><g font-size="14" font-weight="bold" fill="#000" stroke="#000" stroke-width="0.45"><text transform="translate(1864.95 900.92) scale(0.98 1.05)">x</text><text transform="translate(1846.97 922.08) scale(0.98 1.05)">x</text><text transform="translate(1837.98 932.66) scale(0.98 1.05)">x</text><text transform="translate(1828.99 943.24) scale(0.98 1.05)">x</text><text transform="translate(1811.01 953.82) scale(0.98 1.05)">x</text><text transform="translate(1802.02 964.40) scale(0.98 1.05)">x</text><text transform="translate(1793.03 974.98) scale(0.98 1.05)">x</text><text transform="translate(1784.04 985.56) scale(0.98 1.05)">x</text><text transform="translate(1775.05 996.14) scale(0.98 1.05)">x</text><text transform="translate(1766.06 1006.72) scale(0.98 1.05)">x</text><text transform="translate(1748.08 1017.30) scale(0.98 1.05)">x</text><text transform="translate(1730.10 1027.88) scale(0.98 1.05)">x</text><text transform="translate(1730.10 1038.46) scale(0.98 1.05)">x</text><text transform="translate(1721.11 1049.04) scale(0.98 1.05)">x</text><text transform="translate(1721.11 1059.62) scale(0.98 1.05)">x</text><text transform="translate(1721.11 1070.20) scale(0.98 1.05)">x</text><text transform="translate(1712.12 1080.78) scale(0.98 1.05)">x</text><text transform="translate(1712.12 1091.36) scale(0.98 1.05)">x</text><text transform="translate(1712.12 1101.94) scale(0.98 1.05)">x</text><text transform="translate(1694.14 1112.52) scale(0.98 1.05)">x</text><text transform="translate(1685.15 1123.10) scale(0.98 1.05)">x</text><text transform="translate(1685.15 1133.68) scale(0.98 1.05)">x</text><text transform="translate(1667.17 1144.26) scale(0.98 1.05)">x</text><text transform="translate(1667.17 1154.84) scale(0.98 1.05)">x</text><text transform="translate(1658.18 1165.42) scale(0.98 1.05)">x</text><text transform="translate(1640.20 1176.00) scale(0.98 1.05)">x</text><text transform="translate(1631.21 1186.58) scale(0.98 1.05)">x</text><text transform="translate(1622.22 1197.16) scale(0.98 1.05)">x</text><text transform="translate(1604.24 1218.32) scale(0.98 1.05)">x</text><text transform="translate(1604.24 1228.90) scale(0.98 1.05)">x</text><text transform="translate(1604.24 1239.48) scale(0.98 1.05)">x</text></g>
<text transform="translate(1518 823.6) scale(1 1.03)" font-size="34.4" fill="#000" stroke="#000" stroke-width="0.3"><tspan class="i">P<tspan font-size="19.6" dy="10.6">TetO2</tspan><tspan dy="-10.6">-TLC1 hog1</tspan></tspan><tspan font-size="32">Δ</tspan><tspan dx="-1"> (without dox)</tspan></text>
</svg></body></html>
